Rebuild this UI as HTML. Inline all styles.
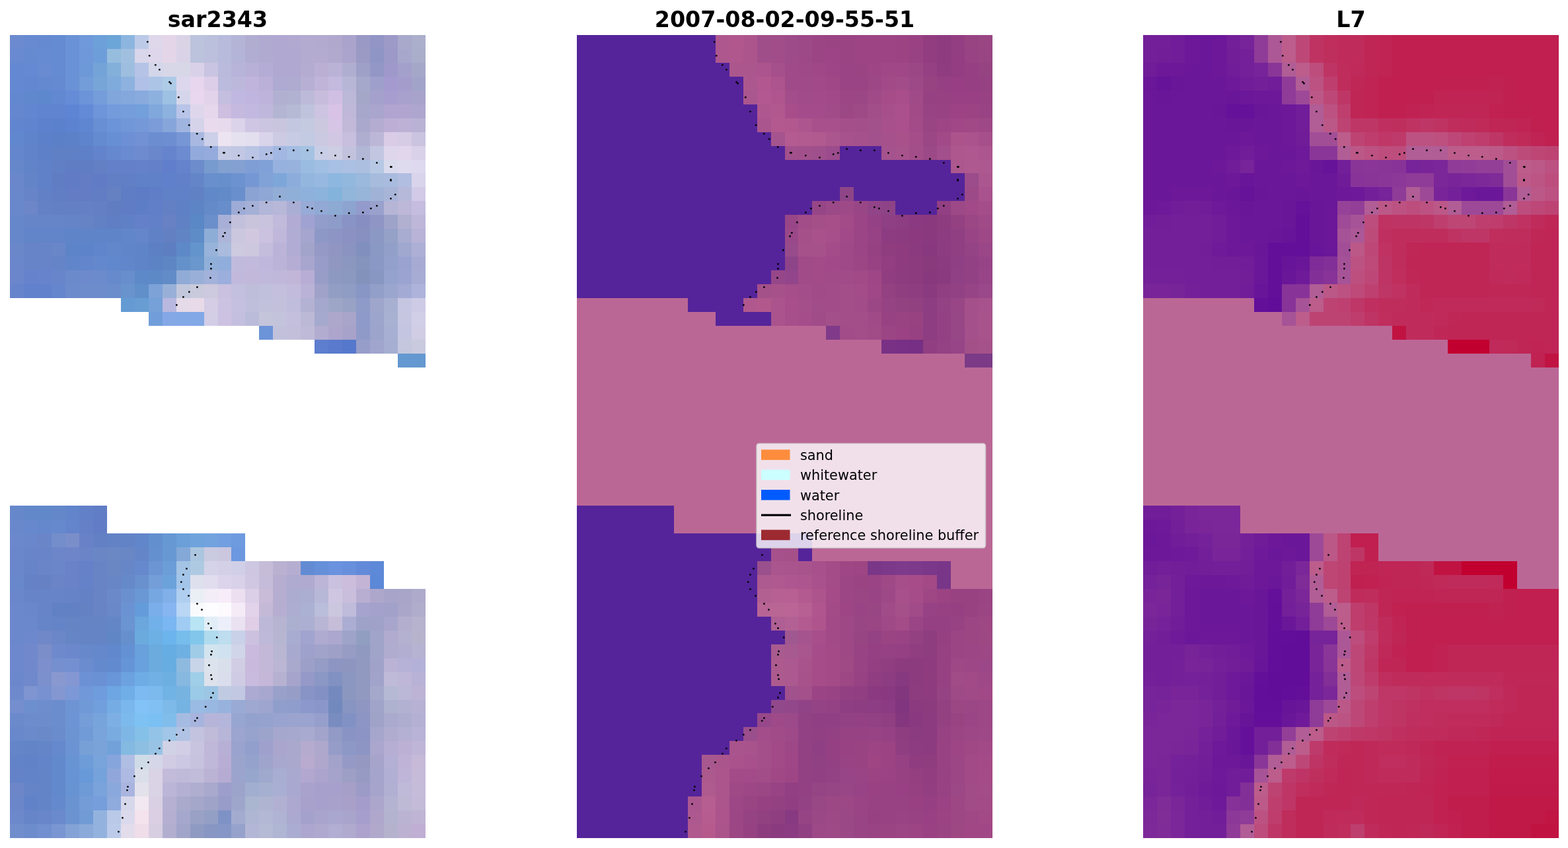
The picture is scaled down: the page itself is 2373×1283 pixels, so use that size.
<!DOCTYPE html>
<html><head><meta charset="utf-8"><title>shoreline detection</title>
<style>html,body{margin:0;padding:0;background:#fff}body{width:2373px;height:1283px;overflow:hidden}svg{display:block}</style>
</head><body>
<svg width="2373" height="1283" viewBox="0 0 2373 1283">
<g shape-rendering="crispEdges">
<rect x="15" y="53" width="21" height="21" fill="#6b8ad0"/>
<rect x="36" y="53" width="21" height="21" fill="#678ad0"/>
<rect x="57" y="53" width="21" height="21" fill="#668ad1"/>
<rect x="78" y="53" width="21" height="21" fill="#658bd2"/>
<rect x="99" y="53" width="21" height="21" fill="#6a92d6"/>
<rect x="120" y="53" width="21" height="21" fill="#6f99db"/>
<rect x="141" y="53" width="21" height="21" fill="#6da0d8"/>
<rect x="162" y="53" width="21" height="21" fill="#6ca5d7"/>
<rect x="183" y="53" width="21" height="21" fill="#8cb6e0"/>
<rect x="204" y="53" width="21" height="21" fill="#bccae8"/>
<rect x="225" y="53" width="21" height="21" fill="#dfd8eb"/>
<rect x="246" y="53" width="21" height="21" fill="#e4d6e8"/>
<rect x="267" y="53" width="21" height="21" fill="#dad3e6"/>
<rect x="288" y="53" width="21" height="21" fill="#bcc3dc"/>
<rect x="309" y="53" width="21" height="21" fill="#bbc0dc"/>
<rect x="330" y="53" width="20" height="21" fill="#b8bbdb"/>
<rect x="350" y="53" width="21" height="21" fill="#b4b4d7"/>
<rect x="371" y="53" width="21" height="21" fill="#b1add1"/>
<rect x="392" y="53" width="21" height="21" fill="#b0a9d0"/>
<rect x="413" y="53" width="21" height="21" fill="#b0a8d0"/>
<rect x="434" y="53" width="21" height="21" fill="#b1a9d0"/>
<rect x="455" y="53" width="21" height="21" fill="#b3abd0"/>
<rect x="476" y="53" width="21" height="21" fill="#b3abcf"/>
<rect x="497" y="53" width="21" height="21" fill="#b0a8cd"/>
<rect x="518" y="53" width="21" height="21" fill="#aaa3cb"/>
<rect x="539" y="53" width="21" height="21" fill="#9a99c5"/>
<rect x="560" y="53" width="21" height="21" fill="#9295c5"/>
<rect x="581" y="53" width="21" height="21" fill="#9d9ac8"/>
<rect x="602" y="53" width="21" height="21" fill="#a9a9cb"/>
<rect x="623" y="53" width="21" height="21" fill="#acafcc"/>
<rect x="15" y="74" width="21" height="21" fill="#698ad0"/>
<rect x="36" y="74" width="21" height="21" fill="#668ad0"/>
<rect x="57" y="74" width="21" height="21" fill="#678bd2"/>
<rect x="78" y="74" width="21" height="21" fill="#658bd2"/>
<rect x="99" y="74" width="21" height="21" fill="#6a92d6"/>
<rect x="120" y="74" width="21" height="21" fill="#6f98db"/>
<rect x="141" y="74" width="21" height="21" fill="#6e9ed9"/>
<rect x="162" y="74" width="21" height="21" fill="#96bddd"/>
<rect x="183" y="74" width="21" height="21" fill="#a1c0df"/>
<rect x="204" y="74" width="21" height="21" fill="#d9d6eb"/>
<rect x="225" y="74" width="21" height="21" fill="#ded7eb"/>
<rect x="246" y="74" width="21" height="21" fill="#e4d6e8"/>
<rect x="267" y="74" width="21" height="21" fill="#dad3e7"/>
<rect x="288" y="74" width="21" height="21" fill="#bcc3dc"/>
<rect x="309" y="74" width="21" height="21" fill="#bdc0dc"/>
<rect x="330" y="74" width="20" height="21" fill="#b8bbdc"/>
<rect x="350" y="74" width="21" height="21" fill="#b4b4d8"/>
<rect x="371" y="74" width="21" height="21" fill="#b1add2"/>
<rect x="392" y="74" width="21" height="21" fill="#b0a9d0"/>
<rect x="413" y="74" width="42" height="21" fill="#b0a8d0"/>
<rect x="455" y="74" width="42" height="21" fill="#b4acd0"/>
<rect x="497" y="74" width="21" height="21" fill="#b1a9ce"/>
<rect x="518" y="74" width="21" height="21" fill="#aba4cc"/>
<rect x="539" y="74" width="21" height="21" fill="#9a9ac5"/>
<rect x="560" y="74" width="21" height="21" fill="#8f95c4"/>
<rect x="581" y="74" width="21" height="21" fill="#9c99c8"/>
<rect x="602" y="74" width="21" height="21" fill="#a7a7cc"/>
<rect x="623" y="74" width="21" height="21" fill="#aaaecb"/>
<rect x="15" y="95" width="21" height="21" fill="#6588d2"/>
<rect x="36" y="95" width="21" height="21" fill="#6589d2"/>
<rect x="57" y="95" width="21" height="21" fill="#688bd2"/>
<rect x="78" y="95" width="21" height="21" fill="#658bd2"/>
<rect x="99" y="95" width="21" height="21" fill="#6a92d6"/>
<rect x="120" y="95" width="21" height="21" fill="#6e99d8"/>
<rect x="141" y="95" width="21" height="21" fill="#74a3d8"/>
<rect x="162" y="95" width="21" height="21" fill="#83afdb"/>
<rect x="183" y="95" width="21" height="21" fill="#9ebee0"/>
<rect x="204" y="95" width="21" height="21" fill="#b5c3e6"/>
<rect x="225" y="95" width="21" height="21" fill="#d4d6ea"/>
<rect x="246" y="95" width="21" height="21" fill="#d7d7e8"/>
<rect x="267" y="95" width="21" height="21" fill="#d8d7e8"/>
<rect x="288" y="95" width="21" height="21" fill="#d9d1e8"/>
<rect x="309" y="95" width="21" height="21" fill="#c9c4e1"/>
<rect x="330" y="95" width="20" height="21" fill="#babadc"/>
<rect x="350" y="95" width="21" height="21" fill="#b8b4d9"/>
<rect x="371" y="95" width="21" height="21" fill="#b8b0d7"/>
<rect x="392" y="95" width="21" height="21" fill="#b4acd4"/>
<rect x="413" y="95" width="42" height="21" fill="#b0a8d0"/>
<rect x="455" y="95" width="21" height="21" fill="#b5acd1"/>
<rect x="476" y="95" width="21" height="21" fill="#bbb0d4"/>
<rect x="497" y="95" width="21" height="21" fill="#bab3d6"/>
<rect x="518" y="95" width="21" height="21" fill="#b0aed0"/>
<rect x="539" y="95" width="21" height="21" fill="#9fa0c8"/>
<rect x="560" y="95" width="21" height="21" fill="#9297c6"/>
<rect x="581" y="95" width="21" height="21" fill="#9e98cb"/>
<rect x="602" y="95" width="21" height="21" fill="#a4a0cc"/>
<rect x="623" y="95" width="21" height="21" fill="#a5a7c9"/>
<rect x="15" y="116" width="21" height="21" fill="#6488d2"/>
<rect x="36" y="116" width="21" height="21" fill="#6388d1"/>
<rect x="57" y="116" width="21" height="21" fill="#6489d0"/>
<rect x="78" y="116" width="21" height="21" fill="#658ad2"/>
<rect x="99" y="116" width="21" height="21" fill="#6a92d6"/>
<rect x="120" y="116" width="21" height="21" fill="#729dd8"/>
<rect x="141" y="116" width="21" height="21" fill="#77a5d8"/>
<rect x="162" y="116" width="21" height="21" fill="#7eaadc"/>
<rect x="183" y="116" width="21" height="21" fill="#8eb2df"/>
<rect x="204" y="116" width="21" height="21" fill="#b0c0e6"/>
<rect x="225" y="116" width="21" height="21" fill="#acc5e7"/>
<rect x="246" y="116" width="21" height="21" fill="#aecbe7"/>
<rect x="267" y="116" width="21" height="21" fill="#dcd7ec"/>
<rect x="288" y="116" width="21" height="21" fill="#e7d6ee"/>
<rect x="309" y="116" width="21" height="21" fill="#dccde8"/>
<rect x="330" y="116" width="20" height="21" fill="#babbdd"/>
<rect x="350" y="116" width="21" height="21" fill="#bcb8dc"/>
<rect x="371" y="116" width="21" height="21" fill="#c1b4dc"/>
<rect x="392" y="116" width="21" height="21" fill="#bbb0d8"/>
<rect x="413" y="116" width="21" height="21" fill="#aeaad1"/>
<rect x="434" y="116" width="21" height="21" fill="#aeaad0"/>
<rect x="455" y="116" width="21" height="21" fill="#b8b0d4"/>
<rect x="476" y="116" width="21" height="21" fill="#c0b5d8"/>
<rect x="497" y="116" width="21" height="21" fill="#c3bade"/>
<rect x="518" y="116" width="21" height="21" fill="#b7b6d6"/>
<rect x="539" y="116" width="21" height="21" fill="#a5a8ca"/>
<rect x="560" y="116" width="21" height="21" fill="#9f9fcb"/>
<rect x="581" y="116" width="21" height="21" fill="#a49acf"/>
<rect x="602" y="116" width="21" height="21" fill="#a49dcc"/>
<rect x="623" y="116" width="21" height="21" fill="#a2a3c9"/>
<rect x="15" y="137" width="21" height="21" fill="#6488d0"/>
<rect x="36" y="137" width="21" height="21" fill="#5f88cd"/>
<rect x="57" y="137" width="21" height="21" fill="#5e88cd"/>
<rect x="78" y="137" width="21" height="21" fill="#6388d2"/>
<rect x="99" y="137" width="21" height="21" fill="#658cd6"/>
<rect x="120" y="137" width="21" height="21" fill="#6c94d8"/>
<rect x="141" y="137" width="21" height="21" fill="#759dd9"/>
<rect x="162" y="137" width="21" height="21" fill="#80a6dc"/>
<rect x="183" y="137" width="21" height="21" fill="#84a8dc"/>
<rect x="204" y="137" width="21" height="21" fill="#88aadd"/>
<rect x="225" y="137" width="21" height="21" fill="#8db1df"/>
<rect x="246" y="137" width="21" height="21" fill="#9dc1e3"/>
<rect x="267" y="137" width="21" height="21" fill="#d5d6eb"/>
<rect x="288" y="137" width="21" height="21" fill="#e8d7ee"/>
<rect x="309" y="137" width="21" height="21" fill="#e2d2ea"/>
<rect x="330" y="137" width="20" height="21" fill="#c4bedf"/>
<rect x="350" y="137" width="21" height="21" fill="#c0b8e0"/>
<rect x="371" y="137" width="21" height="21" fill="#c0b5df"/>
<rect x="392" y="137" width="21" height="21" fill="#beb4db"/>
<rect x="413" y="137" width="21" height="21" fill="#b1b0d1"/>
<rect x="434" y="137" width="21" height="21" fill="#b1b1d1"/>
<rect x="455" y="137" width="21" height="21" fill="#bcbad8"/>
<rect x="476" y="137" width="21" height="21" fill="#c8bcdc"/>
<rect x="497" y="137" width="21" height="21" fill="#d1bfe3"/>
<rect x="518" y="137" width="21" height="21" fill="#bcb8d8"/>
<rect x="539" y="137" width="21" height="21" fill="#a5a7c9"/>
<rect x="560" y="137" width="21" height="21" fill="#a4a1cc"/>
<rect x="581" y="137" width="21" height="21" fill="#a89dcf"/>
<rect x="602" y="137" width="21" height="21" fill="#a8a0cd"/>
<rect x="623" y="137" width="21" height="21" fill="#a7a3cb"/>
<rect x="15" y="158" width="21" height="21" fill="#6487d0"/>
<rect x="36" y="158" width="21" height="21" fill="#6286cf"/>
<rect x="57" y="158" width="21" height="21" fill="#6084cf"/>
<rect x="78" y="158" width="21" height="21" fill="#6084d0"/>
<rect x="99" y="158" width="21" height="21" fill="#5e85d4"/>
<rect x="120" y="158" width="21" height="21" fill="#628ad7"/>
<rect x="141" y="158" width="21" height="21" fill="#6e94da"/>
<rect x="162" y="158" width="21" height="21" fill="#749cdc"/>
<rect x="183" y="158" width="21" height="21" fill="#759ddc"/>
<rect x="204" y="158" width="21" height="21" fill="#739fdb"/>
<rect x="225" y="158" width="21" height="21" fill="#80a8dc"/>
<rect x="246" y="158" width="21" height="21" fill="#8db2df"/>
<rect x="267" y="158" width="21" height="21" fill="#b8c4e8"/>
<rect x="288" y="158" width="21" height="21" fill="#ded7ec"/>
<rect x="309" y="158" width="21" height="21" fill="#e6d7ec"/>
<rect x="330" y="158" width="20" height="21" fill="#cebee0"/>
<rect x="350" y="158" width="21" height="21" fill="#c5b9e0"/>
<rect x="371" y="158" width="21" height="21" fill="#c2b9e0"/>
<rect x="392" y="158" width="21" height="21" fill="#c0b8dc"/>
<rect x="413" y="158" width="21" height="21" fill="#b3b5d2"/>
<rect x="434" y="158" width="21" height="21" fill="#b6bad5"/>
<rect x="455" y="158" width="21" height="21" fill="#c0c3dc"/>
<rect x="476" y="158" width="21" height="21" fill="#ccc4e0"/>
<rect x="497" y="158" width="21" height="21" fill="#d8c3e6"/>
<rect x="518" y="158" width="21" height="21" fill="#bfb8d8"/>
<rect x="539" y="158" width="21" height="21" fill="#a7a7cb"/>
<rect x="560" y="158" width="21" height="21" fill="#aaa5cd"/>
<rect x="581" y="158" width="21" height="21" fill="#b2a4d0"/>
<rect x="602" y="158" width="21" height="21" fill="#b1a5d0"/>
<rect x="623" y="158" width="21" height="21" fill="#aea6ce"/>
<rect x="15" y="179" width="21" height="21" fill="#6186cf"/>
<rect x="36" y="179" width="21" height="21" fill="#6084cd"/>
<rect x="57" y="179" width="21" height="21" fill="#5d81cc"/>
<rect x="78" y="179" width="21" height="21" fill="#5c81cc"/>
<rect x="99" y="179" width="21" height="21" fill="#5c83cf"/>
<rect x="120" y="179" width="21" height="21" fill="#5e86d1"/>
<rect x="141" y="179" width="21" height="21" fill="#688fd4"/>
<rect x="162" y="179" width="21" height="21" fill="#6c94d8"/>
<rect x="183" y="179" width="21" height="21" fill="#7297d8"/>
<rect x="204" y="179" width="21" height="21" fill="#7498d8"/>
<rect x="225" y="179" width="21" height="21" fill="#7b9cd8"/>
<rect x="246" y="179" width="21" height="21" fill="#86a6da"/>
<rect x="267" y="179" width="21" height="21" fill="#a0b4e0"/>
<rect x="288" y="179" width="21" height="21" fill="#d5d3ea"/>
<rect x="309" y="179" width="21" height="21" fill="#eadaee"/>
<rect x="330" y="179" width="20" height="21" fill="#e7daed"/>
<rect x="350" y="179" width="21" height="21" fill="#dbd3e9"/>
<rect x="371" y="179" width="21" height="21" fill="#cec6e3"/>
<rect x="392" y="179" width="21" height="21" fill="#ccc5e1"/>
<rect x="413" y="179" width="21" height="21" fill="#c9c5de"/>
<rect x="434" y="179" width="21" height="21" fill="#c3c7df"/>
<rect x="455" y="179" width="21" height="21" fill="#c4cae0"/>
<rect x="476" y="179" width="21" height="21" fill="#ccc8e0"/>
<rect x="497" y="179" width="21" height="21" fill="#d6c5e4"/>
<rect x="518" y="179" width="21" height="21" fill="#c2b9d9"/>
<rect x="539" y="179" width="21" height="21" fill="#aaa9cd"/>
<rect x="560" y="179" width="21" height="21" fill="#b4acd1"/>
<rect x="581" y="179" width="21" height="21" fill="#bdaed6"/>
<rect x="602" y="179" width="21" height="21" fill="#bdb1d6"/>
<rect x="623" y="179" width="21" height="21" fill="#bab2d5"/>
<rect x="15" y="200" width="21" height="21" fill="#6187cf"/>
<rect x="36" y="200" width="21" height="21" fill="#6084cc"/>
<rect x="57" y="200" width="21" height="21" fill="#5c80c9"/>
<rect x="78" y="200" width="21" height="21" fill="#5c80c8"/>
<rect x="99" y="200" width="21" height="21" fill="#5c81c9"/>
<rect x="120" y="200" width="21" height="21" fill="#5d84cc"/>
<rect x="141" y="200" width="21" height="21" fill="#648bd0"/>
<rect x="162" y="200" width="21" height="21" fill="#668fd4"/>
<rect x="183" y="200" width="21" height="21" fill="#6d90d4"/>
<rect x="204" y="200" width="21" height="21" fill="#7290d4"/>
<rect x="225" y="200" width="21" height="21" fill="#6c8ed1"/>
<rect x="246" y="200" width="21" height="21" fill="#6d8fd1"/>
<rect x="267" y="200" width="21" height="21" fill="#7696d5"/>
<rect x="288" y="200" width="21" height="21" fill="#a8b8e0"/>
<rect x="309" y="200" width="21" height="21" fill="#ccd0e8"/>
<rect x="330" y="200" width="20" height="21" fill="#ede4f2"/>
<rect x="350" y="200" width="21" height="21" fill="#e6e1ef"/>
<rect x="371" y="200" width="21" height="21" fill="#e3dfef"/>
<rect x="392" y="200" width="21" height="21" fill="#d9d4ea"/>
<rect x="413" y="200" width="21" height="21" fill="#cdcae4"/>
<rect x="434" y="200" width="21" height="21" fill="#c7cbe3"/>
<rect x="455" y="200" width="21" height="21" fill="#c3cbe3"/>
<rect x="476" y="200" width="21" height="21" fill="#cbc9e2"/>
<rect x="497" y="200" width="21" height="21" fill="#d2c7e3"/>
<rect x="518" y="200" width="21" height="21" fill="#c8bedd"/>
<rect x="539" y="200" width="21" height="21" fill="#afaed1"/>
<rect x="560" y="200" width="21" height="21" fill="#bdb7d7"/>
<rect x="581" y="200" width="21" height="21" fill="#dacce6"/>
<rect x="602" y="200" width="21" height="21" fill="#d7cce5"/>
<rect x="623" y="200" width="21" height="21" fill="#cac4e0"/>
<rect x="15" y="221" width="21" height="21" fill="#6386cc"/>
<rect x="36" y="221" width="21" height="21" fill="#6083c9"/>
<rect x="57" y="221" width="21" height="21" fill="#5d80c8"/>
<rect x="78" y="221" width="42" height="21" fill="#5f80c5"/>
<rect x="120" y="221" width="21" height="21" fill="#5e80c8"/>
<rect x="141" y="221" width="21" height="21" fill="#6384cc"/>
<rect x="162" y="221" width="21" height="21" fill="#6588cf"/>
<rect x="183" y="221" width="21" height="21" fill="#6b8bd0"/>
<rect x="204" y="221" width="21" height="21" fill="#6e8bcf"/>
<rect x="225" y="221" width="21" height="21" fill="#6a87cc"/>
<rect x="246" y="221" width="21" height="21" fill="#6683cd"/>
<rect x="267" y="221" width="21" height="21" fill="#6c8bd0"/>
<rect x="288" y="221" width="21" height="21" fill="#92a9db"/>
<rect x="309" y="221" width="21" height="21" fill="#96abdd"/>
<rect x="330" y="221" width="20" height="21" fill="#c4cae4"/>
<rect x="350" y="221" width="21" height="21" fill="#c2c8e4"/>
<rect x="371" y="221" width="21" height="21" fill="#bac4e4"/>
<rect x="392" y="221" width="21" height="21" fill="#b1bee3"/>
<rect x="413" y="221" width="21" height="21" fill="#a2b7e1"/>
<rect x="434" y="221" width="21" height="21" fill="#a4bde2"/>
<rect x="455" y="221" width="21" height="21" fill="#a5c2e3"/>
<rect x="476" y="221" width="21" height="21" fill="#c8cee6"/>
<rect x="497" y="221" width="21" height="21" fill="#cdcde3"/>
<rect x="518" y="221" width="21" height="21" fill="#c3c2dc"/>
<rect x="539" y="221" width="21" height="21" fill="#b2b7d6"/>
<rect x="560" y="221" width="21" height="21" fill="#c3c6e0"/>
<rect x="581" y="221" width="21" height="21" fill="#ded6eb"/>
<rect x="602" y="221" width="21" height="21" fill="#e1d6eb"/>
<rect x="623" y="221" width="21" height="21" fill="#d9d1e9"/>
<rect x="15" y="242" width="21" height="20" fill="#6787cb"/>
<rect x="36" y="242" width="21" height="20" fill="#6184c8"/>
<rect x="57" y="242" width="21" height="20" fill="#6080c8"/>
<rect x="78" y="242" width="21" height="20" fill="#607fc4"/>
<rect x="99" y="242" width="42" height="20" fill="#607dc4"/>
<rect x="141" y="242" width="21" height="20" fill="#6380c5"/>
<rect x="162" y="242" width="21" height="20" fill="#6480c8"/>
<rect x="183" y="242" width="21" height="20" fill="#6481c8"/>
<rect x="204" y="242" width="21" height="20" fill="#6581c9"/>
<rect x="225" y="242" width="21" height="20" fill="#6480c9"/>
<rect x="246" y="242" width="21" height="20" fill="#617ecc"/>
<rect x="267" y="242" width="21" height="20" fill="#6582cc"/>
<rect x="288" y="242" width="21" height="20" fill="#6c8ccc"/>
<rect x="309" y="242" width="21" height="20" fill="#789bcf"/>
<rect x="330" y="242" width="20" height="20" fill="#82a0d0"/>
<rect x="350" y="242" width="21" height="20" fill="#84a0d2"/>
<rect x="371" y="242" width="21" height="20" fill="#809ed6"/>
<rect x="392" y="242" width="21" height="20" fill="#7fa1d8"/>
<rect x="413" y="242" width="21" height="20" fill="#96b1dd"/>
<rect x="434" y="242" width="21" height="20" fill="#96b2dd"/>
<rect x="455" y="242" width="21" height="20" fill="#9abce0"/>
<rect x="476" y="242" width="21" height="20" fill="#a1bee3"/>
<rect x="497" y="242" width="21" height="20" fill="#a8c0e4"/>
<rect x="518" y="242" width="21" height="20" fill="#abc0e3"/>
<rect x="539" y="242" width="21" height="20" fill="#acbfe0"/>
<rect x="560" y="242" width="21" height="20" fill="#b6c8e4"/>
<rect x="581" y="242" width="21" height="20" fill="#d9dbed"/>
<rect x="602" y="242" width="21" height="20" fill="#dfdbef"/>
<rect x="623" y="242" width="21" height="20" fill="#ded9ee"/>
<rect x="15" y="262" width="21" height="21" fill="#6a87cb"/>
<rect x="36" y="262" width="21" height="21" fill="#6484c8"/>
<rect x="57" y="262" width="21" height="21" fill="#6080c7"/>
<rect x="78" y="262" width="21" height="21" fill="#607dc4"/>
<rect x="99" y="262" width="21" height="21" fill="#617cc4"/>
<rect x="120" y="262" width="21" height="21" fill="#637cc4"/>
<rect x="141" y="262" width="21" height="21" fill="#617cc4"/>
<rect x="162" y="262" width="21" height="21" fill="#627ec4"/>
<rect x="183" y="262" width="21" height="21" fill="#607fc5"/>
<rect x="204" y="262" width="21" height="21" fill="#6080c7"/>
<rect x="225" y="262" width="21" height="21" fill="#6080c8"/>
<rect x="246" y="262" width="21" height="21" fill="#6080cb"/>
<rect x="267" y="262" width="21" height="21" fill="#6180c9"/>
<rect x="288" y="262" width="21" height="21" fill="#6485c8"/>
<rect x="309" y="262" width="21" height="21" fill="#6990cc"/>
<rect x="330" y="262" width="20" height="21" fill="#678fcc"/>
<rect x="350" y="262" width="21" height="21" fill="#6c93cf"/>
<rect x="371" y="262" width="21" height="21" fill="#7598d5"/>
<rect x="392" y="262" width="21" height="21" fill="#81a2d7"/>
<rect x="413" y="262" width="21" height="21" fill="#7ea6d9"/>
<rect x="434" y="262" width="21" height="21" fill="#8caddc"/>
<rect x="455" y="262" width="21" height="21" fill="#93b6df"/>
<rect x="476" y="262" width="21" height="21" fill="#97b8e0"/>
<rect x="497" y="262" width="21" height="21" fill="#8eb7df"/>
<rect x="518" y="262" width="21" height="21" fill="#92b8dd"/>
<rect x="539" y="262" width="21" height="21" fill="#9ab9dc"/>
<rect x="560" y="262" width="21" height="21" fill="#a7bcdd"/>
<rect x="581" y="262" width="21" height="21" fill="#a9bbdf"/>
<rect x="602" y="262" width="21" height="21" fill="#b2bee1"/>
<rect x="623" y="262" width="21" height="21" fill="#d9d4ec"/>
<rect x="15" y="283" width="21" height="21" fill="#6987cb"/>
<rect x="36" y="283" width="21" height="21" fill="#6884c8"/>
<rect x="57" y="283" width="21" height="21" fill="#6180c5"/>
<rect x="78" y="283" width="21" height="21" fill="#617dc4"/>
<rect x="99" y="283" width="21" height="21" fill="#637cc4"/>
<rect x="120" y="283" width="21" height="21" fill="#647cc4"/>
<rect x="141" y="283" width="21" height="21" fill="#627dc4"/>
<rect x="162" y="283" width="21" height="21" fill="#6681c1"/>
<rect x="183" y="283" width="21" height="21" fill="#5e7dc4"/>
<rect x="204" y="283" width="21" height="21" fill="#5d7cc5"/>
<rect x="225" y="283" width="21" height="21" fill="#607dc8"/>
<rect x="246" y="283" width="21" height="21" fill="#6080c8"/>
<rect x="267" y="283" width="21" height="21" fill="#6080c7"/>
<rect x="288" y="283" width="21" height="21" fill="#6082c5"/>
<rect x="309" y="283" width="21" height="21" fill="#6188c8"/>
<rect x="330" y="283" width="20" height="21" fill="#618ac9"/>
<rect x="350" y="283" width="21" height="21" fill="#698fcc"/>
<rect x="371" y="283" width="21" height="21" fill="#8ba3d2"/>
<rect x="392" y="283" width="21" height="21" fill="#8ea7d5"/>
<rect x="413" y="283" width="21" height="21" fill="#92aed7"/>
<rect x="434" y="283" width="21" height="21" fill="#8fafd9"/>
<rect x="455" y="283" width="21" height="21" fill="#8eb1dc"/>
<rect x="476" y="283" width="21" height="21" fill="#8cb3dc"/>
<rect x="497" y="283" width="21" height="21" fill="#83b3db"/>
<rect x="518" y="283" width="21" height="21" fill="#92b5da"/>
<rect x="539" y="283" width="21" height="21" fill="#96b5d9"/>
<rect x="560" y="283" width="21" height="21" fill="#a0b3d7"/>
<rect x="581" y="283" width="21" height="21" fill="#a8b5d8"/>
<rect x="602" y="283" width="21" height="21" fill="#b6b9da"/>
<rect x="623" y="283" width="21" height="21" fill="#d2cae7"/>
<rect x="15" y="304" width="21" height="21" fill="#6988cb"/>
<rect x="36" y="304" width="21" height="21" fill="#6c86c8"/>
<rect x="57" y="304" width="21" height="21" fill="#6581c5"/>
<rect x="78" y="304" width="42" height="21" fill="#6480c4"/>
<rect x="120" y="304" width="21" height="21" fill="#6580c4"/>
<rect x="141" y="304" width="21" height="21" fill="#657fc4"/>
<rect x="162" y="304" width="21" height="21" fill="#607dc1"/>
<rect x="183" y="304" width="21" height="21" fill="#5f7cc4"/>
<rect x="204" y="304" width="21" height="21" fill="#5e7dc7"/>
<rect x="225" y="304" width="21" height="21" fill="#607fc8"/>
<rect x="246" y="304" width="21" height="21" fill="#6380c5"/>
<rect x="267" y="304" width="21" height="21" fill="#5e80c4"/>
<rect x="288" y="304" width="21" height="21" fill="#5d84c4"/>
<rect x="309" y="304" width="21" height="21" fill="#658ac8"/>
<rect x="330" y="304" width="20" height="21" fill="#678dca"/>
<rect x="350" y="304" width="21" height="21" fill="#9dabd6"/>
<rect x="371" y="304" width="21" height="21" fill="#a5b0d7"/>
<rect x="392" y="304" width="21" height="21" fill="#b2b6d8"/>
<rect x="413" y="304" width="21" height="21" fill="#b7b7d8"/>
<rect x="434" y="304" width="21" height="21" fill="#aaaed5"/>
<rect x="455" y="304" width="21" height="21" fill="#98abd7"/>
<rect x="476" y="304" width="21" height="21" fill="#91a9d4"/>
<rect x="497" y="304" width="21" height="21" fill="#8daad3"/>
<rect x="518" y="304" width="21" height="21" fill="#8ea4d0"/>
<rect x="539" y="304" width="21" height="21" fill="#929bcb"/>
<rect x="560" y="304" width="21" height="21" fill="#99a1cd"/>
<rect x="581" y="304" width="21" height="21" fill="#b6b5d6"/>
<rect x="602" y="304" width="21" height="21" fill="#bdb7d8"/>
<rect x="623" y="304" width="21" height="21" fill="#c5bddf"/>
<rect x="15" y="325" width="21" height="21" fill="#6787cb"/>
<rect x="36" y="325" width="21" height="21" fill="#6685c8"/>
<rect x="57" y="325" width="42" height="21" fill="#6684c8"/>
<rect x="99" y="325" width="21" height="21" fill="#6484c7"/>
<rect x="120" y="325" width="21" height="21" fill="#6683c5"/>
<rect x="141" y="325" width="21" height="21" fill="#6280c4"/>
<rect x="162" y="325" width="21" height="21" fill="#607ec4"/>
<rect x="183" y="325" width="21" height="21" fill="#6080c5"/>
<rect x="204" y="325" width="21" height="21" fill="#6380c8"/>
<rect x="225" y="325" width="21" height="21" fill="#6280c8"/>
<rect x="246" y="325" width="21" height="21" fill="#6880c4"/>
<rect x="267" y="325" width="21" height="21" fill="#6081c4"/>
<rect x="288" y="325" width="21" height="21" fill="#5a87c5"/>
<rect x="309" y="325" width="21" height="21" fill="#6b8fca"/>
<rect x="330" y="325" width="20" height="21" fill="#a8afd6"/>
<rect x="350" y="325" width="21" height="21" fill="#c2c0da"/>
<rect x="371" y="325" width="21" height="21" fill="#c9c3dc"/>
<rect x="392" y="325" width="21" height="21" fill="#cac3dd"/>
<rect x="413" y="325" width="21" height="21" fill="#c2badb"/>
<rect x="434" y="325" width="21" height="21" fill="#b2acd4"/>
<rect x="455" y="325" width="21" height="21" fill="#a0a2d1"/>
<rect x="476" y="325" width="21" height="21" fill="#939dcc"/>
<rect x="497" y="325" width="21" height="21" fill="#8d9cc9"/>
<rect x="518" y="325" width="21" height="21" fill="#8993c5"/>
<rect x="539" y="325" width="21" height="21" fill="#878fc2"/>
<rect x="560" y="325" width="21" height="21" fill="#8f96c5"/>
<rect x="581" y="325" width="21" height="21" fill="#9ea3c9"/>
<rect x="602" y="325" width="21" height="21" fill="#b1b0d1"/>
<rect x="623" y="325" width="21" height="21" fill="#beb7da"/>
<rect x="15" y="346" width="21" height="21" fill="#6787cb"/>
<rect x="36" y="346" width="63" height="21" fill="#6284c8"/>
<rect x="99" y="346" width="84" height="21" fill="#6084c8"/>
<rect x="183" y="346" width="21" height="21" fill="#6186ca"/>
<rect x="204" y="346" width="21" height="21" fill="#6586cb"/>
<rect x="225" y="346" width="21" height="21" fill="#6181c7"/>
<rect x="246" y="346" width="21" height="21" fill="#6380c2"/>
<rect x="267" y="346" width="21" height="21" fill="#6084c4"/>
<rect x="288" y="346" width="21" height="21" fill="#5d8cc7"/>
<rect x="309" y="346" width="21" height="21" fill="#8eadd6"/>
<rect x="330" y="346" width="20" height="21" fill="#aeb5d9"/>
<rect x="350" y="346" width="21" height="21" fill="#cbc7df"/>
<rect x="371" y="346" width="21" height="21" fill="#d1c8e0"/>
<rect x="392" y="346" width="21" height="21" fill="#cbc2df"/>
<rect x="413" y="346" width="21" height="21" fill="#c0b8db"/>
<rect x="434" y="346" width="21" height="21" fill="#b1acd4"/>
<rect x="455" y="346" width="21" height="21" fill="#a5a5cf"/>
<rect x="476" y="346" width="21" height="21" fill="#8e98c7"/>
<rect x="497" y="346" width="21" height="21" fill="#8c95c4"/>
<rect x="518" y="346" width="21" height="21" fill="#8b91c3"/>
<rect x="539" y="346" width="21" height="21" fill="#8790c0"/>
<rect x="560" y="346" width="21" height="21" fill="#8c98c4"/>
<rect x="581" y="346" width="21" height="21" fill="#96a1c8"/>
<rect x="602" y="346" width="21" height="21" fill="#a8acd0"/>
<rect x="623" y="346" width="21" height="21" fill="#b8b3d7"/>
<rect x="15" y="367" width="21" height="21" fill="#6987c9"/>
<rect x="36" y="367" width="21" height="21" fill="#6784c8"/>
<rect x="57" y="367" width="21" height="21" fill="#6884c8"/>
<rect x="78" y="367" width="21" height="21" fill="#6886c8"/>
<rect x="99" y="367" width="21" height="21" fill="#5e84c8"/>
<rect x="120" y="367" width="21" height="21" fill="#5d84cb"/>
<rect x="141" y="367" width="21" height="21" fill="#6085cc"/>
<rect x="162" y="367" width="21" height="21" fill="#6287cb"/>
<rect x="183" y="367" width="21" height="21" fill="#6085c9"/>
<rect x="204" y="367" width="21" height="21" fill="#6084c8"/>
<rect x="225" y="367" width="21" height="21" fill="#5d80c4"/>
<rect x="246" y="367" width="21" height="21" fill="#5d7fc2"/>
<rect x="267" y="367" width="21" height="21" fill="#5e89c8"/>
<rect x="288" y="367" width="21" height="21" fill="#6394cb"/>
<rect x="309" y="367" width="21" height="21" fill="#97b3d9"/>
<rect x="330" y="367" width="20" height="21" fill="#aabbdd"/>
<rect x="350" y="367" width="21" height="21" fill="#cdc9df"/>
<rect x="371" y="367" width="21" height="21" fill="#cec8df"/>
<rect x="392" y="367" width="21" height="21" fill="#c5bddc"/>
<rect x="413" y="367" width="21" height="21" fill="#bcb4d8"/>
<rect x="434" y="367" width="21" height="21" fill="#b0acd3"/>
<rect x="455" y="367" width="21" height="21" fill="#a2a4ca"/>
<rect x="476" y="367" width="21" height="21" fill="#9499c5"/>
<rect x="497" y="367" width="21" height="21" fill="#9095c1"/>
<rect x="518" y="367" width="21" height="21" fill="#8b93c0"/>
<rect x="539" y="367" width="21" height="21" fill="#818fbe"/>
<rect x="560" y="367" width="21" height="21" fill="#8a98c4"/>
<rect x="581" y="367" width="21" height="21" fill="#92a0c9"/>
<rect x="602" y="367" width="21" height="21" fill="#a0a8d0"/>
<rect x="623" y="367" width="21" height="21" fill="#aeafd6"/>
<rect x="15" y="388" width="21" height="21" fill="#6b87cb"/>
<rect x="36" y="388" width="21" height="21" fill="#6884c9"/>
<rect x="57" y="388" width="21" height="21" fill="#6884c8"/>
<rect x="78" y="388" width="21" height="21" fill="#6584c8"/>
<rect x="99" y="388" width="21" height="21" fill="#6185c9"/>
<rect x="120" y="388" width="21" height="21" fill="#6285cc"/>
<rect x="141" y="388" width="21" height="21" fill="#6488cc"/>
<rect x="162" y="388" width="21" height="21" fill="#6188cc"/>
<rect x="183" y="388" width="21" height="21" fill="#6186c9"/>
<rect x="204" y="388" width="21" height="21" fill="#5f84c8"/>
<rect x="225" y="388" width="21" height="21" fill="#5c84c5"/>
<rect x="246" y="388" width="21" height="21" fill="#5e86c5"/>
<rect x="267" y="388" width="21" height="21" fill="#6591ca"/>
<rect x="288" y="388" width="21" height="21" fill="#6a97cc"/>
<rect x="309" y="388" width="21" height="21" fill="#91b0d9"/>
<rect x="330" y="388" width="20" height="21" fill="#90addb"/>
<rect x="350" y="388" width="21" height="21" fill="#c0bbdd"/>
<rect x="371" y="388" width="21" height="21" fill="#c2badc"/>
<rect x="392" y="388" width="21" height="21" fill="#c0b8dc"/>
<rect x="413" y="388" width="21" height="21" fill="#bcb4d8"/>
<rect x="434" y="388" width="21" height="21" fill="#b5add4"/>
<rect x="455" y="388" width="21" height="21" fill="#a8a5cf"/>
<rect x="476" y="388" width="21" height="21" fill="#989cc8"/>
<rect x="497" y="388" width="21" height="21" fill="#9098c1"/>
<rect x="518" y="388" width="21" height="21" fill="#8c97c0"/>
<rect x="539" y="388" width="21" height="21" fill="#8494bd"/>
<rect x="560" y="388" width="21" height="21" fill="#8998c4"/>
<rect x="581" y="388" width="21" height="21" fill="#93a0cc"/>
<rect x="602" y="388" width="21" height="21" fill="#9aa2d0"/>
<rect x="623" y="388" width="21" height="21" fill="#a7abd4"/>
<rect x="15" y="409" width="21" height="21" fill="#6c86cc"/>
<rect x="36" y="409" width="21" height="21" fill="#6682cc"/>
<rect x="57" y="409" width="21" height="21" fill="#6783cc"/>
<rect x="78" y="409" width="21" height="21" fill="#6885cc"/>
<rect x="99" y="409" width="21" height="21" fill="#6b8acc"/>
<rect x="120" y="409" width="21" height="21" fill="#6d8bcc"/>
<rect x="141" y="409" width="21" height="21" fill="#6b8bcc"/>
<rect x="162" y="409" width="21" height="21" fill="#668acc"/>
<rect x="183" y="409" width="21" height="21" fill="#688ecb"/>
<rect x="204" y="409" width="21" height="21" fill="#5e89c8"/>
<rect x="225" y="409" width="21" height="21" fill="#5d89c7"/>
<rect x="246" y="409" width="21" height="21" fill="#618cc7"/>
<rect x="267" y="409" width="21" height="21" fill="#90abd6"/>
<rect x="288" y="409" width="21" height="21" fill="#9aafd8"/>
<rect x="309" y="409" width="21" height="21" fill="#a3b2db"/>
<rect x="330" y="409" width="20" height="21" fill="#9baedc"/>
<rect x="350" y="409" width="21" height="21" fill="#c1b9dc"/>
<rect x="371" y="409" width="21" height="21" fill="#c2b8d9"/>
<rect x="392" y="409" width="21" height="21" fill="#c0b9dc"/>
<rect x="413" y="409" width="21" height="21" fill="#c0b8db"/>
<rect x="434" y="409" width="21" height="21" fill="#c1b6d8"/>
<rect x="455" y="409" width="21" height="21" fill="#b8aed5"/>
<rect x="476" y="409" width="21" height="21" fill="#989dc7"/>
<rect x="497" y="409" width="21" height="21" fill="#8e99c1"/>
<rect x="518" y="409" width="21" height="21" fill="#8b98c0"/>
<rect x="539" y="409" width="21" height="21" fill="#8292bb"/>
<rect x="560" y="409" width="21" height="21" fill="#8897c2"/>
<rect x="581" y="409" width="21" height="21" fill="#96a2ce"/>
<rect x="602" y="409" width="21" height="21" fill="#9ba3d1"/>
<rect x="623" y="409" width="21" height="21" fill="#a7acd5"/>
<rect x="15" y="430" width="21" height="21" fill="#6684cc"/>
<rect x="36" y="430" width="21" height="21" fill="#6181cc"/>
<rect x="57" y="430" width="21" height="21" fill="#6281cc"/>
<rect x="78" y="430" width="21" height="21" fill="#6585cc"/>
<rect x="99" y="430" width="21" height="21" fill="#6b8bcc"/>
<rect x="120" y="430" width="21" height="21" fill="#6d8ccc"/>
<rect x="141" y="430" width="21" height="21" fill="#6c8ccc"/>
<rect x="162" y="430" width="21" height="21" fill="#6b8dcc"/>
<rect x="183" y="430" width="21" height="21" fill="#6993cc"/>
<rect x="204" y="430" width="21" height="21" fill="#608fca"/>
<rect x="225" y="430" width="21" height="21" fill="#7da2d8"/>
<rect x="246" y="430" width="21" height="21" fill="#98b0d8"/>
<rect x="267" y="430" width="21" height="21" fill="#c2c7dc"/>
<rect x="288" y="430" width="21" height="21" fill="#c9cadc"/>
<rect x="309" y="430" width="21" height="21" fill="#cdc9de"/>
<rect x="330" y="430" width="20" height="21" fill="#c9c1df"/>
<rect x="350" y="430" width="21" height="21" fill="#c3bfdf"/>
<rect x="371" y="430" width="21" height="21" fill="#bebdda"/>
<rect x="392" y="430" width="21" height="21" fill="#c0bfdc"/>
<rect x="413" y="430" width="21" height="21" fill="#c3bfdc"/>
<rect x="434" y="430" width="21" height="21" fill="#c3bbdb"/>
<rect x="455" y="430" width="21" height="21" fill="#bbb3d7"/>
<rect x="476" y="430" width="21" height="21" fill="#a0a2ca"/>
<rect x="497" y="430" width="21" height="21" fill="#939ec4"/>
<rect x="518" y="430" width="21" height="21" fill="#8f9cc4"/>
<rect x="539" y="430" width="21" height="21" fill="#8796c4"/>
<rect x="560" y="430" width="21" height="21" fill="#929fc8"/>
<rect x="581" y="430" width="21" height="21" fill="#9ba6ce"/>
<rect x="602" y="430" width="21" height="21" fill="#a3abd4"/>
<rect x="623" y="430" width="21" height="21" fill="#aeb3db"/>
<rect x="183" y="451" width="21" height="21" fill="#649bd2"/>
<rect x="204" y="451" width="21" height="21" fill="#679dd3"/>
<rect x="225" y="451" width="21" height="21" fill="#75a0d8"/>
<rect x="246" y="451" width="21" height="21" fill="#b8b8e0"/>
<rect x="267" y="451" width="21" height="21" fill="#e4dae8"/>
<rect x="288" y="451" width="21" height="21" fill="#e8dae8"/>
<rect x="309" y="451" width="21" height="21" fill="#d4cde5"/>
<rect x="330" y="451" width="20" height="21" fill="#ccc2e1"/>
<rect x="350" y="451" width="21" height="21" fill="#c5c0e0"/>
<rect x="371" y="451" width="21" height="21" fill="#bfbfdc"/>
<rect x="392" y="451" width="21" height="21" fill="#c1c1dc"/>
<rect x="413" y="451" width="21" height="21" fill="#c3c0dc"/>
<rect x="434" y="451" width="21" height="21" fill="#c0bcdb"/>
<rect x="455" y="451" width="21" height="21" fill="#b3b2d2"/>
<rect x="476" y="451" width="21" height="21" fill="#a4a8cc"/>
<rect x="497" y="451" width="21" height="21" fill="#9da6c6"/>
<rect x="518" y="451" width="21" height="21" fill="#98a2c5"/>
<rect x="539" y="451" width="21" height="21" fill="#8e9ac8"/>
<rect x="560" y="451" width="21" height="21" fill="#9ea6cc"/>
<rect x="581" y="451" width="21" height="21" fill="#a8b0d2"/>
<rect x="602" y="451" width="21" height="21" fill="#c6c6e2"/>
<rect x="623" y="451" width="21" height="21" fill="#cecbe6"/>
<rect x="225" y="472" width="21" height="21" fill="#719eda"/>
<rect x="246" y="472" width="21" height="21" fill="#84a8e6"/>
<rect x="267" y="472" width="21" height="21" fill="#83a8e6"/>
<rect x="288" y="472" width="21" height="21" fill="#82a8e6"/>
<rect x="309" y="472" width="21" height="21" fill="#d3cde6"/>
<rect x="330" y="472" width="20" height="21" fill="#cdc2e1"/>
<rect x="350" y="472" width="21" height="21" fill="#c5bfdf"/>
<rect x="371" y="472" width="21" height="21" fill="#bbbcda"/>
<rect x="392" y="472" width="21" height="21" fill="#c4c4db"/>
<rect x="413" y="472" width="21" height="21" fill="#c4c3dc"/>
<rect x="434" y="472" width="21" height="21" fill="#c3bfdc"/>
<rect x="455" y="472" width="21" height="21" fill="#bcb9d7"/>
<rect x="476" y="472" width="21" height="21" fill="#a5a9cd"/>
<rect x="497" y="472" width="21" height="21" fill="#aca7cb"/>
<rect x="518" y="472" width="21" height="21" fill="#a9a4ca"/>
<rect x="539" y="472" width="21" height="21" fill="#8e9ac9"/>
<rect x="560" y="472" width="21" height="21" fill="#9ca5cc"/>
<rect x="581" y="472" width="21" height="21" fill="#a9b1d3"/>
<rect x="602" y="472" width="21" height="21" fill="#c6c6e1"/>
<rect x="623" y="472" width="21" height="21" fill="#d1cee7"/>
<rect x="392" y="493" width="21" height="21" fill="#6c94d8"/>
<rect x="413" y="493" width="21" height="21" fill="#c2c1dc"/>
<rect x="434" y="493" width="21" height="21" fill="#c3bfdb"/>
<rect x="455" y="493" width="21" height="21" fill="#bebad7"/>
<rect x="476" y="493" width="21" height="21" fill="#b2add0"/>
<rect x="497" y="493" width="21" height="21" fill="#ada5cc"/>
<rect x="518" y="493" width="21" height="21" fill="#a7a2ca"/>
<rect x="539" y="493" width="21" height="21" fill="#909ac9"/>
<rect x="560" y="493" width="21" height="21" fill="#9ca4cc"/>
<rect x="581" y="493" width="21" height="21" fill="#a7afd3"/>
<rect x="602" y="493" width="21" height="21" fill="#c4c6e1"/>
<rect x="623" y="493" width="21" height="21" fill="#d0cde5"/>
<rect x="476" y="514" width="21" height="21" fill="#5d7dce"/>
<rect x="497" y="514" width="21" height="21" fill="#597acd"/>
<rect x="518" y="514" width="21" height="21" fill="#5678cc"/>
<rect x="539" y="514" width="21" height="21" fill="#979dc9"/>
<rect x="560" y="514" width="21" height="21" fill="#9fa5cd"/>
<rect x="581" y="514" width="21" height="21" fill="#a6aed2"/>
<rect x="602" y="514" width="21" height="21" fill="#c4c7dd"/>
<rect x="623" y="514" width="21" height="21" fill="#cacade"/>
<rect x="602" y="535" width="42" height="21" fill="#6498d0"/>
<rect x="15" y="765" width="21" height="21" fill="#6688cb"/>
<rect x="36" y="765" width="21" height="21" fill="#6288c9"/>
<rect x="57" y="765" width="21" height="21" fill="#6188c9"/>
<rect x="78" y="765" width="21" height="21" fill="#6387c9"/>
<rect x="99" y="765" width="21" height="21" fill="#6184cb"/>
<rect x="120" y="765" width="21" height="21" fill="#6180c8"/>
<rect x="141" y="765" width="21" height="21" fill="#607dc5"/>
<rect x="15" y="786" width="21" height="21" fill="#6988cc"/>
<rect x="36" y="786" width="21" height="21" fill="#6788cc"/>
<rect x="57" y="786" width="21" height="21" fill="#6488cb"/>
<rect x="78" y="786" width="21" height="21" fill="#6688cc"/>
<rect x="99" y="786" width="21" height="21" fill="#6484cb"/>
<rect x="120" y="786" width="21" height="21" fill="#6680c8"/>
<rect x="141" y="786" width="21" height="21" fill="#627dc5"/>
<rect x="15" y="807" width="21" height="21" fill="#6b88cc"/>
<rect x="36" y="807" width="21" height="21" fill="#6b87cb"/>
<rect x="57" y="807" width="21" height="21" fill="#6a86c9"/>
<rect x="78" y="807" width="21" height="21" fill="#748dcb"/>
<rect x="99" y="807" width="21" height="21" fill="#7a8ec9"/>
<rect x="120" y="807" width="21" height="21" fill="#6881c7"/>
<rect x="141" y="807" width="21" height="21" fill="#6480c4"/>
<rect x="162" y="807" width="21" height="21" fill="#6282c5"/>
<rect x="183" y="807" width="21" height="21" fill="#6284c7"/>
<rect x="204" y="807" width="21" height="21" fill="#6186c9"/>
<rect x="225" y="807" width="21" height="21" fill="#638fcf"/>
<rect x="246" y="807" width="21" height="21" fill="#6698d4"/>
<rect x="267" y="807" width="21" height="21" fill="#6a9fd8"/>
<rect x="288" y="807" width="21" height="21" fill="#6ea3dc"/>
<rect x="309" y="807" width="21" height="21" fill="#72a3df"/>
<rect x="330" y="807" width="20" height="21" fill="#729fe0"/>
<rect x="350" y="807" width="21" height="21" fill="#6e9ae0"/>
<rect x="15" y="828" width="21" height="21" fill="#6b87cb"/>
<rect x="36" y="828" width="21" height="21" fill="#6985c9"/>
<rect x="57" y="828" width="21" height="21" fill="#6984c8"/>
<rect x="78" y="828" width="21" height="21" fill="#6d86c9"/>
<rect x="99" y="828" width="21" height="21" fill="#6e85c8"/>
<rect x="120" y="828" width="21" height="21" fill="#6b84c8"/>
<rect x="141" y="828" width="21" height="21" fill="#6b86c4"/>
<rect x="162" y="828" width="21" height="21" fill="#6b87c4"/>
<rect x="183" y="828" width="21" height="21" fill="#6987c5"/>
<rect x="204" y="828" width="21" height="21" fill="#6486c9"/>
<rect x="225" y="828" width="21" height="21" fill="#6590d0"/>
<rect x="246" y="828" width="21" height="21" fill="#6798d4"/>
<rect x="267" y="828" width="21" height="21" fill="#84a8d8"/>
<rect x="288" y="828" width="21" height="21" fill="#adc6df"/>
<rect x="309" y="828" width="21" height="21" fill="#cacae1"/>
<rect x="330" y="828" width="20" height="21" fill="#cac7df"/>
<rect x="350" y="828" width="21" height="21" fill="#6c98e0"/>
<rect x="15" y="849" width="21" height="21" fill="#6b87cb"/>
<rect x="36" y="849" width="21" height="21" fill="#6884c8"/>
<rect x="57" y="849" width="21" height="21" fill="#6a86c8"/>
<rect x="78" y="849" width="21" height="21" fill="#6c86ca"/>
<rect x="99" y="849" width="21" height="21" fill="#6982c8"/>
<rect x="120" y="849" width="21" height="21" fill="#6681c8"/>
<rect x="141" y="849" width="21" height="21" fill="#6884c4"/>
<rect x="162" y="849" width="21" height="21" fill="#6a87c4"/>
<rect x="183" y="849" width="21" height="21" fill="#6686c8"/>
<rect x="204" y="849" width="21" height="21" fill="#6589cc"/>
<rect x="225" y="849" width="21" height="21" fill="#6c95d4"/>
<rect x="246" y="849" width="21" height="21" fill="#6b9ed7"/>
<rect x="267" y="849" width="21" height="21" fill="#a4c4e5"/>
<rect x="288" y="849" width="21" height="21" fill="#aecae2"/>
<rect x="309" y="849" width="21" height="21" fill="#d5d3e8"/>
<rect x="330" y="849" width="20" height="21" fill="#d3d0e7"/>
<rect x="350" y="849" width="21" height="21" fill="#d1cfe7"/>
<rect x="371" y="849" width="21" height="21" fill="#cdc7e1"/>
<rect x="392" y="849" width="21" height="21" fill="#c6bcd8"/>
<rect x="413" y="849" width="21" height="21" fill="#bab1d1"/>
<rect x="434" y="849" width="21" height="21" fill="#b6aed0"/>
<rect x="455" y="849" width="21" height="21" fill="#628bd3"/>
<rect x="476" y="849" width="21" height="21" fill="#658fd8"/>
<rect x="497" y="849" width="21" height="21" fill="#6a92de"/>
<rect x="518" y="849" width="21" height="21" fill="#688fdc"/>
<rect x="539" y="849" width="21" height="21" fill="#638ad9"/>
<rect x="560" y="849" width="21" height="21" fill="#5e88d8"/>
<rect x="15" y="870" width="21" height="21" fill="#6987cb"/>
<rect x="36" y="870" width="21" height="21" fill="#6582c6"/>
<rect x="57" y="870" width="21" height="21" fill="#6682c5"/>
<rect x="78" y="870" width="21" height="21" fill="#6b84c8"/>
<rect x="99" y="870" width="21" height="21" fill="#6a83c8"/>
<rect x="120" y="870" width="21" height="21" fill="#6581c7"/>
<rect x="141" y="870" width="21" height="21" fill="#6884c4"/>
<rect x="162" y="870" width="21" height="21" fill="#6885c5"/>
<rect x="183" y="870" width="21" height="21" fill="#6689c9"/>
<rect x="204" y="870" width="21" height="21" fill="#6991ce"/>
<rect x="225" y="870" width="21" height="21" fill="#749ed8"/>
<rect x="246" y="870" width="21" height="21" fill="#6ca2da"/>
<rect x="267" y="870" width="21" height="21" fill="#a3c5e9"/>
<rect x="288" y="870" width="21" height="21" fill="#dee0ee"/>
<rect x="309" y="870" width="21" height="21" fill="#e2dcef"/>
<rect x="330" y="870" width="20" height="21" fill="#dbd4eb"/>
<rect x="350" y="870" width="21" height="21" fill="#d9d1e9"/>
<rect x="371" y="870" width="21" height="21" fill="#d0c8e3"/>
<rect x="392" y="870" width="21" height="21" fill="#c4bcd8"/>
<rect x="413" y="870" width="21" height="21" fill="#b5aed1"/>
<rect x="434" y="870" width="21" height="21" fill="#aeaad0"/>
<rect x="455" y="870" width="21" height="21" fill="#b0aad1"/>
<rect x="476" y="870" width="21" height="21" fill="#bcb5d8"/>
<rect x="497" y="870" width="21" height="21" fill="#cac1df"/>
<rect x="518" y="870" width="21" height="21" fill="#cbbddb"/>
<rect x="539" y="870" width="21" height="21" fill="#c3b4d5"/>
<rect x="560" y="870" width="21" height="21" fill="#5c88d8"/>
<rect x="15" y="891" width="21" height="21" fill="#6b87cb"/>
<rect x="36" y="891" width="63" height="21" fill="#6884c8"/>
<rect x="99" y="891" width="21" height="21" fill="#6783c7"/>
<rect x="120" y="891" width="21" height="21" fill="#6581c5"/>
<rect x="141" y="891" width="21" height="21" fill="#6884c4"/>
<rect x="162" y="891" width="21" height="21" fill="#6b88c8"/>
<rect x="183" y="891" width="21" height="21" fill="#6b90cf"/>
<rect x="204" y="891" width="21" height="21" fill="#6998d5"/>
<rect x="225" y="891" width="21" height="21" fill="#77a7e0"/>
<rect x="246" y="891" width="21" height="21" fill="#81b0e9"/>
<rect x="267" y="891" width="21" height="21" fill="#b0cef0"/>
<rect x="288" y="891" width="21" height="21" fill="#eaeef5"/>
<rect x="309" y="891" width="21" height="21" fill="#f3edf8"/>
<rect x="330" y="891" width="20" height="21" fill="#f7edf8"/>
<rect x="350" y="891" width="21" height="21" fill="#ebdff0"/>
<rect x="371" y="891" width="21" height="21" fill="#dbcfe7"/>
<rect x="392" y="891" width="21" height="21" fill="#c8bcd9"/>
<rect x="413" y="891" width="21" height="21" fill="#b5aed1"/>
<rect x="434" y="891" width="21" height="21" fill="#acacd0"/>
<rect x="455" y="891" width="21" height="21" fill="#abadd1"/>
<rect x="476" y="891" width="21" height="21" fill="#b7b7d7"/>
<rect x="497" y="891" width="21" height="21" fill="#cfc7e2"/>
<rect x="518" y="891" width="21" height="21" fill="#c9bedc"/>
<rect x="539" y="891" width="21" height="21" fill="#b8aed1"/>
<rect x="560" y="891" width="21" height="21" fill="#aea7cc"/>
<rect x="581" y="891" width="21" height="21" fill="#a8a4c9"/>
<rect x="602" y="891" width="21" height="21" fill="#a9a5c9"/>
<rect x="623" y="891" width="21" height="21" fill="#aeaacb"/>
<rect x="15" y="912" width="21" height="21" fill="#6c88cc"/>
<rect x="36" y="912" width="21" height="21" fill="#6b87cb"/>
<rect x="57" y="912" width="21" height="21" fill="#6784c8"/>
<rect x="78" y="912" width="21" height="21" fill="#6281c5"/>
<rect x="99" y="912" width="21" height="21" fill="#6281c4"/>
<rect x="120" y="912" width="21" height="21" fill="#6481c4"/>
<rect x="141" y="912" width="21" height="21" fill="#6884c4"/>
<rect x="162" y="912" width="21" height="21" fill="#6a88c8"/>
<rect x="183" y="912" width="21" height="21" fill="#6b93d3"/>
<rect x="204" y="912" width="21" height="21" fill="#649cda"/>
<rect x="225" y="912" width="21" height="21" fill="#7aaeeb"/>
<rect x="246" y="912" width="21" height="21" fill="#86b5f1"/>
<rect x="267" y="912" width="21" height="21" fill="#bad6f5"/>
<rect x="288" y="912" width="21" height="21" fill="#f9fafb"/>
<rect x="309" y="912" width="21" height="21" fill="#fdfcfe"/>
<rect x="330" y="912" width="20" height="21" fill="#fcfafd"/>
<rect x="350" y="912" width="21" height="21" fill="#f5ebf7"/>
<rect x="371" y="912" width="21" height="21" fill="#e2d2ea"/>
<rect x="392" y="912" width="21" height="21" fill="#c4b9d7"/>
<rect x="413" y="912" width="21" height="21" fill="#b6aed1"/>
<rect x="434" y="912" width="21" height="21" fill="#acadd0"/>
<rect x="455" y="912" width="21" height="21" fill="#abb1d2"/>
<rect x="476" y="912" width="21" height="21" fill="#bbbeda"/>
<rect x="497" y="912" width="21" height="21" fill="#cbc7df"/>
<rect x="518" y="912" width="21" height="21" fill="#bfbbdb"/>
<rect x="539" y="912" width="21" height="21" fill="#a6a4ce"/>
<rect x="560" y="912" width="21" height="21" fill="#a4a1cc"/>
<rect x="581" y="912" width="21" height="21" fill="#a2a1c9"/>
<rect x="602" y="912" width="21" height="21" fill="#aaa6c9"/>
<rect x="623" y="912" width="21" height="21" fill="#b0accb"/>
<rect x="15" y="933" width="21" height="21" fill="#6c88cc"/>
<rect x="36" y="933" width="21" height="21" fill="#6b88cc"/>
<rect x="57" y="933" width="21" height="21" fill="#6685c8"/>
<rect x="78" y="933" width="21" height="21" fill="#6484c7"/>
<rect x="99" y="933" width="63" height="21" fill="#6484c4"/>
<rect x="162" y="933" width="21" height="21" fill="#6386c6"/>
<rect x="183" y="933" width="21" height="21" fill="#6a94d2"/>
<rect x="204" y="933" width="21" height="21" fill="#6ba6dc"/>
<rect x="225" y="933" width="21" height="21" fill="#71b0e8"/>
<rect x="246" y="933" width="21" height="21" fill="#7ab6f1"/>
<rect x="267" y="933" width="21" height="21" fill="#a0ccf4"/>
<rect x="288" y="933" width="21" height="21" fill="#b8e4f4"/>
<rect x="309" y="933" width="21" height="21" fill="#e2eef7"/>
<rect x="330" y="933" width="20" height="21" fill="#eceffa"/>
<rect x="350" y="933" width="21" height="21" fill="#eae1f1"/>
<rect x="371" y="933" width="21" height="21" fill="#dfcee6"/>
<rect x="392" y="933" width="21" height="21" fill="#bdb8d7"/>
<rect x="413" y="933" width="21" height="21" fill="#b6b4d1"/>
<rect x="434" y="933" width="21" height="21" fill="#abb0d0"/>
<rect x="455" y="933" width="21" height="21" fill="#adafd2"/>
<rect x="476" y="933" width="21" height="21" fill="#b8b5d5"/>
<rect x="497" y="933" width="21" height="21" fill="#c6bed9"/>
<rect x="518" y="933" width="21" height="21" fill="#acadd2"/>
<rect x="539" y="933" width="21" height="21" fill="#9ea2c9"/>
<rect x="560" y="933" width="21" height="21" fill="#a0a1c9"/>
<rect x="581" y="933" width="21" height="21" fill="#a7a5cc"/>
<rect x="602" y="933" width="21" height="21" fill="#b4aece"/>
<rect x="623" y="933" width="21" height="21" fill="#b7b2cd"/>
<rect x="15" y="954" width="21" height="21" fill="#6c88cc"/>
<rect x="36" y="954" width="21" height="21" fill="#6d88cc"/>
<rect x="57" y="954" width="21" height="21" fill="#7088c8"/>
<rect x="78" y="954" width="21" height="21" fill="#6b87c8"/>
<rect x="99" y="954" width="21" height="21" fill="#6685c5"/>
<rect x="120" y="954" width="42" height="21" fill="#6484c5"/>
<rect x="162" y="954" width="21" height="21" fill="#6186c6"/>
<rect x="183" y="954" width="21" height="21" fill="#658fcd"/>
<rect x="204" y="954" width="21" height="21" fill="#6baadd"/>
<rect x="225" y="954" width="21" height="21" fill="#6cb0e4"/>
<rect x="246" y="954" width="21" height="21" fill="#6cb4ec"/>
<rect x="267" y="954" width="21" height="21" fill="#77bdec"/>
<rect x="288" y="954" width="21" height="21" fill="#82c7eb"/>
<rect x="309" y="954" width="21" height="21" fill="#b0dbee"/>
<rect x="330" y="954" width="20" height="21" fill="#beddee"/>
<rect x="350" y="954" width="21" height="21" fill="#c9d1e8"/>
<rect x="371" y="954" width="21" height="21" fill="#ccc2e0"/>
<rect x="392" y="954" width="21" height="21" fill="#beb9d8"/>
<rect x="413" y="954" width="21" height="21" fill="#b7b6d1"/>
<rect x="434" y="954" width="21" height="21" fill="#a8acd0"/>
<rect x="455" y="954" width="21" height="21" fill="#a1a4ce"/>
<rect x="476" y="954" width="21" height="21" fill="#aeaad0"/>
<rect x="497" y="954" width="21" height="21" fill="#aba7ce"/>
<rect x="518" y="954" width="21" height="21" fill="#9ea4c9"/>
<rect x="539" y="954" width="21" height="21" fill="#919ec2"/>
<rect x="560" y="954" width="21" height="21" fill="#a0a4c8"/>
<rect x="581" y="954" width="21" height="21" fill="#b0abcf"/>
<rect x="602" y="954" width="21" height="21" fill="#b4b0d0"/>
<rect x="623" y="954" width="21" height="21" fill="#b7b3cd"/>
<rect x="15" y="975" width="21" height="21" fill="#6d88cc"/>
<rect x="36" y="975" width="21" height="21" fill="#7189cc"/>
<rect x="57" y="975" width="21" height="21" fill="#7b8ec9"/>
<rect x="78" y="975" width="21" height="21" fill="#6f8acc"/>
<rect x="99" y="975" width="21" height="21" fill="#6c88cc"/>
<rect x="120" y="975" width="21" height="21" fill="#6888cc"/>
<rect x="141" y="975" width="21" height="21" fill="#6488cb"/>
<rect x="162" y="975" width="21" height="21" fill="#6188cc"/>
<rect x="183" y="975" width="21" height="21" fill="#6491d3"/>
<rect x="204" y="975" width="21" height="21" fill="#68a1dc"/>
<rect x="225" y="975" width="21" height="21" fill="#6babde"/>
<rect x="246" y="975" width="21" height="21" fill="#66ade3"/>
<rect x="267" y="975" width="21" height="21" fill="#6fb0e2"/>
<rect x="288" y="975" width="21" height="21" fill="#a0cce8"/>
<rect x="309" y="975" width="21" height="21" fill="#d3e4ef"/>
<rect x="330" y="975" width="20" height="21" fill="#d0e2ef"/>
<rect x="350" y="975" width="21" height="21" fill="#d1d5e9"/>
<rect x="371" y="975" width="21" height="21" fill="#cabbde"/>
<rect x="392" y="975" width="21" height="21" fill="#c3b8d8"/>
<rect x="413" y="975" width="21" height="21" fill="#b8b6d1"/>
<rect x="434" y="975" width="21" height="21" fill="#a8a9cf"/>
<rect x="455" y="975" width="21" height="21" fill="#9ea1cc"/>
<rect x="476" y="975" width="21" height="21" fill="#a2a3cb"/>
<rect x="497" y="975" width="21" height="21" fill="#9fa0c8"/>
<rect x="518" y="975" width="21" height="21" fill="#979cc4"/>
<rect x="539" y="975" width="21" height="21" fill="#909ac1"/>
<rect x="560" y="975" width="21" height="21" fill="#a0a4c8"/>
<rect x="581" y="975" width="21" height="21" fill="#b0acd0"/>
<rect x="602" y="975" width="21" height="21" fill="#b2aed1"/>
<rect x="623" y="975" width="21" height="21" fill="#b6b2d1"/>
<rect x="15" y="996" width="21" height="21" fill="#6d88cc"/>
<rect x="36" y="996" width="21" height="21" fill="#7189cc"/>
<rect x="57" y="996" width="21" height="21" fill="#7d8fcc"/>
<rect x="78" y="996" width="21" height="21" fill="#758fcf"/>
<rect x="99" y="996" width="21" height="21" fill="#7490d0"/>
<rect x="120" y="996" width="21" height="21" fill="#6c8cd0"/>
<rect x="141" y="996" width="21" height="21" fill="#6589cd"/>
<rect x="162" y="996" width="21" height="21" fill="#628ace"/>
<rect x="183" y="996" width="21" height="21" fill="#6595d6"/>
<rect x="204" y="996" width="21" height="21" fill="#68a1de"/>
<rect x="225" y="996" width="21" height="21" fill="#6babde"/>
<rect x="246" y="996" width="21" height="21" fill="#67ade2"/>
<rect x="267" y="996" width="21" height="21" fill="#8fbae0"/>
<rect x="288" y="996" width="21" height="21" fill="#c8d4e8"/>
<rect x="309" y="996" width="21" height="21" fill="#dde3ed"/>
<rect x="330" y="996" width="20" height="21" fill="#dadfec"/>
<rect x="350" y="996" width="21" height="21" fill="#d1cde4"/>
<rect x="371" y="996" width="21" height="21" fill="#c9badd"/>
<rect x="392" y="996" width="21" height="21" fill="#c4b8d8"/>
<rect x="413" y="996" width="21" height="21" fill="#bab6d3"/>
<rect x="434" y="996" width="21" height="21" fill="#a9a8cd"/>
<rect x="455" y="996" width="21" height="21" fill="#9ca0c8"/>
<rect x="476" y="996" width="21" height="21" fill="#959cc5"/>
<rect x="497" y="996" width="21" height="21" fill="#8d96c2"/>
<rect x="518" y="996" width="21" height="21" fill="#8e96c0"/>
<rect x="539" y="996" width="21" height="21" fill="#9199c1"/>
<rect x="560" y="996" width="21" height="21" fill="#a1a2ca"/>
<rect x="581" y="996" width="21" height="21" fill="#bab3d5"/>
<rect x="602" y="996" width="21" height="21" fill="#b5b1d7"/>
<rect x="623" y="996" width="21" height="21" fill="#b3b1d7"/>
<rect x="15" y="1017" width="21" height="21" fill="#6c88cc"/>
<rect x="36" y="1017" width="21" height="21" fill="#6f89cc"/>
<rect x="57" y="1017" width="21" height="21" fill="#7c90cd"/>
<rect x="78" y="1017" width="21" height="21" fill="#8999d0"/>
<rect x="99" y="1017" width="21" height="21" fill="#8497d3"/>
<rect x="120" y="1017" width="21" height="21" fill="#6c91d4"/>
<rect x="141" y="1017" width="21" height="21" fill="#6991d4"/>
<rect x="162" y="1017" width="21" height="21" fill="#6896d8"/>
<rect x="183" y="1017" width="21" height="21" fill="#6ba2df"/>
<rect x="204" y="1017" width="21" height="21" fill="#6eace5"/>
<rect x="225" y="1017" width="21" height="21" fill="#71b0e4"/>
<rect x="246" y="1017" width="21" height="21" fill="#6eafe2"/>
<rect x="267" y="1017" width="21" height="21" fill="#87b8e0"/>
<rect x="288" y="1017" width="21" height="21" fill="#9fcee8"/>
<rect x="309" y="1017" width="21" height="21" fill="#dde1ec"/>
<rect x="330" y="1017" width="20" height="21" fill="#daddeb"/>
<rect x="350" y="1017" width="21" height="21" fill="#cfcbe4"/>
<rect x="371" y="1017" width="21" height="21" fill="#c9bbdd"/>
<rect x="392" y="1017" width="21" height="21" fill="#c5b7d7"/>
<rect x="413" y="1017" width="21" height="21" fill="#b6b1d1"/>
<rect x="434" y="1017" width="21" height="21" fill="#a6a4cc"/>
<rect x="455" y="1017" width="21" height="21" fill="#9499c8"/>
<rect x="476" y="1017" width="21" height="21" fill="#8b97c4"/>
<rect x="497" y="1017" width="21" height="21" fill="#8091c2"/>
<rect x="518" y="1017" width="21" height="21" fill="#8b97c0"/>
<rect x="539" y="1017" width="21" height="21" fill="#9299c1"/>
<rect x="560" y="1017" width="21" height="21" fill="#a1a3ca"/>
<rect x="581" y="1017" width="21" height="21" fill="#bebad7"/>
<rect x="602" y="1017" width="21" height="21" fill="#beb7d8"/>
<rect x="623" y="1017" width="21" height="21" fill="#b9b2d7"/>
<rect x="15" y="1038" width="21" height="21" fill="#6f8acc"/>
<rect x="36" y="1038" width="21" height="21" fill="#7e95d2"/>
<rect x="57" y="1038" width="21" height="21" fill="#7891d0"/>
<rect x="78" y="1038" width="21" height="21" fill="#8497d1"/>
<rect x="99" y="1038" width="21" height="21" fill="#7c98d6"/>
<rect x="120" y="1038" width="21" height="21" fill="#7198d8"/>
<rect x="141" y="1038" width="21" height="21" fill="#6f9cdc"/>
<rect x="162" y="1038" width="21" height="21" fill="#6da6e2"/>
<rect x="183" y="1038" width="21" height="21" fill="#70aee8"/>
<rect x="204" y="1038" width="21" height="21" fill="#7cbaf1"/>
<rect x="225" y="1038" width="21" height="21" fill="#7cbaee"/>
<rect x="246" y="1038" width="21" height="21" fill="#72b3e5"/>
<rect x="267" y="1038" width="21" height="21" fill="#77b3e1"/>
<rect x="288" y="1038" width="21" height="21" fill="#9bcae7"/>
<rect x="309" y="1038" width="21" height="21" fill="#9dc5e4"/>
<rect x="330" y="1038" width="20" height="21" fill="#c0cbe2"/>
<rect x="350" y="1038" width="21" height="21" fill="#c3c8e2"/>
<rect x="371" y="1038" width="21" height="21" fill="#acaad2"/>
<rect x="392" y="1038" width="21" height="21" fill="#a8a7cf"/>
<rect x="413" y="1038" width="21" height="21" fill="#99a1ca"/>
<rect x="434" y="1038" width="21" height="21" fill="#969ec8"/>
<rect x="455" y="1038" width="21" height="21" fill="#8893c6"/>
<rect x="476" y="1038" width="21" height="21" fill="#8390c4"/>
<rect x="497" y="1038" width="21" height="21" fill="#748abe"/>
<rect x="518" y="1038" width="21" height="21" fill="#8c97c0"/>
<rect x="539" y="1038" width="21" height="21" fill="#9199c1"/>
<rect x="560" y="1038" width="21" height="21" fill="#a4a8cb"/>
<rect x="581" y="1038" width="21" height="21" fill="#b6b9d4"/>
<rect x="602" y="1038" width="21" height="21" fill="#bbb7d6"/>
<rect x="623" y="1038" width="21" height="21" fill="#bdb3d5"/>
<rect x="15" y="1059" width="21" height="20" fill="#758ecd"/>
<rect x="36" y="1059" width="21" height="20" fill="#6e8fce"/>
<rect x="57" y="1059" width="21" height="20" fill="#6d8dcd"/>
<rect x="78" y="1059" width="21" height="20" fill="#6c8dcd"/>
<rect x="99" y="1059" width="21" height="20" fill="#6e94d4"/>
<rect x="120" y="1059" width="21" height="20" fill="#7099d8"/>
<rect x="141" y="1059" width="21" height="20" fill="#719edc"/>
<rect x="162" y="1059" width="21" height="20" fill="#75ace4"/>
<rect x="183" y="1059" width="21" height="20" fill="#7ab7ec"/>
<rect x="204" y="1059" width="21" height="20" fill="#82c2f6"/>
<rect x="225" y="1059" width="21" height="20" fill="#80c0f3"/>
<rect x="246" y="1059" width="21" height="20" fill="#7dbaea"/>
<rect x="267" y="1059" width="21" height="20" fill="#75b3e2"/>
<rect x="288" y="1059" width="21" height="20" fill="#9abbe3"/>
<rect x="309" y="1059" width="21" height="20" fill="#99b8e1"/>
<rect x="330" y="1059" width="20" height="20" fill="#98b2de"/>
<rect x="350" y="1059" width="21" height="20" fill="#99aad5"/>
<rect x="371" y="1059" width="21" height="20" fill="#9fa8d0"/>
<rect x="392" y="1059" width="21" height="20" fill="#9ea6cf"/>
<rect x="413" y="1059" width="21" height="20" fill="#909ecc"/>
<rect x="434" y="1059" width="21" height="20" fill="#8f9dcc"/>
<rect x="455" y="1059" width="21" height="20" fill="#8c98cb"/>
<rect x="476" y="1059" width="21" height="20" fill="#8a96c9"/>
<rect x="497" y="1059" width="21" height="20" fill="#7289bd"/>
<rect x="518" y="1059" width="21" height="20" fill="#8894c1"/>
<rect x="539" y="1059" width="21" height="20" fill="#8e96c1"/>
<rect x="560" y="1059" width="21" height="20" fill="#a0a4c8"/>
<rect x="581" y="1059" width="21" height="20" fill="#aeb2cf"/>
<rect x="602" y="1059" width="21" height="20" fill="#b2b1d1"/>
<rect x="623" y="1059" width="21" height="20" fill="#b7b1d3"/>
<rect x="15" y="1079" width="21" height="21" fill="#6b8acc"/>
<rect x="36" y="1079" width="42" height="21" fill="#6c8ccc"/>
<rect x="78" y="1079" width="21" height="21" fill="#6c8dcd"/>
<rect x="99" y="1079" width="21" height="21" fill="#6d94d4"/>
<rect x="120" y="1079" width="21" height="21" fill="#759ed8"/>
<rect x="141" y="1079" width="21" height="21" fill="#78a4dc"/>
<rect x="162" y="1079" width="21" height="21" fill="#7dafe4"/>
<rect x="183" y="1079" width="21" height="21" fill="#7cbaee"/>
<rect x="204" y="1079" width="21" height="21" fill="#7dc2f3"/>
<rect x="225" y="1079" width="21" height="21" fill="#7bc0f2"/>
<rect x="246" y="1079" width="21" height="21" fill="#81bdeb"/>
<rect x="267" y="1079" width="21" height="21" fill="#a6bbe2"/>
<rect x="288" y="1079" width="21" height="21" fill="#a7b4de"/>
<rect x="309" y="1079" width="21" height="21" fill="#b6b5d9"/>
<rect x="330" y="1079" width="20" height="21" fill="#b3b6da"/>
<rect x="350" y="1079" width="21" height="21" fill="#97a6d0"/>
<rect x="371" y="1079" width="21" height="21" fill="#93a2cd"/>
<rect x="392" y="1079" width="21" height="21" fill="#94a2cd"/>
<rect x="413" y="1079" width="21" height="21" fill="#98a3cf"/>
<rect x="434" y="1079" width="21" height="21" fill="#9ba4cf"/>
<rect x="455" y="1079" width="21" height="21" fill="#9ba3cf"/>
<rect x="476" y="1079" width="21" height="21" fill="#969fcc"/>
<rect x="497" y="1079" width="21" height="21" fill="#788cc0"/>
<rect x="518" y="1079" width="21" height="21" fill="#8291c3"/>
<rect x="539" y="1079" width="21" height="21" fill="#8d95c4"/>
<rect x="560" y="1079" width="21" height="21" fill="#9fa3c8"/>
<rect x="581" y="1079" width="21" height="21" fill="#a9aacd"/>
<rect x="602" y="1079" width="21" height="21" fill="#aeadd0"/>
<rect x="623" y="1079" width="21" height="21" fill="#b4b0d4"/>
<rect x="15" y="1100" width="21" height="21" fill="#6888cb"/>
<rect x="36" y="1100" width="21" height="21" fill="#6a8acb"/>
<rect x="57" y="1100" width="21" height="21" fill="#6989c9"/>
<rect x="78" y="1100" width="21" height="21" fill="#6b8ccc"/>
<rect x="99" y="1100" width="21" height="21" fill="#6c94d3"/>
<rect x="120" y="1100" width="21" height="21" fill="#709bd6"/>
<rect x="141" y="1100" width="21" height="21" fill="#78a4db"/>
<rect x="162" y="1100" width="21" height="21" fill="#7aabe0"/>
<rect x="183" y="1100" width="21" height="21" fill="#7eb6e5"/>
<rect x="204" y="1100" width="21" height="21" fill="#84c0e8"/>
<rect x="225" y="1100" width="21" height="21" fill="#93c4e7"/>
<rect x="246" y="1100" width="21" height="21" fill="#a1c6e7"/>
<rect x="267" y="1100" width="21" height="21" fill="#b1c3e4"/>
<rect x="288" y="1100" width="21" height="21" fill="#c4c3df"/>
<rect x="309" y="1100" width="21" height="21" fill="#bfbbd9"/>
<rect x="330" y="1100" width="20" height="21" fill="#b7b5d8"/>
<rect x="350" y="1100" width="21" height="21" fill="#9ba5cf"/>
<rect x="371" y="1100" width="21" height="21" fill="#97a3cc"/>
<rect x="392" y="1100" width="21" height="21" fill="#9ca4cc"/>
<rect x="413" y="1100" width="21" height="21" fill="#a6a7cc"/>
<rect x="434" y="1100" width="21" height="21" fill="#a7a8cd"/>
<rect x="455" y="1100" width="21" height="21" fill="#a8aacf"/>
<rect x="476" y="1100" width="21" height="21" fill="#a2a4cc"/>
<rect x="497" y="1100" width="21" height="21" fill="#929ac6"/>
<rect x="518" y="1100" width="21" height="21" fill="#8994c4"/>
<rect x="539" y="1100" width="21" height="21" fill="#8b94c4"/>
<rect x="560" y="1100" width="21" height="21" fill="#a6a5cc"/>
<rect x="581" y="1100" width="21" height="21" fill="#afacd0"/>
<rect x="602" y="1100" width="21" height="21" fill="#b4b0d4"/>
<rect x="623" y="1100" width="21" height="21" fill="#b8b3d7"/>
<rect x="15" y="1121" width="21" height="21" fill="#6585c9"/>
<rect x="36" y="1121" width="21" height="21" fill="#6484c8"/>
<rect x="57" y="1121" width="21" height="21" fill="#6485c8"/>
<rect x="78" y="1121" width="21" height="21" fill="#6589cc"/>
<rect x="99" y="1121" width="21" height="21" fill="#6c94d4"/>
<rect x="120" y="1121" width="21" height="21" fill="#77a0d7"/>
<rect x="141" y="1121" width="21" height="21" fill="#7aa3d9"/>
<rect x="162" y="1121" width="21" height="21" fill="#72a1da"/>
<rect x="183" y="1121" width="21" height="21" fill="#84b9e1"/>
<rect x="204" y="1121" width="21" height="21" fill="#8dbfe2"/>
<rect x="225" y="1121" width="21" height="21" fill="#99c3e4"/>
<rect x="246" y="1121" width="21" height="21" fill="#d2d2e7"/>
<rect x="267" y="1121" width="21" height="21" fill="#d1cee6"/>
<rect x="288" y="1121" width="21" height="21" fill="#c8c4e0"/>
<rect x="309" y="1121" width="21" height="21" fill="#c0b8d8"/>
<rect x="330" y="1121" width="20" height="21" fill="#b7afd5"/>
<rect x="350" y="1121" width="21" height="21" fill="#9aa3cd"/>
<rect x="371" y="1121" width="21" height="21" fill="#929fcc"/>
<rect x="392" y="1121" width="21" height="21" fill="#9fa1cc"/>
<rect x="413" y="1121" width="21" height="21" fill="#aaa5cc"/>
<rect x="434" y="1121" width="21" height="21" fill="#aaa8cc"/>
<rect x="455" y="1121" width="21" height="21" fill="#b4abcf"/>
<rect x="476" y="1121" width="21" height="21" fill="#afa8cd"/>
<rect x="497" y="1121" width="21" height="21" fill="#959cc8"/>
<rect x="518" y="1121" width="21" height="21" fill="#8d98c7"/>
<rect x="539" y="1121" width="21" height="21" fill="#8d95c4"/>
<rect x="560" y="1121" width="21" height="21" fill="#aaa6cd"/>
<rect x="581" y="1121" width="21" height="21" fill="#b6aed3"/>
<rect x="602" y="1121" width="21" height="21" fill="#bcb1d5"/>
<rect x="623" y="1121" width="21" height="21" fill="#bfb5d7"/>
<rect x="15" y="1142" width="21" height="21" fill="#6383c8"/>
<rect x="36" y="1142" width="21" height="21" fill="#6282c8"/>
<rect x="57" y="1142" width="21" height="21" fill="#6384c8"/>
<rect x="78" y="1142" width="21" height="21" fill="#6289cc"/>
<rect x="99" y="1142" width="21" height="21" fill="#6894d4"/>
<rect x="120" y="1142" width="21" height="21" fill="#6e9cd8"/>
<rect x="141" y="1142" width="21" height="21" fill="#78a3db"/>
<rect x="162" y="1142" width="21" height="21" fill="#86a5dc"/>
<rect x="183" y="1142" width="21" height="21" fill="#b0bee4"/>
<rect x="204" y="1142" width="21" height="21" fill="#cfdce8"/>
<rect x="225" y="1142" width="21" height="21" fill="#d5d6e7"/>
<rect x="246" y="1142" width="21" height="21" fill="#d1cce4"/>
<rect x="267" y="1142" width="21" height="21" fill="#ccc7e3"/>
<rect x="288" y="1142" width="21" height="21" fill="#c7c3df"/>
<rect x="309" y="1142" width="21" height="21" fill="#c0b8d8"/>
<rect x="330" y="1142" width="20" height="21" fill="#b8add4"/>
<rect x="350" y="1142" width="21" height="21" fill="#9ba4cc"/>
<rect x="371" y="1142" width="21" height="21" fill="#95a3cc"/>
<rect x="392" y="1142" width="21" height="21" fill="#9fa4cc"/>
<rect x="413" y="1142" width="21" height="21" fill="#a8a8cf"/>
<rect x="434" y="1142" width="21" height="21" fill="#aaa8cd"/>
<rect x="455" y="1142" width="21" height="21" fill="#b8abcf"/>
<rect x="476" y="1142" width="21" height="21" fill="#b0a8cc"/>
<rect x="497" y="1142" width="21" height="21" fill="#a2a2cb"/>
<rect x="518" y="1142" width="21" height="21" fill="#949ac5"/>
<rect x="539" y="1142" width="21" height="21" fill="#9599c2"/>
<rect x="560" y="1142" width="21" height="21" fill="#a7a4cc"/>
<rect x="581" y="1142" width="21" height="21" fill="#b4afd4"/>
<rect x="602" y="1142" width="21" height="21" fill="#bfb4d7"/>
<rect x="623" y="1142" width="21" height="21" fill="#c6bad8"/>
<rect x="15" y="1163" width="21" height="21" fill="#6382c8"/>
<rect x="36" y="1163" width="21" height="21" fill="#6383c8"/>
<rect x="57" y="1163" width="21" height="21" fill="#6484c8"/>
<rect x="78" y="1163" width="21" height="21" fill="#6189cc"/>
<rect x="99" y="1163" width="21" height="21" fill="#6793d4"/>
<rect x="120" y="1163" width="21" height="21" fill="#6899d8"/>
<rect x="141" y="1163" width="21" height="21" fill="#76a2db"/>
<rect x="162" y="1163" width="21" height="21" fill="#91a7dc"/>
<rect x="183" y="1163" width="21" height="21" fill="#aebae2"/>
<rect x="204" y="1163" width="21" height="21" fill="#dadee8"/>
<rect x="225" y="1163" width="21" height="21" fill="#d9d3e5"/>
<rect x="246" y="1163" width="21" height="21" fill="#c2bbda"/>
<rect x="267" y="1163" width="21" height="21" fill="#c0bad9"/>
<rect x="288" y="1163" width="21" height="21" fill="#c1bcda"/>
<rect x="309" y="1163" width="21" height="21" fill="#bab3d4"/>
<rect x="330" y="1163" width="20" height="21" fill="#b6abd2"/>
<rect x="350" y="1163" width="21" height="21" fill="#9ba4cc"/>
<rect x="371" y="1163" width="21" height="21" fill="#97a6cc"/>
<rect x="392" y="1163" width="21" height="21" fill="#9ea9cd"/>
<rect x="413" y="1163" width="21" height="21" fill="#a7aed2"/>
<rect x="434" y="1163" width="21" height="21" fill="#a9a9d0"/>
<rect x="455" y="1163" width="21" height="21" fill="#b2a7cf"/>
<rect x="476" y="1163" width="21" height="21" fill="#aca4cc"/>
<rect x="497" y="1163" width="21" height="21" fill="#a5a3cb"/>
<rect x="518" y="1163" width="21" height="21" fill="#9e9fc5"/>
<rect x="539" y="1163" width="21" height="21" fill="#979ac2"/>
<rect x="560" y="1163" width="21" height="21" fill="#a4a4cc"/>
<rect x="581" y="1163" width="21" height="21" fill="#b1afd4"/>
<rect x="602" y="1163" width="21" height="21" fill="#bfb5d8"/>
<rect x="623" y="1163" width="21" height="21" fill="#c6bbd8"/>
<rect x="15" y="1184" width="21" height="21" fill="#6c86c8"/>
<rect x="36" y="1184" width="21" height="21" fill="#6584c8"/>
<rect x="57" y="1184" width="21" height="21" fill="#6484c8"/>
<rect x="78" y="1184" width="21" height="21" fill="#6289cc"/>
<rect x="99" y="1184" width="21" height="21" fill="#6893d3"/>
<rect x="120" y="1184" width="21" height="21" fill="#6e9ad6"/>
<rect x="141" y="1184" width="21" height="21" fill="#7aa2db"/>
<rect x="162" y="1184" width="21" height="21" fill="#8aa8dc"/>
<rect x="183" y="1184" width="21" height="21" fill="#a9b5df"/>
<rect x="204" y="1184" width="21" height="21" fill="#e3e2eb"/>
<rect x="225" y="1184" width="21" height="21" fill="#dad3e5"/>
<rect x="246" y="1184" width="21" height="21" fill="#bbb6d7"/>
<rect x="267" y="1184" width="21" height="21" fill="#b4b0d4"/>
<rect x="288" y="1184" width="21" height="21" fill="#b0aed0"/>
<rect x="309" y="1184" width="21" height="21" fill="#a9a8cd"/>
<rect x="330" y="1184" width="20" height="21" fill="#9d9ecb"/>
<rect x="350" y="1184" width="21" height="21" fill="#9da4cc"/>
<rect x="371" y="1184" width="21" height="21" fill="#a2aecf"/>
<rect x="392" y="1184" width="21" height="21" fill="#a5b0d0"/>
<rect x="413" y="1184" width="21" height="21" fill="#a9afd3"/>
<rect x="434" y="1184" width="21" height="21" fill="#a8a8d0"/>
<rect x="455" y="1184" width="21" height="21" fill="#a9a2cd"/>
<rect x="476" y="1184" width="42" height="21" fill="#a8a0cc"/>
<rect x="518" y="1184" width="21" height="21" fill="#a69fc8"/>
<rect x="539" y="1184" width="21" height="21" fill="#9c9ac6"/>
<rect x="560" y="1184" width="21" height="21" fill="#a7a4cc"/>
<rect x="581" y="1184" width="21" height="21" fill="#b1b0d3"/>
<rect x="602" y="1184" width="21" height="21" fill="#bfbad8"/>
<rect x="623" y="1184" width="21" height="21" fill="#c4bcd8"/>
<rect x="15" y="1205" width="21" height="21" fill="#6b87c9"/>
<rect x="36" y="1205" width="21" height="21" fill="#6282c8"/>
<rect x="57" y="1205" width="21" height="21" fill="#6484c8"/>
<rect x="78" y="1205" width="21" height="21" fill="#6489cc"/>
<rect x="99" y="1205" width="21" height="21" fill="#6a94d1"/>
<rect x="120" y="1205" width="21" height="21" fill="#749dd7"/>
<rect x="141" y="1205" width="21" height="21" fill="#769edb"/>
<rect x="162" y="1205" width="21" height="21" fill="#8faadc"/>
<rect x="183" y="1205" width="21" height="21" fill="#d7d7ec"/>
<rect x="204" y="1205" width="21" height="21" fill="#f1e8f1"/>
<rect x="225" y="1205" width="21" height="21" fill="#d9d0e4"/>
<rect x="246" y="1205" width="21" height="21" fill="#b6b0d3"/>
<rect x="267" y="1205" width="21" height="21" fill="#aaaacd"/>
<rect x="288" y="1205" width="21" height="21" fill="#a4a7c9"/>
<rect x="309" y="1205" width="21" height="21" fill="#9fa3c8"/>
<rect x="330" y="1205" width="20" height="21" fill="#989cc9"/>
<rect x="350" y="1205" width="21" height="21" fill="#9ea6cc"/>
<rect x="371" y="1205" width="21" height="21" fill="#aab5d0"/>
<rect x="392" y="1205" width="21" height="21" fill="#afb4d1"/>
<rect x="413" y="1205" width="21" height="21" fill="#b1b0d3"/>
<rect x="434" y="1205" width="21" height="21" fill="#aca8d0"/>
<rect x="455" y="1205" width="21" height="21" fill="#a8a1cc"/>
<rect x="476" y="1205" width="21" height="21" fill="#a8a0cc"/>
<rect x="497" y="1205" width="21" height="21" fill="#a8a1cc"/>
<rect x="518" y="1205" width="21" height="21" fill="#a8a0c9"/>
<rect x="539" y="1205" width="21" height="21" fill="#a49dcb"/>
<rect x="560" y="1205" width="21" height="21" fill="#aca5cc"/>
<rect x="581" y="1205" width="21" height="21" fill="#b4b3d1"/>
<rect x="602" y="1205" width="21" height="21" fill="#bebad6"/>
<rect x="623" y="1205" width="21" height="21" fill="#c3bbd7"/>
<rect x="15" y="1226" width="21" height="21" fill="#6c89cb"/>
<rect x="36" y="1226" width="21" height="21" fill="#6685c9"/>
<rect x="57" y="1226" width="21" height="21" fill="#6886c9"/>
<rect x="78" y="1226" width="21" height="21" fill="#6a8acd"/>
<rect x="99" y="1226" width="21" height="21" fill="#6b93d0"/>
<rect x="120" y="1226" width="21" height="21" fill="#719bd4"/>
<rect x="141" y="1226" width="21" height="21" fill="#93b3de"/>
<rect x="162" y="1226" width="21" height="21" fill="#b9c9e7"/>
<rect x="183" y="1226" width="21" height="21" fill="#dbdaec"/>
<rect x="204" y="1226" width="21" height="21" fill="#f4e2ed"/>
<rect x="225" y="1226" width="21" height="21" fill="#dacfe3"/>
<rect x="246" y="1226" width="21" height="21" fill="#b5afd2"/>
<rect x="267" y="1226" width="21" height="21" fill="#a5a8cc"/>
<rect x="288" y="1226" width="21" height="21" fill="#99a1c5"/>
<rect x="309" y="1226" width="21" height="21" fill="#949fc5"/>
<rect x="330" y="1226" width="20" height="21" fill="#7f92c6"/>
<rect x="350" y="1226" width="21" height="21" fill="#a3abcf"/>
<rect x="371" y="1226" width="21" height="21" fill="#afb6d4"/>
<rect x="392" y="1226" width="21" height="21" fill="#b3b8d4"/>
<rect x="413" y="1226" width="21" height="21" fill="#b0b3d4"/>
<rect x="434" y="1226" width="21" height="21" fill="#aba9d0"/>
<rect x="455" y="1226" width="21" height="21" fill="#a4a2cd"/>
<rect x="476" y="1226" width="21" height="21" fill="#a8a4cd"/>
<rect x="497" y="1226" width="21" height="21" fill="#a9a7cf"/>
<rect x="518" y="1226" width="21" height="21" fill="#a9a4cc"/>
<rect x="539" y="1226" width="21" height="21" fill="#a69ecc"/>
<rect x="560" y="1226" width="21" height="21" fill="#afa8cc"/>
<rect x="581" y="1226" width="21" height="21" fill="#b4b3cf"/>
<rect x="602" y="1226" width="21" height="21" fill="#bab4d2"/>
<rect x="623" y="1226" width="21" height="21" fill="#bfb4d4"/>
<rect x="15" y="1247" width="21" height="21" fill="#718ecc"/>
<rect x="36" y="1247" width="21" height="21" fill="#6d8ccc"/>
<rect x="57" y="1247" width="21" height="21" fill="#728fcf"/>
<rect x="78" y="1247" width="21" height="21" fill="#7996d2"/>
<rect x="99" y="1247" width="21" height="21" fill="#83a2d5"/>
<rect x="120" y="1247" width="21" height="21" fill="#8aaad9"/>
<rect x="141" y="1247" width="21" height="21" fill="#93b3de"/>
<rect x="162" y="1247" width="21" height="21" fill="#bbcbe9"/>
<rect x="183" y="1247" width="21" height="21" fill="#e3dceb"/>
<rect x="204" y="1247" width="21" height="21" fill="#f0ddea"/>
<rect x="225" y="1247" width="21" height="21" fill="#d7cee2"/>
<rect x="246" y="1247" width="21" height="21" fill="#b1aecf"/>
<rect x="267" y="1247" width="21" height="21" fill="#a1a5c9"/>
<rect x="288" y="1247" width="21" height="21" fill="#8f9ac2"/>
<rect x="309" y="1247" width="21" height="21" fill="#8796c3"/>
<rect x="330" y="1247" width="20" height="21" fill="#8696c6"/>
<rect x="350" y="1247" width="21" height="21" fill="#96a2cb"/>
<rect x="371" y="1247" width="21" height="21" fill="#b4b6d6"/>
<rect x="392" y="1247" width="21" height="21" fill="#b5bad5"/>
<rect x="413" y="1247" width="21" height="21" fill="#aeb6d3"/>
<rect x="434" y="1247" width="21" height="21" fill="#aaadd1"/>
<rect x="455" y="1247" width="21" height="21" fill="#ada7cf"/>
<rect x="476" y="1247" width="21" height="21" fill="#afa9d0"/>
<rect x="497" y="1247" width="21" height="21" fill="#b2add2"/>
<rect x="518" y="1247" width="21" height="21" fill="#b1aacf"/>
<rect x="539" y="1247" width="21" height="21" fill="#ada2cd"/>
<rect x="560" y="1247" width="21" height="21" fill="#b0a9cc"/>
<rect x="581" y="1247" width="21" height="21" fill="#b5b2ce"/>
<rect x="602" y="1247" width="21" height="21" fill="#bdb1d2"/>
<rect x="623" y="1247" width="21" height="21" fill="#c0aed4"/>
<rect x="873" y="53" width="629" height="1215" fill="#bb6796"/>
<rect x="873" y="53" width="210" height="21" fill="#55249a"/>
<rect x="1083" y="53" width="21" height="21" fill="#ae578f"/>
<rect x="1104" y="53" width="21" height="21" fill="#b1578d"/>
<rect x="1125" y="53" width="21" height="21" fill="#ac558d"/>
<rect x="1146" y="53" width="21" height="21" fill="#a04e89"/>
<rect x="1167" y="53" width="21" height="21" fill="#a04d89"/>
<rect x="1188" y="53" width="20" height="21" fill="#9e4b89"/>
<rect x="1208" y="53" width="21" height="21" fill="#9d4887"/>
<rect x="1229" y="53" width="21" height="21" fill="#9c4585"/>
<rect x="1250" y="53" width="42" height="21" fill="#9b4484"/>
<rect x="1292" y="53" width="21" height="21" fill="#9c4484"/>
<rect x="1313" y="53" width="42" height="21" fill="#9d4584"/>
<rect x="1355" y="53" width="21" height="21" fill="#9b4383"/>
<rect x="1376" y="53" width="21" height="21" fill="#994183"/>
<rect x="1397" y="53" width="21" height="21" fill="#923d80"/>
<rect x="1418" y="53" width="21" height="21" fill="#8f3b80"/>
<rect x="1439" y="53" width="21" height="21" fill="#933e82"/>
<rect x="1460" y="53" width="21" height="21" fill="#984483"/>
<rect x="1481" y="53" width="21" height="21" fill="#994683"/>
<rect x="873" y="74" width="210" height="21" fill="#55249a"/>
<rect x="1083" y="74" width="21" height="21" fill="#ae578f"/>
<rect x="1104" y="74" width="21" height="21" fill="#b0578d"/>
<rect x="1125" y="74" width="21" height="21" fill="#ac558d"/>
<rect x="1146" y="74" width="21" height="21" fill="#a04e89"/>
<rect x="1167" y="74" width="21" height="21" fill="#a04d89"/>
<rect x="1188" y="74" width="20" height="21" fill="#9e4b89"/>
<rect x="1208" y="74" width="21" height="21" fill="#9d4887"/>
<rect x="1229" y="74" width="21" height="21" fill="#9c4585"/>
<rect x="1250" y="74" width="21" height="21" fill="#9c4485"/>
<rect x="1271" y="74" width="21" height="21" fill="#9b4484"/>
<rect x="1292" y="74" width="21" height="21" fill="#9c4484"/>
<rect x="1313" y="74" width="42" height="21" fill="#9d4584"/>
<rect x="1355" y="74" width="21" height="21" fill="#9c4483"/>
<rect x="1376" y="74" width="21" height="21" fill="#994283"/>
<rect x="1397" y="74" width="21" height="21" fill="#923d80"/>
<rect x="1418" y="74" width="21" height="21" fill="#8e3b80"/>
<rect x="1439" y="74" width="21" height="21" fill="#933d82"/>
<rect x="1460" y="74" width="21" height="21" fill="#984383"/>
<rect x="1481" y="74" width="21" height="21" fill="#994583"/>
<rect x="873" y="95" width="231" height="21" fill="#55249a"/>
<rect x="1104" y="95" width="21" height="21" fill="#ab578e"/>
<rect x="1125" y="95" width="21" height="21" fill="#ab568d"/>
<rect x="1146" y="95" width="21" height="21" fill="#ac548d"/>
<rect x="1167" y="95" width="21" height="21" fill="#a54f8b"/>
<rect x="1188" y="95" width="20" height="21" fill="#9f4b89"/>
<rect x="1208" y="95" width="21" height="21" fill="#9f4988"/>
<rect x="1229" y="95" width="21" height="21" fill="#9f4787"/>
<rect x="1250" y="95" width="21" height="21" fill="#9d4586"/>
<rect x="1271" y="95" width="21" height="21" fill="#9b4485"/>
<rect x="1292" y="95" width="21" height="21" fill="#9b4484"/>
<rect x="1313" y="95" width="21" height="21" fill="#9d4585"/>
<rect x="1334" y="95" width="21" height="21" fill="#a04786"/>
<rect x="1355" y="95" width="21" height="21" fill="#a04887"/>
<rect x="1376" y="95" width="21" height="21" fill="#9b4685"/>
<rect x="1397" y="95" width="21" height="21" fill="#944082"/>
<rect x="1418" y="95" width="21" height="21" fill="#8f3c81"/>
<rect x="1439" y="95" width="21" height="21" fill="#943d83"/>
<rect x="1460" y="95" width="21" height="21" fill="#964083"/>
<rect x="1481" y="95" width="21" height="21" fill="#964382"/>
<rect x="873" y="116" width="252" height="21" fill="#55249a"/>
<rect x="1125" y="116" width="21" height="21" fill="#ad578f"/>
<rect x="1146" y="116" width="21" height="21" fill="#b25790"/>
<rect x="1167" y="116" width="21" height="21" fill="#ad538d"/>
<rect x="1188" y="116" width="20" height="21" fill="#9f4b89"/>
<rect x="1208" y="116" width="21" height="21" fill="#a04a89"/>
<rect x="1229" y="116" width="21" height="21" fill="#a24989"/>
<rect x="1250" y="116" width="21" height="21" fill="#a04787"/>
<rect x="1271" y="116" width="42" height="21" fill="#9b4485"/>
<rect x="1313" y="116" width="21" height="21" fill="#9e4786"/>
<rect x="1334" y="116" width="21" height="21" fill="#a24988"/>
<rect x="1355" y="116" width="21" height="21" fill="#a34c8a"/>
<rect x="1376" y="116" width="21" height="21" fill="#9e4987"/>
<rect x="1397" y="116" width="21" height="21" fill="#974382"/>
<rect x="1418" y="116" width="21" height="21" fill="#944083"/>
<rect x="1439" y="116" width="21" height="21" fill="#973e84"/>
<rect x="1460" y="116" width="21" height="21" fill="#973f83"/>
<rect x="1481" y="116" width="21" height="21" fill="#954182"/>
<rect x="873" y="137" width="252" height="21" fill="#55249a"/>
<rect x="1125" y="137" width="21" height="21" fill="#aa568f"/>
<rect x="1146" y="137" width="21" height="21" fill="#b35890"/>
<rect x="1167" y="137" width="21" height="21" fill="#b0558e"/>
<rect x="1188" y="137" width="20" height="21" fill="#a34d8a"/>
<rect x="1208" y="137" width="21" height="21" fill="#a24b8a"/>
<rect x="1229" y="137" width="21" height="21" fill="#a24a8a"/>
<rect x="1250" y="137" width="21" height="21" fill="#a14989"/>
<rect x="1271" y="137" width="21" height="21" fill="#9c4685"/>
<rect x="1292" y="137" width="21" height="21" fill="#9c4785"/>
<rect x="1313" y="137" width="21" height="21" fill="#a04b87"/>
<rect x="1334" y="137" width="21" height="21" fill="#a54c89"/>
<rect x="1355" y="137" width="21" height="21" fill="#a94e8b"/>
<rect x="1376" y="137" width="21" height="21" fill="#a04a87"/>
<rect x="1397" y="137" width="21" height="21" fill="#964282"/>
<rect x="1418" y="137" width="21" height="21" fill="#974183"/>
<rect x="1439" y="137" width="21" height="21" fill="#994084"/>
<rect x="1460" y="137" width="21" height="21" fill="#984083"/>
<rect x="1481" y="137" width="21" height="21" fill="#984183"/>
<rect x="873" y="158" width="273" height="21" fill="#55249a"/>
<rect x="1146" y="158" width="21" height="21" fill="#ae578f"/>
<rect x="1167" y="158" width="21" height="21" fill="#b1588f"/>
<rect x="1188" y="158" width="20" height="21" fill="#a84d8a"/>
<rect x="1208" y="158" width="21" height="21" fill="#a44b8b"/>
<rect x="1229" y="158" width="21" height="21" fill="#a34b8b"/>
<rect x="1250" y="158" width="21" height="21" fill="#a24b89"/>
<rect x="1271" y="158" width="21" height="21" fill="#9c4885"/>
<rect x="1292" y="158" width="21" height="21" fill="#9d4a86"/>
<rect x="1313" y="158" width="21" height="21" fill="#a14e89"/>
<rect x="1334" y="158" width="21" height="21" fill="#a74f8a"/>
<rect x="1355" y="158" width="21" height="21" fill="#ac508d"/>
<rect x="1376" y="158" width="21" height="21" fill="#a24a87"/>
<rect x="1397" y="158" width="21" height="21" fill="#984383"/>
<rect x="1418" y="158" width="21" height="21" fill="#994283"/>
<rect x="1439" y="158" width="21" height="21" fill="#9d4385"/>
<rect x="1460" y="158" width="21" height="21" fill="#9c4384"/>
<rect x="1481" y="158" width="21" height="21" fill="#9a4384"/>
<rect x="873" y="179" width="273" height="21" fill="#55249a"/>
<rect x="1146" y="179" width="21" height="21" fill="#aa558e"/>
<rect x="1167" y="179" width="21" height="21" fill="#b35990"/>
<rect x="1188" y="179" width="20" height="21" fill="#b2588f"/>
<rect x="1208" y="179" width="21" height="21" fill="#ad558e"/>
<rect x="1229" y="179" width="21" height="21" fill="#a8508c"/>
<rect x="1250" y="179" width="21" height="21" fill="#a7508b"/>
<rect x="1271" y="179" width="21" height="21" fill="#a54f8a"/>
<rect x="1292" y="179" width="21" height="21" fill="#a3508a"/>
<rect x="1313" y="179" width="21" height="21" fill="#a3518b"/>
<rect x="1334" y="179" width="21" height="21" fill="#a7508b"/>
<rect x="1355" y="179" width="21" height="21" fill="#ab508c"/>
<rect x="1376" y="179" width="21" height="21" fill="#a34b88"/>
<rect x="1397" y="179" width="21" height="21" fill="#994483"/>
<rect x="1418" y="179" width="21" height="21" fill="#9d4585"/>
<rect x="1439" y="179" width="21" height="21" fill="#a14787"/>
<rect x="1460" y="179" width="21" height="21" fill="#a14887"/>
<rect x="1481" y="179" width="21" height="21" fill="#9f4886"/>
<rect x="873" y="200" width="294" height="21" fill="#55249a"/>
<rect x="1167" y="200" width="21" height="21" fill="#a6548e"/>
<rect x="1188" y="200" width="20" height="21" fill="#b45c91"/>
<rect x="1208" y="200" width="21" height="21" fill="#b15b90"/>
<rect x="1229" y="200" width="21" height="21" fill="#b05a90"/>
<rect x="1250" y="200" width="21" height="21" fill="#ac568e"/>
<rect x="1271" y="200" width="21" height="21" fill="#a7528c"/>
<rect x="1292" y="200" width="21" height="21" fill="#a4518c"/>
<rect x="1313" y="200" width="21" height="21" fill="#a3518c"/>
<rect x="1334" y="200" width="21" height="21" fill="#a6518b"/>
<rect x="1355" y="200" width="21" height="21" fill="#a9518b"/>
<rect x="1376" y="200" width="21" height="21" fill="#a54d89"/>
<rect x="1397" y="200" width="21" height="21" fill="#9b4685"/>
<rect x="1418" y="200" width="21" height="21" fill="#a14a87"/>
<rect x="1439" y="200" width="21" height="21" fill="#ac538c"/>
<rect x="1460" y="200" width="21" height="21" fill="#ab538c"/>
<rect x="1481" y="200" width="21" height="21" fill="#a64f8a"/>
<rect x="873" y="221" width="315" height="21" fill="#55249a"/>
<rect x="1188" y="221" width="20" height="21" fill="#a3518c"/>
<rect x="1208" y="221" width="21" height="21" fill="#a2508c"/>
<rect x="1229" y="221" width="21" height="21" fill="#9f4f8c"/>
<rect x="1250" y="221" width="21" height="21" fill="#9b4c8c"/>
<rect x="1271" y="221" width="63" height="21" fill="#55249a"/>
<rect x="1334" y="221" width="21" height="21" fill="#a5538d"/>
<rect x="1355" y="221" width="21" height="21" fill="#a7538c"/>
<rect x="1376" y="221" width="21" height="21" fill="#a34e89"/>
<rect x="1397" y="221" width="21" height="21" fill="#9c4987"/>
<rect x="1418" y="221" width="21" height="21" fill="#a34f8b"/>
<rect x="1439" y="221" width="21" height="21" fill="#ae578e"/>
<rect x="1460" y="221" width="21" height="21" fill="#af578f"/>
<rect x="1481" y="221" width="21" height="21" fill="#ac558e"/>
<rect x="873" y="242" width="566" height="20" fill="#55249a"/>
<rect x="1439" y="242" width="21" height="20" fill="#ac588f"/>
<rect x="1460" y="242" width="21" height="20" fill="#ae5990"/>
<rect x="1481" y="242" width="21" height="20" fill="#ae5890"/>
<rect x="873" y="262" width="587" height="21" fill="#55249a"/>
<rect x="1460" y="262" width="21" height="21" fill="#9c4c8b"/>
<rect x="1481" y="262" width="21" height="21" fill="#ac568f"/>
<rect x="873" y="283" width="398" height="21" fill="#55249a"/>
<rect x="1271" y="283" width="21" height="21" fill="#8e4588"/>
<rect x="1292" y="283" width="168" height="21" fill="#55249a"/>
<rect x="1460" y="283" width="21" height="21" fill="#9d4a88"/>
<rect x="1481" y="283" width="21" height="21" fill="#a9528d"/>
<rect x="873" y="304" width="356" height="21" fill="#55249a"/>
<rect x="1229" y="304" width="21" height="21" fill="#964687"/>
<rect x="1250" y="304" width="21" height="21" fill="#9c4988"/>
<rect x="1271" y="304" width="21" height="21" fill="#9e4988"/>
<rect x="1292" y="304" width="21" height="21" fill="#994687"/>
<rect x="1313" y="304" width="21" height="21" fill="#914488"/>
<rect x="1334" y="304" width="21" height="21" fill="#8e4387"/>
<rect x="1355" y="304" width="63" height="21" fill="#55249a"/>
<rect x="1418" y="304" width="21" height="21" fill="#924083"/>
<rect x="1439" y="304" width="21" height="21" fill="#9d4987"/>
<rect x="1460" y="304" width="21" height="21" fill="#a14a87"/>
<rect x="1481" y="304" width="21" height="21" fill="#a44d8a"/>
<rect x="873" y="325" width="315" height="21" fill="#55249a"/>
<rect x="1188" y="325" width="20" height="21" fill="#984687"/>
<rect x="1208" y="325" width="21" height="21" fill="#a24d88"/>
<rect x="1229" y="325" width="21" height="21" fill="#a54f89"/>
<rect x="1250" y="325" width="21" height="21" fill="#a64f89"/>
<rect x="1271" y="325" width="21" height="21" fill="#a34b88"/>
<rect x="1292" y="325" width="21" height="21" fill="#9c4586"/>
<rect x="1313" y="325" width="21" height="21" fill="#954185"/>
<rect x="1334" y="325" width="21" height="21" fill="#8f3f83"/>
<rect x="1355" y="325" width="21" height="21" fill="#8d3d82"/>
<rect x="1376" y="325" width="21" height="21" fill="#8b3a81"/>
<rect x="1397" y="325" width="21" height="21" fill="#8a397f"/>
<rect x="1418" y="325" width="21" height="21" fill="#8e3c80"/>
<rect x="1439" y="325" width="21" height="21" fill="#944182"/>
<rect x="1460" y="325" width="21" height="21" fill="#9b4685"/>
<rect x="1481" y="325" width="21" height="21" fill="#a14a88"/>
<rect x="873" y="346" width="315" height="21" fill="#55249a"/>
<rect x="1188" y="346" width="20" height="21" fill="#9a4888"/>
<rect x="1208" y="346" width="21" height="21" fill="#a6508a"/>
<rect x="1229" y="346" width="21" height="21" fill="#a9518a"/>
<rect x="1250" y="346" width="21" height="21" fill="#a64f8a"/>
<rect x="1271" y="346" width="21" height="21" fill="#a24a89"/>
<rect x="1292" y="346" width="21" height="21" fill="#9c4586"/>
<rect x="1313" y="346" width="21" height="21" fill="#974284"/>
<rect x="1334" y="346" width="21" height="21" fill="#8d3c82"/>
<rect x="1355" y="346" width="21" height="21" fill="#8d3b80"/>
<rect x="1376" y="346" width="21" height="21" fill="#8c3980"/>
<rect x="1397" y="346" width="21" height="21" fill="#8a397f"/>
<rect x="1418" y="346" width="21" height="21" fill="#8c3c80"/>
<rect x="1439" y="346" width="21" height="21" fill="#904082"/>
<rect x="1460" y="346" width="21" height="21" fill="#984485"/>
<rect x="1481" y="346" width="21" height="21" fill="#9f4887"/>
<rect x="873" y="367" width="315" height="21" fill="#55249a"/>
<rect x="1188" y="367" width="20" height="21" fill="#984b8a"/>
<rect x="1208" y="367" width="42" height="21" fill="#a7518a"/>
<rect x="1250" y="367" width="21" height="21" fill="#a44c89"/>
<rect x="1271" y="367" width="21" height="21" fill="#a04988"/>
<rect x="1292" y="367" width="21" height="21" fill="#9b4586"/>
<rect x="1313" y="367" width="21" height="21" fill="#954182"/>
<rect x="1334" y="367" width="21" height="21" fill="#903d80"/>
<rect x="1355" y="367" width="21" height="21" fill="#8e3b7f"/>
<rect x="1376" y="367" width="21" height="21" fill="#8c3a7f"/>
<rect x="1397" y="367" width="21" height="21" fill="#88387e"/>
<rect x="1418" y="367" width="21" height="21" fill="#8c3c80"/>
<rect x="1439" y="367" width="21" height="21" fill="#8f3f82"/>
<rect x="1460" y="367" width="21" height="21" fill="#944385"/>
<rect x="1481" y="367" width="21" height="21" fill="#9b4687"/>
<rect x="873" y="388" width="315" height="21" fill="#55249a"/>
<rect x="1188" y="388" width="20" height="21" fill="#8e4489"/>
<rect x="1208" y="388" width="21" height="21" fill="#a24b89"/>
<rect x="1229" y="388" width="21" height="21" fill="#a34b89"/>
<rect x="1250" y="388" width="21" height="21" fill="#a24a89"/>
<rect x="1271" y="388" width="21" height="21" fill="#a04988"/>
<rect x="1292" y="388" width="21" height="21" fill="#9d4686"/>
<rect x="1313" y="388" width="21" height="21" fill="#984284"/>
<rect x="1334" y="388" width="21" height="21" fill="#923e81"/>
<rect x="1355" y="388" width="21" height="21" fill="#8e3c7f"/>
<rect x="1376" y="388" width="21" height="21" fill="#8c3b7e"/>
<rect x="1397" y="388" width="21" height="21" fill="#893a7d"/>
<rect x="1418" y="388" width="21" height="21" fill="#8b3c80"/>
<rect x="1439" y="388" width="21" height="21" fill="#8f3f83"/>
<rect x="1460" y="388" width="21" height="21" fill="#924185"/>
<rect x="1481" y="388" width="21" height="21" fill="#974486"/>
<rect x="873" y="409" width="294" height="21" fill="#55249a"/>
<rect x="1167" y="409" width="21" height="21" fill="#964789"/>
<rect x="1188" y="409" width="20" height="21" fill="#92458a"/>
<rect x="1208" y="409" width="21" height="21" fill="#a24b89"/>
<rect x="1229" y="409" width="21" height="21" fill="#a34b88"/>
<rect x="1250" y="409" width="42" height="21" fill="#a24b89"/>
<rect x="1292" y="409" width="21" height="21" fill="#a24a87"/>
<rect x="1313" y="409" width="21" height="21" fill="#9f4686"/>
<rect x="1334" y="409" width="21" height="21" fill="#913e81"/>
<rect x="1355" y="409" width="21" height="21" fill="#8d3c7f"/>
<rect x="1376" y="409" width="21" height="21" fill="#8c3c7e"/>
<rect x="1397" y="409" width="21" height="21" fill="#88397d"/>
<rect x="1418" y="409" width="21" height="21" fill="#8a3b7f"/>
<rect x="1439" y="409" width="21" height="21" fill="#904084"/>
<rect x="1460" y="409" width="21" height="21" fill="#924185"/>
<rect x="1481" y="409" width="21" height="21" fill="#984587"/>
<rect x="873" y="430" width="273" height="21" fill="#55249a"/>
<rect x="1146" y="430" width="21" height="21" fill="#a55189"/>
<rect x="1167" y="430" width="21" height="21" fill="#a7518a"/>
<rect x="1188" y="430" width="20" height="21" fill="#a54e8a"/>
<rect x="1208" y="430" width="21" height="21" fill="#a34d8a"/>
<rect x="1229" y="430" width="21" height="21" fill="#a14c88"/>
<rect x="1250" y="430" width="21" height="21" fill="#a24d89"/>
<rect x="1271" y="430" width="21" height="21" fill="#a34d89"/>
<rect x="1292" y="430" width="21" height="21" fill="#a34c89"/>
<rect x="1313" y="430" width="21" height="21" fill="#a04887"/>
<rect x="1334" y="430" width="21" height="21" fill="#944182"/>
<rect x="1355" y="430" width="21" height="21" fill="#8f3e80"/>
<rect x="1376" y="430" width="21" height="21" fill="#8d3d80"/>
<rect x="1397" y="430" width="21" height="21" fill="#8a3b80"/>
<rect x="1418" y="430" width="21" height="21" fill="#8f3f82"/>
<rect x="1439" y="430" width="21" height="21" fill="#924284"/>
<rect x="1460" y="430" width="21" height="21" fill="#964486"/>
<rect x="1481" y="430" width="21" height="21" fill="#9a4889"/>
<rect x="1041" y="451" width="84" height="21" fill="#55249a"/>
<rect x="1125" y="451" width="21" height="21" fill="#b0588d"/>
<rect x="1146" y="451" width="21" height="21" fill="#b2588d"/>
<rect x="1167" y="451" width="21" height="21" fill="#aa538c"/>
<rect x="1188" y="451" width="20" height="21" fill="#a74e8b"/>
<rect x="1208" y="451" width="21" height="21" fill="#a44e8a"/>
<rect x="1229" y="451" width="21" height="21" fill="#a14d89"/>
<rect x="1250" y="451" width="21" height="21" fill="#a24d89"/>
<rect x="1271" y="451" width="21" height="21" fill="#a34d89"/>
<rect x="1292" y="451" width="21" height="21" fill="#a24c89"/>
<rect x="1313" y="451" width="21" height="21" fill="#9c4785"/>
<rect x="1334" y="451" width="21" height="21" fill="#964383"/>
<rect x="1355" y="451" width="21" height="21" fill="#934281"/>
<rect x="1376" y="451" width="21" height="21" fill="#914080"/>
<rect x="1397" y="451" width="21" height="21" fill="#8d3d82"/>
<rect x="1418" y="451" width="21" height="21" fill="#934283"/>
<rect x="1439" y="451" width="21" height="21" fill="#984685"/>
<rect x="1460" y="451" width="21" height="21" fill="#a4508b"/>
<rect x="1481" y="451" width="21" height="21" fill="#a8528d"/>
<rect x="1083" y="472" width="84" height="21" fill="#55249a"/>
<rect x="1167" y="472" width="21" height="21" fill="#aa538d"/>
<rect x="1188" y="472" width="20" height="21" fill="#a74f8b"/>
<rect x="1208" y="472" width="21" height="21" fill="#a44d8a"/>
<rect x="1229" y="472" width="21" height="21" fill="#a04c88"/>
<rect x="1250" y="472" width="21" height="21" fill="#a34f89"/>
<rect x="1271" y="472" width="21" height="21" fill="#a34e89"/>
<rect x="1292" y="472" width="21" height="21" fill="#a34d89"/>
<rect x="1313" y="472" width="21" height="21" fill="#a04a87"/>
<rect x="1334" y="472" width="21" height="21" fill="#974383"/>
<rect x="1355" y="472" width="21" height="21" fill="#994383"/>
<rect x="1376" y="472" width="21" height="21" fill="#984282"/>
<rect x="1397" y="472" width="21" height="21" fill="#8d3d82"/>
<rect x="1418" y="472" width="21" height="21" fill="#934183"/>
<rect x="1439" y="472" width="21" height="21" fill="#984786"/>
<rect x="1460" y="472" width="21" height="21" fill="#a4508b"/>
<rect x="1481" y="472" width="21" height="21" fill="#a9538d"/>
<rect x="1250" y="493" width="21" height="21" fill="#7f3a89"/>
<rect x="1271" y="493" width="21" height="21" fill="#a24d89"/>
<rect x="1292" y="493" width="21" height="21" fill="#a34d89"/>
<rect x="1313" y="493" width="21" height="21" fill="#a14b87"/>
<rect x="1334" y="493" width="21" height="21" fill="#9c4584"/>
<rect x="1355" y="493" width="21" height="21" fill="#9a4283"/>
<rect x="1376" y="493" width="21" height="21" fill="#984182"/>
<rect x="1397" y="493" width="21" height="21" fill="#8e3d82"/>
<rect x="1418" y="493" width="21" height="21" fill="#934183"/>
<rect x="1439" y="493" width="21" height="21" fill="#974686"/>
<rect x="1460" y="493" width="21" height="21" fill="#a3508b"/>
<rect x="1481" y="493" width="21" height="21" fill="#a8538c"/>
<rect x="1334" y="514" width="21" height="21" fill="#793185"/>
<rect x="1355" y="514" width="21" height="21" fill="#773085"/>
<rect x="1376" y="514" width="21" height="21" fill="#762f84"/>
<rect x="1397" y="514" width="21" height="21" fill="#913e82"/>
<rect x="1418" y="514" width="21" height="21" fill="#944283"/>
<rect x="1439" y="514" width="21" height="21" fill="#974586"/>
<rect x="1460" y="514" width="21" height="21" fill="#a35089"/>
<rect x="1481" y="514" width="21" height="21" fill="#a5518a"/>
<rect x="1460" y="535" width="42" height="21" fill="#7b3b86"/>
<rect x="873" y="765" width="147" height="21" fill="#55249a"/>
<rect x="873" y="786" width="147" height="21" fill="#55249a"/>
<rect x="873" y="807" width="356" height="21" fill="#55249a"/>
<rect x="873" y="828" width="294" height="21" fill="#55249a"/>
<rect x="1167" y="828" width="21" height="21" fill="#a6518b"/>
<rect x="1188" y="828" width="20" height="21" fill="#a6508a"/>
<rect x="1208" y="828" width="21" height="21" fill="#55249a"/>
<rect x="873" y="849" width="273" height="21" fill="#55249a"/>
<rect x="1146" y="849" width="21" height="21" fill="#99508c"/>
<rect x="1167" y="849" width="21" height="21" fill="#aa558d"/>
<rect x="1188" y="849" width="20" height="21" fill="#aa548d"/>
<rect x="1208" y="849" width="21" height="21" fill="#a9538d"/>
<rect x="1229" y="849" width="21" height="21" fill="#a7508b"/>
<rect x="1250" y="849" width="21" height="21" fill="#a44c87"/>
<rect x="1271" y="849" width="21" height="21" fill="#9f4785"/>
<rect x="1292" y="849" width="21" height="21" fill="#9e4684"/>
<rect x="1313" y="849" width="21" height="21" fill="#7b3787"/>
<rect x="1334" y="849" width="21" height="21" fill="#7c3889"/>
<rect x="1355" y="849" width="21" height="21" fill="#7e3a8b"/>
<rect x="1376" y="849" width="21" height="21" fill="#7d398a"/>
<rect x="1397" y="849" width="21" height="21" fill="#7b3789"/>
<rect x="1418" y="849" width="21" height="21" fill="#793689"/>
<rect x="873" y="870" width="273" height="21" fill="#55249a"/>
<rect x="1146" y="870" width="21" height="21" fill="#ad5a90"/>
<rect x="1167" y="870" width="21" height="21" fill="#b05990"/>
<rect x="1188" y="870" width="20" height="21" fill="#ad568f"/>
<rect x="1208" y="870" width="21" height="21" fill="#ac558e"/>
<rect x="1229" y="870" width="21" height="21" fill="#a9518c"/>
<rect x="1250" y="870" width="21" height="21" fill="#a44c87"/>
<rect x="1271" y="870" width="21" height="21" fill="#9d4685"/>
<rect x="1292" y="870" width="21" height="21" fill="#9b4484"/>
<rect x="1313" y="870" width="21" height="21" fill="#9b4485"/>
<rect x="1334" y="870" width="21" height="21" fill="#a04987"/>
<rect x="1355" y="870" width="21" height="21" fill="#a64e8a"/>
<rect x="1376" y="870" width="21" height="21" fill="#a74c89"/>
<rect x="1397" y="870" width="21" height="21" fill="#a34986"/>
<rect x="1418" y="870" width="21" height="21" fill="#783689"/>
<rect x="873" y="891" width="273" height="21" fill="#55249a"/>
<rect x="1146" y="891" width="21" height="21" fill="#b26092"/>
<rect x="1167" y="891" width="21" height="21" fill="#b66093"/>
<rect x="1188" y="891" width="20" height="21" fill="#b86093"/>
<rect x="1208" y="891" width="21" height="21" fill="#b35b90"/>
<rect x="1229" y="891" width="21" height="21" fill="#ad548d"/>
<rect x="1250" y="891" width="21" height="21" fill="#a54c88"/>
<rect x="1271" y="891" width="21" height="21" fill="#9d4685"/>
<rect x="1292" y="891" width="21" height="21" fill="#9a4584"/>
<rect x="1313" y="891" width="21" height="21" fill="#994585"/>
<rect x="1334" y="891" width="21" height="21" fill="#9e4987"/>
<rect x="1355" y="891" width="21" height="21" fill="#a8508b"/>
<rect x="1376" y="891" width="21" height="21" fill="#a64d89"/>
<rect x="1397" y="891" width="21" height="21" fill="#9f4685"/>
<rect x="1418" y="891" width="21" height="21" fill="#9b4383"/>
<rect x="1439" y="891" width="42" height="21" fill="#984282"/>
<rect x="1481" y="891" width="21" height="21" fill="#9b4483"/>
<rect x="873" y="912" width="273" height="21" fill="#55249a"/>
<rect x="1146" y="912" width="21" height="21" fill="#b86595"/>
<rect x="1167" y="912" width="21" height="21" fill="#ba6695"/>
<rect x="1188" y="912" width="20" height="21" fill="#ba6595"/>
<rect x="1208" y="912" width="21" height="21" fill="#b76093"/>
<rect x="1229" y="912" width="21" height="21" fill="#b0558e"/>
<rect x="1250" y="912" width="21" height="21" fill="#a34b87"/>
<rect x="1271" y="912" width="21" height="21" fill="#9e4685"/>
<rect x="1292" y="912" width="21" height="21" fill="#994585"/>
<rect x="1313" y="912" width="21" height="21" fill="#994685"/>
<rect x="1334" y="912" width="21" height="21" fill="#a04c88"/>
<rect x="1355" y="912" width="21" height="21" fill="#a6508a"/>
<rect x="1376" y="912" width="21" height="21" fill="#a14b89"/>
<rect x="1397" y="912" width="21" height="21" fill="#974284"/>
<rect x="1418" y="912" width="21" height="21" fill="#974183"/>
<rect x="1439" y="912" width="21" height="21" fill="#964082"/>
<rect x="1460" y="912" width="21" height="21" fill="#994282"/>
<rect x="1481" y="912" width="21" height="21" fill="#9b4583"/>
<rect x="873" y="933" width="294" height="21" fill="#55249a"/>
<rect x="1167" y="933" width="21" height="21" fill="#af5f93"/>
<rect x="1188" y="933" width="20" height="21" fill="#b36194"/>
<rect x="1208" y="933" width="21" height="21" fill="#b35b91"/>
<rect x="1229" y="933" width="21" height="21" fill="#af548d"/>
<rect x="1250" y="933" width="21" height="21" fill="#a14a87"/>
<rect x="1271" y="933" width="21" height="21" fill="#9e4885"/>
<rect x="1292" y="933" width="21" height="21" fill="#994685"/>
<rect x="1313" y="933" width="21" height="21" fill="#9a4685"/>
<rect x="1334" y="933" width="21" height="21" fill="#9f4986"/>
<rect x="1355" y="933" width="21" height="21" fill="#a44c88"/>
<rect x="1376" y="933" width="21" height="21" fill="#9a4585"/>
<rect x="1397" y="933" width="21" height="21" fill="#944082"/>
<rect x="1418" y="933" width="21" height="21" fill="#954082"/>
<rect x="1439" y="933" width="21" height="21" fill="#974283"/>
<rect x="1460" y="933" width="21" height="21" fill="#9d4684"/>
<rect x="1481" y="933" width="21" height="21" fill="#9e4783"/>
<rect x="873" y="954" width="315" height="21" fill="#55249a"/>
<rect x="1188" y="954" width="20" height="21" fill="#a05890"/>
<rect x="1208" y="954" width="21" height="21" fill="#a5548e"/>
<rect x="1229" y="954" width="21" height="21" fill="#a74e8b"/>
<rect x="1250" y="954" width="21" height="21" fill="#a14a87"/>
<rect x="1271" y="954" width="21" height="21" fill="#9e4985"/>
<rect x="1292" y="954" width="21" height="21" fill="#984584"/>
<rect x="1313" y="954" width="21" height="21" fill="#954284"/>
<rect x="1334" y="954" width="21" height="21" fill="#9a4484"/>
<rect x="1355" y="954" width="21" height="21" fill="#994384"/>
<rect x="1376" y="954" width="21" height="21" fill="#944182"/>
<rect x="1397" y="954" width="21" height="21" fill="#8e3e7f"/>
<rect x="1418" y="954" width="21" height="21" fill="#954181"/>
<rect x="1439" y="954" width="21" height="21" fill="#9b4584"/>
<rect x="1460" y="954" width="21" height="21" fill="#9d4684"/>
<rect x="1481" y="954" width="21" height="21" fill="#9e4883"/>
<rect x="873" y="975" width="294" height="21" fill="#55249a"/>
<rect x="1167" y="975" width="21" height="21" fill="#a95b90"/>
<rect x="1188" y="975" width="20" height="21" fill="#a75a90"/>
<rect x="1208" y="975" width="21" height="21" fill="#a9558e"/>
<rect x="1229" y="975" width="21" height="21" fill="#a64c8a"/>
<rect x="1250" y="975" width="21" height="21" fill="#a34a87"/>
<rect x="1271" y="975" width="21" height="21" fill="#9e4985"/>
<rect x="1292" y="975" width="21" height="21" fill="#984484"/>
<rect x="1313" y="975" width="21" height="21" fill="#944083"/>
<rect x="1334" y="975" width="21" height="21" fill="#964183"/>
<rect x="1355" y="975" width="21" height="21" fill="#944082"/>
<rect x="1376" y="975" width="21" height="21" fill="#913e80"/>
<rect x="1397" y="975" width="21" height="21" fill="#8e3d7f"/>
<rect x="1418" y="975" width="21" height="21" fill="#954182"/>
<rect x="1439" y="975" width="21" height="21" fill="#9b4584"/>
<rect x="1460" y="975" width="21" height="21" fill="#9c4685"/>
<rect x="1481" y="975" width="21" height="21" fill="#9e4785"/>
<rect x="873" y="996" width="294" height="21" fill="#55249a"/>
<rect x="1167" y="996" width="21" height="21" fill="#ad5b8f"/>
<rect x="1188" y="996" width="20" height="21" fill="#ac598f"/>
<rect x="1208" y="996" width="21" height="21" fill="#a9538c"/>
<rect x="1229" y="996" width="21" height="21" fill="#a64c89"/>
<rect x="1250" y="996" width="21" height="21" fill="#a44a87"/>
<rect x="1271" y="996" width="21" height="21" fill="#9f4985"/>
<rect x="1292" y="996" width="21" height="21" fill="#984383"/>
<rect x="1313" y="996" width="21" height="21" fill="#933f82"/>
<rect x="1334" y="996" width="21" height="21" fill="#903e80"/>
<rect x="1355" y="996" width="42" height="21" fill="#8d3b7f"/>
<rect x="1397" y="996" width="21" height="21" fill="#8e3c7f"/>
<rect x="1418" y="996" width="21" height="21" fill="#954182"/>
<rect x="1439" y="996" width="21" height="21" fill="#9f4886"/>
<rect x="1460" y="996" width="21" height="21" fill="#9d4787"/>
<rect x="1481" y="996" width="21" height="21" fill="#9c4787"/>
<rect x="873" y="1017" width="294" height="21" fill="#55249a"/>
<rect x="1167" y="1017" width="21" height="21" fill="#ad5a8f"/>
<rect x="1188" y="1017" width="20" height="21" fill="#ac598f"/>
<rect x="1208" y="1017" width="21" height="21" fill="#a8528c"/>
<rect x="1229" y="1017" width="21" height="21" fill="#a64c89"/>
<rect x="1250" y="1017" width="21" height="21" fill="#a44a87"/>
<rect x="1271" y="1017" width="21" height="21" fill="#9e4785"/>
<rect x="1292" y="1017" width="21" height="21" fill="#974283"/>
<rect x="1313" y="1017" width="21" height="21" fill="#903d82"/>
<rect x="1334" y="1017" width="21" height="21" fill="#8c3c80"/>
<rect x="1355" y="1017" width="21" height="21" fill="#873980"/>
<rect x="1376" y="1017" width="21" height="21" fill="#8c3b7f"/>
<rect x="1397" y="1017" width="21" height="21" fill="#8f3c7f"/>
<rect x="1418" y="1017" width="21" height="21" fill="#954182"/>
<rect x="1439" y="1017" width="21" height="21" fill="#a14b87"/>
<rect x="1460" y="1017" width="21" height="21" fill="#a14a87"/>
<rect x="1481" y="1017" width="21" height="21" fill="#9f4887"/>
<rect x="873" y="1038" width="315" height="21" fill="#55249a"/>
<rect x="1188" y="1038" width="20" height="21" fill="#a1518c"/>
<rect x="1208" y="1038" width="21" height="21" fill="#a3508b"/>
<rect x="1229" y="1038" width="21" height="21" fill="#9a4485"/>
<rect x="1250" y="1038" width="21" height="21" fill="#984384"/>
<rect x="1271" y="1038" width="21" height="21" fill="#924082"/>
<rect x="1292" y="1038" width="21" height="21" fill="#913f82"/>
<rect x="1313" y="1038" width="21" height="21" fill="#8b3a81"/>
<rect x="1334" y="1038" width="21" height="21" fill="#893980"/>
<rect x="1355" y="1038" width="21" height="21" fill="#82367e"/>
<rect x="1376" y="1038" width="21" height="21" fill="#8c3c7f"/>
<rect x="1397" y="1038" width="21" height="21" fill="#8e3c7f"/>
<rect x="1418" y="1038" width="21" height="21" fill="#964383"/>
<rect x="1439" y="1038" width="21" height="21" fill="#9e4a86"/>
<rect x="1460" y="1038" width="21" height="21" fill="#a04a87"/>
<rect x="1481" y="1038" width="21" height="21" fill="#a14886"/>
<rect x="873" y="1059" width="294" height="20" fill="#55249a"/>
<rect x="1167" y="1059" width="21" height="20" fill="#91498c"/>
<rect x="1188" y="1059" width="20" height="20" fill="#91478a"/>
<rect x="1208" y="1059" width="21" height="20" fill="#914387"/>
<rect x="1229" y="1059" width="21" height="20" fill="#944385"/>
<rect x="1250" y="1059" width="21" height="20" fill="#944284"/>
<rect x="1271" y="1059" width="21" height="20" fill="#8e3f83"/>
<rect x="1292" y="1059" width="21" height="20" fill="#8d3e83"/>
<rect x="1313" y="1059" width="21" height="20" fill="#8d3d83"/>
<rect x="1334" y="1059" width="21" height="20" fill="#8b3b82"/>
<rect x="1355" y="1059" width="21" height="20" fill="#81357e"/>
<rect x="1376" y="1059" width="21" height="20" fill="#8b3a7f"/>
<rect x="1397" y="1059" width="21" height="20" fill="#8d3b7f"/>
<rect x="1418" y="1059" width="21" height="20" fill="#944182"/>
<rect x="1439" y="1059" width="21" height="20" fill="#9a4784"/>
<rect x="1460" y="1059" width="21" height="20" fill="#9c4785"/>
<rect x="1481" y="1059" width="21" height="20" fill="#9e4786"/>
<rect x="873" y="1079" width="273" height="21" fill="#55249a"/>
<rect x="1146" y="1079" width="21" height="21" fill="#97488a"/>
<rect x="1167" y="1079" width="21" height="21" fill="#9e4988"/>
<rect x="1188" y="1079" width="20" height="21" fill="#9c4989"/>
<rect x="1208" y="1079" width="21" height="21" fill="#914285"/>
<rect x="1229" y="1079" width="42" height="21" fill="#8f4084"/>
<rect x="1271" y="1079" width="21" height="21" fill="#914184"/>
<rect x="1292" y="1079" width="21" height="21" fill="#934184"/>
<rect x="1313" y="1079" width="21" height="21" fill="#924184"/>
<rect x="1334" y="1079" width="21" height="21" fill="#903f83"/>
<rect x="1355" y="1079" width="21" height="21" fill="#84377f"/>
<rect x="1376" y="1079" width="21" height="21" fill="#883980"/>
<rect x="1397" y="1079" width="21" height="21" fill="#8d3b80"/>
<rect x="1418" y="1079" width="21" height="21" fill="#944182"/>
<rect x="1439" y="1079" width="21" height="21" fill="#984483"/>
<rect x="1460" y="1079" width="21" height="21" fill="#9a4585"/>
<rect x="1481" y="1079" width="21" height="21" fill="#9d4786"/>
<rect x="873" y="1100" width="252" height="21" fill="#55249a"/>
<rect x="1125" y="1100" width="21" height="21" fill="#9b4e8c"/>
<rect x="1146" y="1100" width="21" height="21" fill="#a34e8a"/>
<rect x="1167" y="1100" width="21" height="21" fill="#a14b88"/>
<rect x="1188" y="1100" width="20" height="21" fill="#9e4988"/>
<rect x="1208" y="1100" width="21" height="21" fill="#924184"/>
<rect x="1229" y="1100" width="21" height="21" fill="#914183"/>
<rect x="1250" y="1100" width="21" height="21" fill="#934183"/>
<rect x="1271" y="1100" width="42" height="21" fill="#974383"/>
<rect x="1313" y="1100" width="21" height="21" fill="#984484"/>
<rect x="1334" y="1100" width="21" height="21" fill="#954183"/>
<rect x="1355" y="1100" width="21" height="21" fill="#8f3d81"/>
<rect x="1376" y="1100" width="21" height="21" fill="#8b3b80"/>
<rect x="1397" y="1100" width="21" height="21" fill="#8c3b80"/>
<rect x="1418" y="1100" width="21" height="21" fill="#974283"/>
<rect x="1439" y="1100" width="21" height="21" fill="#9b4584"/>
<rect x="1460" y="1100" width="21" height="21" fill="#9d4786"/>
<rect x="1481" y="1100" width="21" height="21" fill="#9f4887"/>
<rect x="873" y="1121" width="231" height="21" fill="#55249a"/>
<rect x="1104" y="1121" width="21" height="21" fill="#a9548d"/>
<rect x="1125" y="1121" width="21" height="21" fill="#a9538d"/>
<rect x="1146" y="1121" width="21" height="21" fill="#a54f8a"/>
<rect x="1167" y="1121" width="21" height="21" fill="#a24a88"/>
<rect x="1188" y="1121" width="20" height="21" fill="#9e4786"/>
<rect x="1208" y="1121" width="21" height="21" fill="#924183"/>
<rect x="1229" y="1121" width="21" height="21" fill="#8f3f83"/>
<rect x="1250" y="1121" width="21" height="21" fill="#944083"/>
<rect x="1271" y="1121" width="21" height="21" fill="#994283"/>
<rect x="1292" y="1121" width="21" height="21" fill="#994383"/>
<rect x="1313" y="1121" width="21" height="21" fill="#9d4584"/>
<rect x="1334" y="1121" width="21" height="21" fill="#9b4383"/>
<rect x="1355" y="1121" width="21" height="21" fill="#903e82"/>
<rect x="1376" y="1121" width="21" height="21" fill="#8d3c81"/>
<rect x="1397" y="1121" width="21" height="21" fill="#8d3b80"/>
<rect x="1418" y="1121" width="21" height="21" fill="#994283"/>
<rect x="1439" y="1121" width="21" height="21" fill="#9e4685"/>
<rect x="1460" y="1121" width="21" height="21" fill="#a04786"/>
<rect x="1481" y="1121" width="21" height="21" fill="#a24987"/>
<rect x="873" y="1142" width="189" height="21" fill="#55249a"/>
<rect x="1062" y="1142" width="21" height="21" fill="#a7588e"/>
<rect x="1083" y="1142" width="21" height="21" fill="#aa568d"/>
<rect x="1104" y="1142" width="21" height="21" fill="#a9528c"/>
<rect x="1125" y="1142" width="21" height="21" fill="#a7508c"/>
<rect x="1146" y="1142" width="21" height="21" fill="#a54f8a"/>
<rect x="1167" y="1142" width="21" height="21" fill="#a24a87"/>
<rect x="1188" y="1142" width="20" height="21" fill="#9f4686"/>
<rect x="1208" y="1142" width="21" height="21" fill="#924183"/>
<rect x="1229" y="1142" width="21" height="21" fill="#904183"/>
<rect x="1250" y="1142" width="21" height="21" fill="#944183"/>
<rect x="1271" y="1142" width="21" height="21" fill="#984384"/>
<rect x="1292" y="1142" width="21" height="21" fill="#994383"/>
<rect x="1313" y="1142" width="21" height="21" fill="#9f4584"/>
<rect x="1334" y="1142" width="21" height="21" fill="#9b4383"/>
<rect x="1355" y="1142" width="21" height="21" fill="#954183"/>
<rect x="1376" y="1142" width="21" height="21" fill="#8f3d80"/>
<rect x="1397" y="1142" width="21" height="21" fill="#903d7f"/>
<rect x="1418" y="1142" width="21" height="21" fill="#984283"/>
<rect x="1439" y="1142" width="21" height="21" fill="#9d4686"/>
<rect x="1460" y="1142" width="21" height="21" fill="#a24987"/>
<rect x="1481" y="1142" width="21" height="21" fill="#a44b87"/>
<rect x="873" y="1163" width="189" height="21" fill="#55249a"/>
<rect x="1062" y="1163" width="21" height="21" fill="#ac598d"/>
<rect x="1083" y="1163" width="21" height="21" fill="#ac558c"/>
<rect x="1104" y="1163" width="21" height="21" fill="#a34b88"/>
<rect x="1125" y="1163" width="21" height="21" fill="#a24b88"/>
<rect x="1146" y="1163" width="21" height="21" fill="#a24c88"/>
<rect x="1167" y="1163" width="21" height="21" fill="#a04886"/>
<rect x="1188" y="1163" width="20" height="21" fill="#9e4585"/>
<rect x="1208" y="1163" width="21" height="21" fill="#924183"/>
<rect x="1229" y="1163" width="21" height="21" fill="#914183"/>
<rect x="1250" y="1163" width="21" height="21" fill="#934384"/>
<rect x="1271" y="1163" width="21" height="21" fill="#974586"/>
<rect x="1292" y="1163" width="21" height="21" fill="#984485"/>
<rect x="1313" y="1163" width="21" height="21" fill="#9c4384"/>
<rect x="1334" y="1163" width="21" height="21" fill="#9a4283"/>
<rect x="1355" y="1163" width="21" height="21" fill="#974183"/>
<rect x="1376" y="1163" width="21" height="21" fill="#943f80"/>
<rect x="1397" y="1163" width="21" height="21" fill="#913d7f"/>
<rect x="1418" y="1163" width="21" height="21" fill="#964283"/>
<rect x="1439" y="1163" width="21" height="21" fill="#9c4686"/>
<rect x="1460" y="1163" width="21" height="21" fill="#a24987"/>
<rect x="1481" y="1163" width="21" height="21" fill="#a54b87"/>
<rect x="873" y="1184" width="189" height="21" fill="#55249a"/>
<rect x="1062" y="1184" width="21" height="21" fill="#b05b8f"/>
<rect x="1083" y="1184" width="21" height="21" fill="#ac558c"/>
<rect x="1104" y="1184" width="21" height="21" fill="#a04987"/>
<rect x="1125" y="1184" width="21" height="21" fill="#9d4786"/>
<rect x="1146" y="1184" width="21" height="21" fill="#9b4685"/>
<rect x="1167" y="1184" width="21" height="21" fill="#984383"/>
<rect x="1188" y="1184" width="20" height="21" fill="#933f83"/>
<rect x="1208" y="1184" width="21" height="21" fill="#934183"/>
<rect x="1229" y="1184" width="21" height="21" fill="#954584"/>
<rect x="1250" y="1184" width="21" height="21" fill="#964685"/>
<rect x="1271" y="1184" width="21" height="21" fill="#984686"/>
<rect x="1292" y="1184" width="21" height="21" fill="#984385"/>
<rect x="1313" y="1184" width="21" height="21" fill="#994183"/>
<rect x="1334" y="1184" width="21" height="21" fill="#984183"/>
<rect x="1355" y="1184" width="21" height="21" fill="#984083"/>
<rect x="1376" y="1184" width="21" height="21" fill="#974081"/>
<rect x="1397" y="1184" width="21" height="21" fill="#933e81"/>
<rect x="1418" y="1184" width="21" height="21" fill="#984283"/>
<rect x="1439" y="1184" width="21" height="21" fill="#9c4786"/>
<rect x="1460" y="1184" width="21" height="21" fill="#a14b87"/>
<rect x="1481" y="1184" width="21" height="21" fill="#a34c87"/>
<rect x="873" y="1205" width="168" height="21" fill="#55249a"/>
<rect x="1041" y="1205" width="21" height="21" fill="#ab578f"/>
<rect x="1062" y="1205" width="21" height="21" fill="#b65e91"/>
<rect x="1083" y="1205" width="21" height="21" fill="#ac548c"/>
<rect x="1104" y="1205" width="21" height="21" fill="#9e4786"/>
<rect x="1125" y="1205" width="21" height="21" fill="#994483"/>
<rect x="1146" y="1205" width="21" height="21" fill="#964282"/>
<rect x="1167" y="1205" width="21" height="21" fill="#944182"/>
<rect x="1188" y="1205" width="20" height="21" fill="#913e82"/>
<rect x="1208" y="1205" width="21" height="21" fill="#934283"/>
<rect x="1229" y="1205" width="21" height="21" fill="#984885"/>
<rect x="1250" y="1205" width="21" height="21" fill="#9b4885"/>
<rect x="1271" y="1205" width="21" height="21" fill="#9c4786"/>
<rect x="1292" y="1205" width="21" height="21" fill="#9a4385"/>
<rect x="1313" y="1205" width="63" height="21" fill="#984183"/>
<rect x="1376" y="1205" width="21" height="21" fill="#984082"/>
<rect x="1397" y="1205" width="21" height="21" fill="#973f83"/>
<rect x="1418" y="1205" width="21" height="21" fill="#9a4283"/>
<rect x="1439" y="1205" width="21" height="21" fill="#9d4785"/>
<rect x="1460" y="1205" width="21" height="21" fill="#a14b87"/>
<rect x="1481" y="1205" width="21" height="21" fill="#a34b87"/>
<rect x="873" y="1226" width="168" height="21" fill="#55249a"/>
<rect x="1041" y="1226" width="21" height="21" fill="#ad588f"/>
<rect x="1062" y="1226" width="21" height="21" fill="#b75c8f"/>
<rect x="1083" y="1226" width="21" height="21" fill="#ac548b"/>
<rect x="1104" y="1226" width="21" height="21" fill="#9d4685"/>
<rect x="1125" y="1226" width="21" height="21" fill="#964383"/>
<rect x="1146" y="1226" width="21" height="21" fill="#914080"/>
<rect x="1167" y="1226" width="21" height="21" fill="#8f3f80"/>
<rect x="1188" y="1226" width="20" height="21" fill="#873981"/>
<rect x="1208" y="1226" width="21" height="21" fill="#964484"/>
<rect x="1229" y="1226" width="21" height="21" fill="#9b4986"/>
<rect x="1250" y="1226" width="21" height="21" fill="#9c4986"/>
<rect x="1271" y="1226" width="21" height="21" fill="#9b4886"/>
<rect x="1292" y="1226" width="21" height="21" fill="#994485"/>
<rect x="1313" y="1226" width="21" height="21" fill="#974183"/>
<rect x="1334" y="1226" width="21" height="21" fill="#984283"/>
<rect x="1355" y="1226" width="21" height="21" fill="#994384"/>
<rect x="1376" y="1226" width="21" height="21" fill="#984283"/>
<rect x="1397" y="1226" width="21" height="21" fill="#984083"/>
<rect x="1418" y="1226" width="21" height="21" fill="#9b4383"/>
<rect x="1439" y="1226" width="21" height="21" fill="#9d4784"/>
<rect x="1460" y="1226" width="21" height="21" fill="#9f4885"/>
<rect x="1481" y="1226" width="21" height="21" fill="#a24986"/>
<rect x="873" y="1247" width="168" height="21" fill="#55249a"/>
<rect x="1041" y="1247" width="21" height="21" fill="#b0598f"/>
<rect x="1062" y="1247" width="21" height="21" fill="#b65a8e"/>
<rect x="1083" y="1247" width="21" height="21" fill="#ab538b"/>
<rect x="1104" y="1247" width="21" height="21" fill="#9c4684"/>
<rect x="1125" y="1247" width="21" height="21" fill="#954182"/>
<rect x="1146" y="1247" width="21" height="21" fill="#8d3d7f"/>
<rect x="1167" y="1247" width="21" height="21" fill="#8a3b80"/>
<rect x="1188" y="1247" width="20" height="21" fill="#8a3b81"/>
<rect x="1208" y="1247" width="21" height="21" fill="#904083"/>
<rect x="1229" y="1247" width="21" height="21" fill="#9d4987"/>
<rect x="1250" y="1247" width="21" height="21" fill="#9d4a86"/>
<rect x="1271" y="1247" width="21" height="21" fill="#9a4986"/>
<rect x="1292" y="1247" width="21" height="21" fill="#994585"/>
<rect x="1313" y="1247" width="21" height="21" fill="#9a4384"/>
<rect x="1334" y="1247" width="21" height="21" fill="#9b4484"/>
<rect x="1355" y="1247" width="21" height="21" fill="#9c4685"/>
<rect x="1376" y="1247" width="21" height="21" fill="#9c4484"/>
<rect x="1397" y="1247" width="21" height="21" fill="#9a4183"/>
<rect x="1418" y="1247" width="21" height="21" fill="#9b4483"/>
<rect x="1439" y="1247" width="21" height="21" fill="#9d4783"/>
<rect x="1460" y="1247" width="21" height="21" fill="#a14785"/>
<rect x="1481" y="1247" width="21" height="21" fill="#a24786"/>
<rect x="1730" y="53" width="629" height="1215" fill="#bb6796"/>
<rect x="1730" y="53" width="42" height="21" fill="#731f99"/>
<rect x="1772" y="53" width="21" height="21" fill="#711d99"/>
<rect x="1793" y="53" width="21" height="21" fill="#6c1899"/>
<rect x="1814" y="53" width="21" height="21" fill="#6b1799"/>
<rect x="1835" y="53" width="21" height="21" fill="#6c1899"/>
<rect x="1856" y="53" width="21" height="21" fill="#731f99"/>
<rect x="1877" y="53" width="21" height="21" fill="#772399"/>
<rect x="1898" y="53" width="21" height="21" fill="#8f3b98"/>
<rect x="1919" y="53" width="21" height="21" fill="#ac5897"/>
<rect x="1940" y="53" width="21" height="21" fill="#bc5d8c"/>
<rect x="1961" y="53" width="21" height="21" fill="#bd4877"/>
<rect x="1982" y="53" width="21" height="21" fill="#bf3363"/>
<rect x="2003" y="53" width="21" height="21" fill="#bf2e5d"/>
<rect x="2024" y="53" width="20" height="21" fill="#bf2c5c"/>
<rect x="2044" y="53" width="21" height="21" fill="#bf2b5b"/>
<rect x="2065" y="53" width="21" height="21" fill="#bf2656"/>
<rect x="2086" y="53" width="21" height="21" fill="#c02454"/>
<rect x="2107" y="53" width="21" height="21" fill="#c02050"/>
<rect x="2128" y="53" width="231" height="21" fill="#c01f4f"/>
<rect x="1730" y="74" width="21" height="21" fill="#731f99"/>
<rect x="1751" y="74" width="21" height="21" fill="#721e99"/>
<rect x="1772" y="74" width="21" height="21" fill="#711d99"/>
<rect x="1793" y="74" width="21" height="21" fill="#6c1899"/>
<rect x="1814" y="74" width="21" height="21" fill="#6b1799"/>
<rect x="1835" y="74" width="21" height="21" fill="#6c1899"/>
<rect x="1856" y="74" width="21" height="21" fill="#721e99"/>
<rect x="1877" y="74" width="21" height="21" fill="#742099"/>
<rect x="1898" y="74" width="21" height="21" fill="#8f3b98"/>
<rect x="1919" y="74" width="21" height="21" fill="#ac5897"/>
<rect x="1940" y="74" width="21" height="21" fill="#bc5d8c"/>
<rect x="1961" y="74" width="21" height="21" fill="#bd4877"/>
<rect x="1982" y="74" width="21" height="21" fill="#bf3363"/>
<rect x="2003" y="74" width="21" height="21" fill="#bf2f5e"/>
<rect x="2024" y="74" width="20" height="21" fill="#bf2c5c"/>
<rect x="2044" y="74" width="21" height="21" fill="#bf2b5b"/>
<rect x="2065" y="74" width="21" height="21" fill="#bf2656"/>
<rect x="2086" y="74" width="21" height="21" fill="#c02454"/>
<rect x="2107" y="74" width="21" height="21" fill="#c0204f"/>
<rect x="2128" y="74" width="231" height="21" fill="#c01f4f"/>
<rect x="1730" y="95" width="21" height="21" fill="#701c99"/>
<rect x="1751" y="95" width="42" height="21" fill="#6c1899"/>
<rect x="1793" y="95" width="42" height="21" fill="#6b1799"/>
<rect x="1835" y="95" width="21" height="21" fill="#6c1899"/>
<rect x="1856" y="95" width="21" height="21" fill="#711d99"/>
<rect x="1877" y="95" width="21" height="21" fill="#742099"/>
<rect x="1898" y="95" width="21" height="21" fill="#772399"/>
<rect x="1919" y="95" width="21" height="21" fill="#8a3698"/>
<rect x="1940" y="95" width="21" height="21" fill="#b15d96"/>
<rect x="1961" y="95" width="21" height="21" fill="#bc5d8c"/>
<rect x="1982" y="95" width="21" height="21" fill="#bd4d7c"/>
<rect x="2003" y="95" width="21" height="21" fill="#be3464"/>
<rect x="2024" y="95" width="20" height="21" fill="#bf2d5d"/>
<rect x="2044" y="95" width="21" height="21" fill="#bf2a5a"/>
<rect x="2065" y="95" width="21" height="21" fill="#bf2656"/>
<rect x="2086" y="95" width="21" height="21" fill="#c02453"/>
<rect x="2107" y="95" width="21" height="21" fill="#c0204f"/>
<rect x="2128" y="95" width="126" height="21" fill="#c01f4f"/>
<rect x="2254" y="95" width="21" height="21" fill="#c0204f"/>
<rect x="2275" y="95" width="84" height="21" fill="#c01f4f"/>
<rect x="1730" y="116" width="21" height="21" fill="#6a1699"/>
<rect x="1751" y="116" width="21" height="21" fill="#661299"/>
<rect x="1772" y="116" width="21" height="21" fill="#6a1699"/>
<rect x="1793" y="116" width="63" height="21" fill="#6b1799"/>
<rect x="1856" y="116" width="21" height="21" fill="#6d1999"/>
<rect x="1877" y="116" width="21" height="21" fill="#711d99"/>
<rect x="1898" y="116" width="21" height="21" fill="#731f99"/>
<rect x="1919" y="116" width="21" height="21" fill="#711d99"/>
<rect x="1940" y="116" width="21" height="21" fill="#8f3b98"/>
<rect x="1961" y="116" width="21" height="21" fill="#b15d96"/>
<rect x="1982" y="116" width="21" height="21" fill="#bc5282"/>
<rect x="2003" y="116" width="21" height="21" fill="#be3f6e"/>
<rect x="2024" y="116" width="20" height="21" fill="#bf2d5c"/>
<rect x="2044" y="116" width="21" height="21" fill="#bf2757"/>
<rect x="2065" y="116" width="21" height="21" fill="#c02454"/>
<rect x="2086" y="116" width="21" height="21" fill="#c02050"/>
<rect x="2107" y="116" width="63" height="21" fill="#c01f4f"/>
<rect x="2170" y="116" width="63" height="21" fill="#c0204f"/>
<rect x="2233" y="116" width="21" height="21" fill="#c02050"/>
<rect x="2254" y="116" width="21" height="21" fill="#c02352"/>
<rect x="2275" y="116" width="21" height="21" fill="#c0204f"/>
<rect x="2296" y="116" width="63" height="21" fill="#c01f4f"/>
<rect x="1730" y="137" width="21" height="21" fill="#6b1799"/>
<rect x="1751" y="137" width="21" height="21" fill="#6a1699"/>
<rect x="1772" y="137" width="84" height="21" fill="#6b1799"/>
<rect x="1856" y="137" width="21" height="21" fill="#6a1699"/>
<rect x="1877" y="137" width="21" height="21" fill="#6b1799"/>
<rect x="1898" y="137" width="42" height="21" fill="#6c1899"/>
<rect x="1940" y="137" width="21" height="21" fill="#8f3b98"/>
<rect x="1961" y="137" width="21" height="21" fill="#9d4997"/>
<rect x="1982" y="137" width="21" height="21" fill="#bc5887"/>
<rect x="2003" y="137" width="21" height="21" fill="#bd4878"/>
<rect x="2024" y="137" width="20" height="21" fill="#be3665"/>
<rect x="2044" y="137" width="21" height="21" fill="#bf2555"/>
<rect x="2065" y="137" width="21" height="21" fill="#c02454"/>
<rect x="2086" y="137" width="21" height="21" fill="#c0204f"/>
<rect x="2107" y="137" width="21" height="21" fill="#c01f4f"/>
<rect x="2128" y="137" width="21" height="21" fill="#c0204f"/>
<rect x="2149" y="137" width="21" height="21" fill="#c02050"/>
<rect x="2170" y="137" width="21" height="21" fill="#c02453"/>
<rect x="2191" y="137" width="63" height="21" fill="#c02454"/>
<rect x="2254" y="137" width="21" height="21" fill="#c02453"/>
<rect x="2275" y="137" width="21" height="21" fill="#c0204f"/>
<rect x="2296" y="137" width="63" height="21" fill="#c01f4f"/>
<rect x="1730" y="158" width="105" height="21" fill="#6b1799"/>
<rect x="1835" y="158" width="21" height="21" fill="#6a1699"/>
<rect x="1856" y="158" width="42" height="21" fill="#651199"/>
<rect x="1898" y="158" width="21" height="21" fill="#6a1699"/>
<rect x="1919" y="158" width="21" height="21" fill="#6b1799"/>
<rect x="1940" y="158" width="21" height="21" fill="#6c1899"/>
<rect x="1961" y="158" width="21" height="21" fill="#711d99"/>
<rect x="1982" y="158" width="21" height="21" fill="#b15d96"/>
<rect x="2003" y="158" width="21" height="21" fill="#bc5282"/>
<rect x="2024" y="158" width="20" height="21" fill="#be3f6e"/>
<rect x="2044" y="158" width="21" height="21" fill="#bf2555"/>
<rect x="2065" y="158" width="21" height="21" fill="#c02454"/>
<rect x="2086" y="158" width="42" height="21" fill="#c02050"/>
<rect x="2128" y="158" width="21" height="21" fill="#c02353"/>
<rect x="2149" y="158" width="21" height="21" fill="#c02454"/>
<rect x="2170" y="158" width="21" height="21" fill="#bf2555"/>
<rect x="2191" y="158" width="42" height="21" fill="#bf2656"/>
<rect x="2233" y="158" width="21" height="21" fill="#bf2555"/>
<rect x="2254" y="158" width="21" height="21" fill="#c02151"/>
<rect x="2275" y="158" width="42" height="21" fill="#c0204f"/>
<rect x="2317" y="158" width="42" height="21" fill="#c01f4f"/>
<rect x="1730" y="179" width="126" height="21" fill="#6b1799"/>
<rect x="1856" y="179" width="42" height="21" fill="#6a1699"/>
<rect x="1898" y="179" width="42" height="21" fill="#6b1799"/>
<rect x="1940" y="179" width="21" height="21" fill="#6c1899"/>
<rect x="1961" y="179" width="21" height="21" fill="#711d99"/>
<rect x="1982" y="179" width="21" height="21" fill="#b15d96"/>
<rect x="2003" y="179" width="21" height="21" fill="#bc5887"/>
<rect x="2024" y="179" width="20" height="21" fill="#bd4373"/>
<rect x="2044" y="179" width="42" height="21" fill="#be3665"/>
<rect x="2086" y="179" width="21" height="21" fill="#bf2f5f"/>
<rect x="2107" y="179" width="21" height="21" fill="#bf2f5e"/>
<rect x="2128" y="179" width="21" height="21" fill="#bf3363"/>
<rect x="2149" y="179" width="21" height="21" fill="#be3665"/>
<rect x="2170" y="179" width="21" height="21" fill="#bf3363"/>
<rect x="2191" y="179" width="21" height="21" fill="#bf2d5c"/>
<rect x="2212" y="179" width="21" height="21" fill="#bf2b5b"/>
<rect x="2233" y="179" width="21" height="21" fill="#bf2a59"/>
<rect x="2254" y="179" width="42" height="21" fill="#bf2555"/>
<rect x="2296" y="179" width="21" height="21" fill="#c02454"/>
<rect x="2317" y="179" width="21" height="21" fill="#c02050"/>
<rect x="2338" y="179" width="21" height="21" fill="#c01f4f"/>
<rect x="1730" y="200" width="147" height="21" fill="#6b1799"/>
<rect x="1877" y="200" width="21" height="21" fill="#6c1899"/>
<rect x="1898" y="200" width="42" height="21" fill="#6b1799"/>
<rect x="1940" y="200" width="21" height="21" fill="#6c1899"/>
<rect x="1961" y="200" width="21" height="21" fill="#701c99"/>
<rect x="1982" y="200" width="42" height="21" fill="#a24e97"/>
<rect x="2024" y="200" width="20" height="21" fill="#bc5d8c"/>
<rect x="2044" y="200" width="21" height="21" fill="#bd4373"/>
<rect x="2065" y="200" width="21" height="21" fill="#be3d6d"/>
<rect x="2086" y="200" width="21" height="21" fill="#be3767"/>
<rect x="2107" y="200" width="21" height="21" fill="#be3a6a"/>
<rect x="2128" y="200" width="42" height="21" fill="#bc5282"/>
<rect x="2170" y="200" width="21" height="21" fill="#bd507f"/>
<rect x="2191" y="200" width="21" height="21" fill="#bd4878"/>
<rect x="2212" y="200" width="21" height="21" fill="#be4171"/>
<rect x="2233" y="200" width="21" height="21" fill="#be3d6c"/>
<rect x="2254" y="200" width="21" height="21" fill="#be3665"/>
<rect x="2275" y="200" width="21" height="21" fill="#bf2d5c"/>
<rect x="2296" y="200" width="21" height="21" fill="#bf2a59"/>
<rect x="2317" y="200" width="21" height="21" fill="#c02454"/>
<rect x="2338" y="200" width="21" height="21" fill="#c02050"/>
<rect x="1730" y="221" width="126" height="21" fill="#6b1799"/>
<rect x="1856" y="221" width="21" height="21" fill="#6d1999"/>
<rect x="1877" y="221" width="21" height="21" fill="#711d99"/>
<rect x="1898" y="221" width="21" height="21" fill="#6c1899"/>
<rect x="1919" y="221" width="42" height="21" fill="#6b1799"/>
<rect x="1961" y="221" width="21" height="21" fill="#6d1999"/>
<rect x="1982" y="221" width="42" height="21" fill="#8a3698"/>
<rect x="2024" y="221" width="20" height="21" fill="#b15d96"/>
<rect x="2044" y="221" width="21" height="21" fill="#bc5887"/>
<rect x="2065" y="221" width="21" height="21" fill="#bc5282"/>
<rect x="2086" y="221" width="42" height="21" fill="#bd4d7c"/>
<rect x="2128" y="221" width="63" height="21" fill="#b15d96"/>
<rect x="2191" y="221" width="63" height="21" fill="#bc5d8c"/>
<rect x="2254" y="221" width="21" height="21" fill="#bc5a89"/>
<rect x="2275" y="221" width="21" height="21" fill="#bc5282"/>
<rect x="2296" y="221" width="21" height="21" fill="#bd4b7a"/>
<rect x="2317" y="221" width="21" height="21" fill="#bd4675"/>
<rect x="2338" y="221" width="21" height="21" fill="#bd4373"/>
<rect x="1730" y="242" width="105" height="20" fill="#6b1799"/>
<rect x="1835" y="242" width="21" height="20" fill="#6c1899"/>
<rect x="1856" y="242" width="21" height="20" fill="#711d99"/>
<rect x="1877" y="242" width="21" height="20" fill="#772399"/>
<rect x="1898" y="242" width="42" height="20" fill="#6b1799"/>
<rect x="1940" y="242" width="21" height="20" fill="#6c1899"/>
<rect x="1961" y="242" width="21" height="20" fill="#6f1b99"/>
<rect x="1982" y="242" width="21" height="20" fill="#6a1699"/>
<rect x="2003" y="242" width="21" height="20" fill="#661299"/>
<rect x="2024" y="242" width="20" height="20" fill="#731f99"/>
<rect x="2044" y="242" width="21" height="20" fill="#893598"/>
<rect x="2065" y="242" width="21" height="20" fill="#8a3698"/>
<rect x="2086" y="242" width="21" height="20" fill="#893598"/>
<rect x="2107" y="242" width="21" height="20" fill="#873398"/>
<rect x="2128" y="242" width="21" height="20" fill="#772399"/>
<rect x="2149" y="242" width="21" height="20" fill="#792599"/>
<rect x="2170" y="242" width="21" height="20" fill="#7b2799"/>
<rect x="2191" y="242" width="21" height="20" fill="#8f3b98"/>
<rect x="2212" y="242" width="21" height="20" fill="#913d98"/>
<rect x="2233" y="242" width="42" height="20" fill="#933f98"/>
<rect x="2275" y="242" width="21" height="20" fill="#a24e97"/>
<rect x="2296" y="242" width="21" height="20" fill="#bc5d8c"/>
<rect x="2317" y="242" width="21" height="20" fill="#bc5988"/>
<rect x="2338" y="242" width="21" height="20" fill="#bc5282"/>
<rect x="1730" y="262" width="126" height="21" fill="#6b1799"/>
<rect x="1856" y="262" width="21" height="21" fill="#6c1899"/>
<rect x="1877" y="262" width="21" height="21" fill="#691599"/>
<rect x="1898" y="262" width="63" height="21" fill="#6b1799"/>
<rect x="1961" y="262" width="21" height="21" fill="#6c1899"/>
<rect x="1982" y="262" width="42" height="21" fill="#6b1799"/>
<rect x="2024" y="262" width="20" height="21" fill="#701c99"/>
<rect x="2044" y="262" width="21" height="21" fill="#873398"/>
<rect x="2065" y="262" width="21" height="21" fill="#893598"/>
<rect x="2086" y="262" width="21" height="21" fill="#8a3698"/>
<rect x="2107" y="262" width="21" height="21" fill="#8c3898"/>
<rect x="2128" y="262" width="42" height="21" fill="#8f3b98"/>
<rect x="2170" y="262" width="21" height="21" fill="#7b2799"/>
<rect x="2191" y="262" width="21" height="21" fill="#792599"/>
<rect x="2212" y="262" width="21" height="21" fill="#7b2799"/>
<rect x="2233" y="262" width="21" height="21" fill="#7d2999"/>
<rect x="2254" y="262" width="21" height="21" fill="#7f2b98"/>
<rect x="2275" y="262" width="21" height="21" fill="#a24e97"/>
<rect x="2296" y="262" width="21" height="21" fill="#bc5a89"/>
<rect x="2317" y="262" width="21" height="21" fill="#bc5584"/>
<rect x="2338" y="262" width="21" height="21" fill="#bd4d7c"/>
<rect x="1730" y="283" width="42" height="21" fill="#6b1799"/>
<rect x="1772" y="283" width="63" height="21" fill="#6c1899"/>
<rect x="1835" y="283" width="21" height="21" fill="#6b1799"/>
<rect x="1856" y="283" width="21" height="21" fill="#6a1699"/>
<rect x="1877" y="283" width="21" height="21" fill="#661299"/>
<rect x="1898" y="283" width="21" height="21" fill="#6a1699"/>
<rect x="1919" y="283" width="42" height="21" fill="#6b1799"/>
<rect x="1961" y="283" width="21" height="21" fill="#6a1699"/>
<rect x="1982" y="283" width="42" height="21" fill="#6b1799"/>
<rect x="2024" y="283" width="20" height="21" fill="#6c1899"/>
<rect x="2044" y="283" width="21" height="21" fill="#6d1999"/>
<rect x="2065" y="283" width="21" height="21" fill="#731f99"/>
<rect x="2086" y="283" width="21" height="21" fill="#772399"/>
<rect x="2107" y="283" width="21" height="21" fill="#8f3b98"/>
<rect x="2128" y="283" width="21" height="21" fill="#b15d96"/>
<rect x="2149" y="283" width="21" height="21" fill="#9d4997"/>
<rect x="2170" y="283" width="21" height="21" fill="#792599"/>
<rect x="2191" y="283" width="21" height="21" fill="#742099"/>
<rect x="2212" y="283" width="21" height="21" fill="#6d1999"/>
<rect x="2233" y="283" width="42" height="21" fill="#6b1799"/>
<rect x="2275" y="283" width="21" height="21" fill="#8a3698"/>
<rect x="2296" y="283" width="21" height="21" fill="#b15d96"/>
<rect x="2317" y="283" width="21" height="21" fill="#bc5887"/>
<rect x="2338" y="283" width="21" height="21" fill="#bc5282"/>
<rect x="1730" y="304" width="21" height="21" fill="#6c1899"/>
<rect x="1751" y="304" width="21" height="21" fill="#6d1999"/>
<rect x="1772" y="304" width="21" height="21" fill="#711d99"/>
<rect x="1793" y="304" width="21" height="21" fill="#721e99"/>
<rect x="1814" y="304" width="21" height="21" fill="#711d99"/>
<rect x="1835" y="304" width="21" height="21" fill="#6d1999"/>
<rect x="1856" y="304" width="21" height="21" fill="#6b1799"/>
<rect x="1877" y="304" width="21" height="21" fill="#6a1699"/>
<rect x="1898" y="304" width="42" height="21" fill="#6b1799"/>
<rect x="1940" y="304" width="21" height="21" fill="#6a1699"/>
<rect x="1961" y="304" width="21" height="21" fill="#651199"/>
<rect x="1982" y="304" width="21" height="21" fill="#6a1699"/>
<rect x="2003" y="304" width="21" height="21" fill="#6b1799"/>
<rect x="2024" y="304" width="20" height="21" fill="#964298"/>
<rect x="2044" y="304" width="21" height="21" fill="#933f98"/>
<rect x="2065" y="304" width="21" height="21" fill="#b15d96"/>
<rect x="2086" y="304" width="21" height="21" fill="#bc5887"/>
<rect x="2107" y="304" width="21" height="21" fill="#bc5282"/>
<rect x="2128" y="304" width="21" height="21" fill="#bd4d7c"/>
<rect x="2149" y="304" width="21" height="21" fill="#bc5282"/>
<rect x="2170" y="304" width="21" height="21" fill="#bc5887"/>
<rect x="2191" y="304" width="21" height="21" fill="#b15d96"/>
<rect x="2212" y="304" width="63" height="21" fill="#9d4997"/>
<rect x="2275" y="304" width="21" height="21" fill="#b15d96"/>
<rect x="2296" y="304" width="21" height="21" fill="#bd4d7c"/>
<rect x="2317" y="304" width="21" height="21" fill="#bd4878"/>
<rect x="2338" y="304" width="21" height="21" fill="#bd4373"/>
<rect x="1730" y="325" width="21" height="21" fill="#711d99"/>
<rect x="1751" y="325" width="21" height="21" fill="#721e99"/>
<rect x="1772" y="325" width="63" height="21" fill="#731f99"/>
<rect x="1835" y="325" width="21" height="21" fill="#711d99"/>
<rect x="1856" y="325" width="21" height="21" fill="#6c1899"/>
<rect x="1877" y="325" width="63" height="21" fill="#6b1799"/>
<rect x="1940" y="325" width="21" height="21" fill="#6a1699"/>
<rect x="1961" y="325" width="21" height="21" fill="#630f9a"/>
<rect x="1982" y="325" width="21" height="21" fill="#6a1699"/>
<rect x="2003" y="325" width="21" height="21" fill="#6b1799"/>
<rect x="2024" y="325" width="20" height="21" fill="#9f4b97"/>
<rect x="2044" y="325" width="21" height="21" fill="#a75397"/>
<rect x="2065" y="325" width="21" height="21" fill="#bd4d7c"/>
<rect x="2086" y="325" width="21" height="21" fill="#bf3363"/>
<rect x="2107" y="325" width="42" height="21" fill="#be3464"/>
<rect x="2149" y="325" width="21" height="21" fill="#be3665"/>
<rect x="2170" y="325" width="21" height="21" fill="#be3f6e"/>
<rect x="2191" y="325" width="42" height="21" fill="#bd4675"/>
<rect x="2233" y="325" width="21" height="21" fill="#be3f6e"/>
<rect x="2254" y="325" width="21" height="21" fill="#be3d6c"/>
<rect x="2275" y="325" width="21" height="21" fill="#be3665"/>
<rect x="2296" y="325" width="21" height="21" fill="#bf3262"/>
<rect x="2317" y="325" width="21" height="21" fill="#bf2b5b"/>
<rect x="2338" y="325" width="21" height="21" fill="#bf2757"/>
<rect x="1730" y="346" width="105" height="21" fill="#731f99"/>
<rect x="1835" y="346" width="21" height="21" fill="#711d99"/>
<rect x="1856" y="346" width="21" height="21" fill="#6c1899"/>
<rect x="1877" y="346" width="42" height="21" fill="#6b1799"/>
<rect x="1919" y="346" width="21" height="21" fill="#6a1699"/>
<rect x="1940" y="346" width="21" height="21" fill="#681499"/>
<rect x="1961" y="346" width="21" height="21" fill="#630f9a"/>
<rect x="1982" y="346" width="21" height="21" fill="#6a1699"/>
<rect x="2003" y="346" width="21" height="21" fill="#6b1799"/>
<rect x="2024" y="346" width="20" height="21" fill="#a65297"/>
<rect x="2044" y="346" width="21" height="21" fill="#ac5897"/>
<rect x="2065" y="346" width="21" height="21" fill="#bd4b7a"/>
<rect x="2086" y="346" width="21" height="21" fill="#bf2f5f"/>
<rect x="2107" y="346" width="21" height="21" fill="#bf2d5d"/>
<rect x="2128" y="346" width="63" height="21" fill="#bf2d5c"/>
<rect x="2191" y="346" width="21" height="21" fill="#bf3363"/>
<rect x="2212" y="346" width="42" height="21" fill="#be3665"/>
<rect x="2254" y="346" width="21" height="21" fill="#bf2e5d"/>
<rect x="2275" y="346" width="21" height="21" fill="#bf2d5d"/>
<rect x="2296" y="346" width="21" height="21" fill="#bf2d5c"/>
<rect x="2317" y="346" width="21" height="21" fill="#bf2757"/>
<rect x="2338" y="346" width="21" height="21" fill="#bf2555"/>
<rect x="1730" y="367" width="84" height="21" fill="#731f99"/>
<rect x="1814" y="367" width="21" height="21" fill="#721e99"/>
<rect x="1835" y="367" width="21" height="21" fill="#6e1a99"/>
<rect x="1856" y="367" width="42" height="21" fill="#6c1899"/>
<rect x="1898" y="367" width="21" height="21" fill="#6a1699"/>
<rect x="1919" y="367" width="63" height="21" fill="#630f9a"/>
<rect x="1982" y="367" width="21" height="21" fill="#691599"/>
<rect x="2003" y="367" width="21" height="21" fill="#6b1799"/>
<rect x="2024" y="367" width="20" height="21" fill="#a24e97"/>
<rect x="2044" y="367" width="21" height="21" fill="#bc5887"/>
<rect x="2065" y="367" width="21" height="21" fill="#bd4877"/>
<rect x="2086" y="367" width="21" height="21" fill="#bf3262"/>
<rect x="2107" y="367" width="21" height="21" fill="#bf2d5c"/>
<rect x="2128" y="367" width="21" height="21" fill="#bf2757"/>
<rect x="2149" y="367" width="42" height="21" fill="#bf2656"/>
<rect x="2191" y="367" width="42" height="21" fill="#bf2555"/>
<rect x="2233" y="367" width="21" height="21" fill="#bf2656"/>
<rect x="2254" y="367" width="21" height="21" fill="#bf2b5b"/>
<rect x="2275" y="367" width="21" height="21" fill="#bf2c5c"/>
<rect x="2296" y="367" width="21" height="21" fill="#bf2b5b"/>
<rect x="2317" y="367" width="21" height="21" fill="#bf2656"/>
<rect x="2338" y="367" width="21" height="21" fill="#bf2555"/>
<rect x="1730" y="388" width="105" height="21" fill="#731f99"/>
<rect x="1835" y="388" width="42" height="21" fill="#721e99"/>
<rect x="1877" y="388" width="21" height="21" fill="#711d99"/>
<rect x="1898" y="388" width="21" height="21" fill="#6b1799"/>
<rect x="1919" y="388" width="21" height="21" fill="#630f9a"/>
<rect x="1940" y="388" width="21" height="21" fill="#681499"/>
<rect x="1961" y="388" width="21" height="21" fill="#6a1699"/>
<rect x="1982" y="388" width="21" height="21" fill="#7f2b98"/>
<rect x="2003" y="388" width="21" height="21" fill="#832f98"/>
<rect x="2024" y="388" width="20" height="21" fill="#a55197"/>
<rect x="2044" y="388" width="21" height="21" fill="#bc5282"/>
<rect x="2065" y="388" width="21" height="21" fill="#bd4a79"/>
<rect x="2086" y="388" width="21" height="21" fill="#be3464"/>
<rect x="2107" y="388" width="21" height="21" fill="#bf2d5c"/>
<rect x="2128" y="388" width="21" height="21" fill="#bf2656"/>
<rect x="2149" y="388" width="84" height="21" fill="#bf2555"/>
<rect x="2233" y="388" width="21" height="21" fill="#bf2656"/>
<rect x="2254" y="388" width="21" height="21" fill="#bf2b5b"/>
<rect x="2275" y="388" width="21" height="21" fill="#bf2c5c"/>
<rect x="2296" y="388" width="21" height="21" fill="#bf2b5b"/>
<rect x="2317" y="388" width="21" height="21" fill="#bf2656"/>
<rect x="2338" y="388" width="21" height="21" fill="#bf2555"/>
<rect x="1730" y="409" width="63" height="21" fill="#742099"/>
<rect x="1793" y="409" width="84" height="21" fill="#731f99"/>
<rect x="1877" y="409" width="21" height="21" fill="#721e99"/>
<rect x="1898" y="409" width="21" height="21" fill="#6b1799"/>
<rect x="1919" y="409" width="21" height="21" fill="#630f9a"/>
<rect x="1940" y="409" width="21" height="21" fill="#6a1699"/>
<rect x="1961" y="409" width="21" height="21" fill="#6f1b99"/>
<rect x="1982" y="409" width="21" height="21" fill="#832f98"/>
<rect x="2003" y="409" width="21" height="21" fill="#873398"/>
<rect x="2024" y="409" width="20" height="21" fill="#a75397"/>
<rect x="2044" y="409" width="21" height="21" fill="#bd4f7e"/>
<rect x="2065" y="409" width="21" height="21" fill="#bd4878"/>
<rect x="2086" y="409" width="21" height="21" fill="#be3464"/>
<rect x="2107" y="409" width="21" height="21" fill="#bf2e5d"/>
<rect x="2128" y="409" width="21" height="21" fill="#bf2757"/>
<rect x="2149" y="409" width="84" height="21" fill="#bf2555"/>
<rect x="2233" y="409" width="21" height="21" fill="#bf2656"/>
<rect x="2254" y="409" width="21" height="21" fill="#bf2a5a"/>
<rect x="2275" y="409" width="21" height="21" fill="#bf2b5b"/>
<rect x="2296" y="409" width="21" height="21" fill="#bf2a5a"/>
<rect x="2317" y="409" width="21" height="21" fill="#bf2656"/>
<rect x="2338" y="409" width="21" height="21" fill="#bf2555"/>
<rect x="1730" y="430" width="42" height="21" fill="#792599"/>
<rect x="1772" y="430" width="21" height="21" fill="#782499"/>
<rect x="1793" y="430" width="21" height="21" fill="#742099"/>
<rect x="1814" y="430" width="63" height="21" fill="#731f99"/>
<rect x="1877" y="430" width="21" height="21" fill="#711d99"/>
<rect x="1898" y="430" width="21" height="21" fill="#691599"/>
<rect x="1919" y="430" width="21" height="21" fill="#630f9a"/>
<rect x="1940" y="430" width="42" height="21" fill="#873398"/>
<rect x="1982" y="430" width="21" height="21" fill="#b15d96"/>
<rect x="2003" y="430" width="21" height="21" fill="#bc5887"/>
<rect x="2024" y="430" width="20" height="21" fill="#bc5282"/>
<rect x="2044" y="430" width="21" height="21" fill="#bd4a79"/>
<rect x="2065" y="430" width="21" height="21" fill="#be4070"/>
<rect x="2086" y="430" width="21" height="21" fill="#be3665"/>
<rect x="2107" y="430" width="21" height="21" fill="#bf3262"/>
<rect x="2128" y="430" width="21" height="21" fill="#bf2c5b"/>
<rect x="2149" y="430" width="105" height="21" fill="#bf2656"/>
<rect x="2254" y="430" width="63" height="21" fill="#bf2757"/>
<rect x="2317" y="430" width="21" height="21" fill="#bf2656"/>
<rect x="2338" y="430" width="21" height="21" fill="#bf2555"/>
<rect x="1898" y="451" width="21" height="21" fill="#630f9a"/>
<rect x="1919" y="451" width="21" height="21" fill="#610d9a"/>
<rect x="1940" y="451" width="21" height="21" fill="#873398"/>
<rect x="1961" y="451" width="21" height="21" fill="#a75397"/>
<rect x="1982" y="451" width="21" height="21" fill="#bc5d8c"/>
<rect x="2003" y="451" width="21" height="21" fill="#bd4373"/>
<rect x="2024" y="451" width="20" height="21" fill="#be4070"/>
<rect x="2044" y="451" width="21" height="21" fill="#be3767"/>
<rect x="2065" y="451" width="21" height="21" fill="#bf2f5f"/>
<rect x="2086" y="451" width="42" height="21" fill="#bf2d5d"/>
<rect x="2128" y="451" width="21" height="21" fill="#bf2b5b"/>
<rect x="2149" y="451" width="21" height="21" fill="#bf2857"/>
<rect x="2170" y="451" width="147" height="21" fill="#bf2a5a"/>
<rect x="2317" y="451" width="21" height="21" fill="#bf2a59"/>
<rect x="2338" y="451" width="21" height="21" fill="#bf2656"/>
<rect x="1940" y="472" width="21" height="21" fill="#a75397"/>
<rect x="1961" y="472" width="21" height="21" fill="#bc5d8c"/>
<rect x="1982" y="472" width="62" height="21" fill="#bd4373"/>
<rect x="2044" y="472" width="21" height="21" fill="#be3d6d"/>
<rect x="2065" y="472" width="21" height="21" fill="#be3464"/>
<rect x="2086" y="472" width="21" height="21" fill="#bf2e5d"/>
<rect x="2107" y="472" width="42" height="21" fill="#bf2c5c"/>
<rect x="2149" y="472" width="21" height="21" fill="#bf2b5b"/>
<rect x="2170" y="472" width="21" height="21" fill="#bf2a5a"/>
<rect x="2191" y="472" width="21" height="21" fill="#bf2757"/>
<rect x="2212" y="472" width="126" height="21" fill="#bf2656"/>
<rect x="2338" y="472" width="21" height="21" fill="#bf2555"/>
<rect x="2107" y="493" width="21" height="21" fill="#c11342"/>
<rect x="2128" y="493" width="21" height="21" fill="#bf2c5c"/>
<rect x="2149" y="493" width="21" height="21" fill="#bf2b5b"/>
<rect x="2170" y="493" width="21" height="21" fill="#bf2757"/>
<rect x="2191" y="493" width="63" height="21" fill="#bf2555"/>
<rect x="2254" y="493" width="42" height="21" fill="#bf2656"/>
<rect x="2296" y="493" width="63" height="21" fill="#bf2555"/>
<rect x="2191" y="514" width="63" height="21" fill="#c20030"/>
<rect x="2254" y="514" width="21" height="21" fill="#bf2a5a"/>
<rect x="2275" y="514" width="21" height="21" fill="#bf2a59"/>
<rect x="2296" y="514" width="21" height="21" fill="#bf2656"/>
<rect x="2317" y="514" width="21" height="21" fill="#c02454"/>
<rect x="2338" y="514" width="21" height="21" fill="#bf2555"/>
<rect x="2317" y="535" width="21" height="21" fill="#c02252"/>
<rect x="2338" y="535" width="21" height="21" fill="#c11342"/>
<rect x="1730" y="765" width="42" height="21" fill="#711d99"/>
<rect x="1772" y="765" width="21" height="21" fill="#742099"/>
<rect x="1793" y="765" width="21" height="21" fill="#792599"/>
<rect x="1814" y="765" width="63" height="21" fill="#7b2799"/>
<rect x="1730" y="786" width="21" height="21" fill="#6c1899"/>
<rect x="1751" y="786" width="21" height="21" fill="#6d1999"/>
<rect x="1772" y="786" width="21" height="21" fill="#731f99"/>
<rect x="1793" y="786" width="21" height="21" fill="#792599"/>
<rect x="1814" y="786" width="21" height="21" fill="#7a2699"/>
<rect x="1835" y="786" width="42" height="21" fill="#7b2799"/>
<rect x="1730" y="807" width="21" height="21" fill="#6b1799"/>
<rect x="1751" y="807" width="21" height="21" fill="#6c1899"/>
<rect x="1772" y="807" width="21" height="21" fill="#711d99"/>
<rect x="1793" y="807" width="21" height="21" fill="#731f99"/>
<rect x="1814" y="807" width="21" height="21" fill="#752199"/>
<rect x="1835" y="807" width="42" height="21" fill="#7a2699"/>
<rect x="1877" y="807" width="21" height="21" fill="#742099"/>
<rect x="1898" y="807" width="21" height="21" fill="#701c99"/>
<rect x="1919" y="807" width="21" height="21" fill="#6c1899"/>
<rect x="1940" y="807" width="42" height="21" fill="#6b1799"/>
<rect x="1982" y="807" width="21" height="21" fill="#9d4997"/>
<rect x="2003" y="807" width="21" height="21" fill="#bc5887"/>
<rect x="2024" y="807" width="20" height="21" fill="#bd4373"/>
<rect x="2044" y="807" width="42" height="21" fill="#c01f4f"/>
<rect x="1730" y="828" width="42" height="21" fill="#6c1899"/>
<rect x="1772" y="828" width="21" height="21" fill="#6d1999"/>
<rect x="1793" y="828" width="21" height="21" fill="#6e1a99"/>
<rect x="1814" y="828" width="21" height="21" fill="#731f99"/>
<rect x="1835" y="828" width="42" height="21" fill="#792599"/>
<rect x="1877" y="828" width="21" height="21" fill="#731f99"/>
<rect x="1898" y="828" width="21" height="21" fill="#6d1999"/>
<rect x="1919" y="828" width="21" height="21" fill="#6b1799"/>
<rect x="1940" y="828" width="21" height="21" fill="#6c1899"/>
<rect x="1961" y="828" width="21" height="21" fill="#6b1799"/>
<rect x="1982" y="828" width="21" height="21" fill="#9d4997"/>
<rect x="2003" y="828" width="21" height="21" fill="#bc5887"/>
<rect x="2024" y="828" width="20" height="21" fill="#bd4373"/>
<rect x="2044" y="828" width="21" height="21" fill="#be3665"/>
<rect x="2065" y="828" width="21" height="21" fill="#c02050"/>
<rect x="1730" y="849" width="21" height="21" fill="#711d99"/>
<rect x="1751" y="849" width="21" height="21" fill="#731f99"/>
<rect x="1772" y="849" width="21" height="21" fill="#721e99"/>
<rect x="1793" y="849" width="21" height="21" fill="#711d99"/>
<rect x="1814" y="849" width="21" height="21" fill="#721e99"/>
<rect x="1835" y="849" width="42" height="21" fill="#731f99"/>
<rect x="1877" y="849" width="21" height="21" fill="#721e99"/>
<rect x="1898" y="849" width="42" height="21" fill="#6c1899"/>
<rect x="1940" y="849" width="21" height="21" fill="#721e99"/>
<rect x="1961" y="849" width="21" height="21" fill="#7b2799"/>
<rect x="1982" y="849" width="21" height="21" fill="#bc5d8c"/>
<rect x="2003" y="849" width="21" height="21" fill="#bd4675"/>
<rect x="2024" y="849" width="20" height="21" fill="#be4271"/>
<rect x="2044" y="849" width="42" height="21" fill="#c02453"/>
<rect x="2086" y="849" width="42" height="21" fill="#bf2555"/>
<rect x="2128" y="849" width="21" height="21" fill="#bf2656"/>
<rect x="2149" y="849" width="21" height="21" fill="#bf2958"/>
<rect x="2170" y="849" width="42" height="21" fill="#c11342"/>
<rect x="2212" y="849" width="84" height="21" fill="#c20030"/>
<rect x="1730" y="870" width="21" height="21" fill="#752199"/>
<rect x="1751" y="870" width="21" height="21" fill="#782499"/>
<rect x="1772" y="870" width="21" height="21" fill="#731f99"/>
<rect x="1793" y="870" width="21" height="21" fill="#6d1999"/>
<rect x="1814" y="870" width="42" height="21" fill="#6c1899"/>
<rect x="1856" y="870" width="21" height="21" fill="#6d1999"/>
<rect x="1877" y="870" width="21" height="21" fill="#701c99"/>
<rect x="1898" y="870" width="21" height="21" fill="#6c1899"/>
<rect x="1919" y="870" width="21" height="21" fill="#6b1799"/>
<rect x="1940" y="870" width="21" height="21" fill="#711d99"/>
<rect x="1961" y="870" width="21" height="21" fill="#7f2b98"/>
<rect x="1982" y="870" width="21" height="21" fill="#b15d96"/>
<rect x="2003" y="870" width="21" height="21" fill="#bd4675"/>
<rect x="2024" y="870" width="20" height="21" fill="#be4271"/>
<rect x="2044" y="870" width="21" height="21" fill="#c02050"/>
<rect x="2065" y="870" width="21" height="21" fill="#c02151"/>
<rect x="2086" y="870" width="21" height="21" fill="#c02454"/>
<rect x="2107" y="870" width="42" height="21" fill="#bf2555"/>
<rect x="2149" y="870" width="21" height="21" fill="#bf2757"/>
<rect x="2170" y="870" width="21" height="21" fill="#bf2a59"/>
<rect x="2191" y="870" width="63" height="21" fill="#bf2b5b"/>
<rect x="2254" y="870" width="21" height="21" fill="#bf2a5a"/>
<rect x="2275" y="870" width="21" height="21" fill="#c20030"/>
<rect x="1730" y="891" width="21" height="21" fill="#792599"/>
<rect x="1751" y="891" width="21" height="21" fill="#7a2699"/>
<rect x="1772" y="891" width="21" height="21" fill="#731f99"/>
<rect x="1793" y="891" width="21" height="21" fill="#6c1899"/>
<rect x="1814" y="891" width="63" height="21" fill="#6b1799"/>
<rect x="1877" y="891" width="21" height="21" fill="#6c1899"/>
<rect x="1898" y="891" width="21" height="21" fill="#6a1699"/>
<rect x="1919" y="891" width="21" height="21" fill="#64109a"/>
<rect x="1940" y="891" width="21" height="21" fill="#742099"/>
<rect x="1961" y="891" width="21" height="21" fill="#7b2799"/>
<rect x="1982" y="891" width="21" height="21" fill="#b15d96"/>
<rect x="2003" y="891" width="21" height="21" fill="#bc5d8c"/>
<rect x="2024" y="891" width="20" height="21" fill="#bd4373"/>
<rect x="2044" y="891" width="21" height="21" fill="#bf2c5c"/>
<rect x="2065" y="891" width="21" height="21" fill="#bf2d5c"/>
<rect x="2086" y="891" width="21" height="21" fill="#bf2656"/>
<rect x="2107" y="891" width="63" height="21" fill="#c02454"/>
<rect x="2170" y="891" width="105" height="21" fill="#bf2555"/>
<rect x="2275" y="891" width="21" height="21" fill="#c02050"/>
<rect x="2296" y="891" width="63" height="21" fill="#c01f4f"/>
<rect x="1730" y="912" width="21" height="21" fill="#7b2799"/>
<rect x="1751" y="912" width="21" height="21" fill="#792599"/>
<rect x="1772" y="912" width="21" height="21" fill="#731f99"/>
<rect x="1793" y="912" width="21" height="21" fill="#6c1899"/>
<rect x="1814" y="912" width="84" height="21" fill="#6b1799"/>
<rect x="1898" y="912" width="21" height="21" fill="#6a1699"/>
<rect x="1919" y="912" width="21" height="21" fill="#630f9a"/>
<rect x="1940" y="912" width="21" height="21" fill="#731f99"/>
<rect x="1961" y="912" width="21" height="21" fill="#782499"/>
<rect x="1982" y="912" width="21" height="21" fill="#8f3b98"/>
<rect x="2003" y="912" width="21" height="21" fill="#b15d96"/>
<rect x="2024" y="912" width="20" height="21" fill="#bc5d8c"/>
<rect x="2044" y="912" width="21" height="21" fill="#be3d6c"/>
<rect x="2065" y="912" width="21" height="21" fill="#be3665"/>
<rect x="2086" y="912" width="21" height="21" fill="#bf2555"/>
<rect x="2107" y="912" width="21" height="21" fill="#c02151"/>
<rect x="2128" y="912" width="105" height="21" fill="#c0204f"/>
<rect x="2233" y="912" width="21" height="21" fill="#c02050"/>
<rect x="2254" y="912" width="21" height="21" fill="#c02352"/>
<rect x="2275" y="912" width="21" height="21" fill="#c0204f"/>
<rect x="2296" y="912" width="63" height="21" fill="#c01f4f"/>
<rect x="1730" y="933" width="21" height="21" fill="#782499"/>
<rect x="1751" y="933" width="21" height="21" fill="#752199"/>
<rect x="1772" y="933" width="21" height="21" fill="#711d99"/>
<rect x="1793" y="933" width="21" height="21" fill="#6c1899"/>
<rect x="1814" y="933" width="84" height="21" fill="#6b1799"/>
<rect x="1898" y="933" width="21" height="21" fill="#6a1699"/>
<rect x="1919" y="933" width="21" height="21" fill="#630f9a"/>
<rect x="1940" y="933" width="21" height="21" fill="#6a1699"/>
<rect x="1961" y="933" width="21" height="21" fill="#731f99"/>
<rect x="1982" y="933" width="21" height="21" fill="#8f3b98"/>
<rect x="2003" y="933" width="21" height="21" fill="#9d4997"/>
<rect x="2024" y="933" width="20" height="21" fill="#bc5d8c"/>
<rect x="2044" y="933" width="21" height="21" fill="#be3d6c"/>
<rect x="2065" y="933" width="21" height="21" fill="#be3766"/>
<rect x="2086" y="933" width="21" height="21" fill="#bf2c5b"/>
<rect x="2107" y="933" width="21" height="21" fill="#c02454"/>
<rect x="2128" y="933" width="21" height="21" fill="#c0204f"/>
<rect x="2149" y="933" width="105" height="21" fill="#c01f4f"/>
<rect x="2254" y="933" width="21" height="21" fill="#c0204f"/>
<rect x="2275" y="933" width="84" height="21" fill="#c01f4f"/>
<rect x="1730" y="954" width="21" height="21" fill="#742099"/>
<rect x="1751" y="954" width="21" height="21" fill="#721e99"/>
<rect x="1772" y="954" width="21" height="21" fill="#6e1a99"/>
<rect x="1793" y="954" width="21" height="21" fill="#6b1799"/>
<rect x="1814" y="954" width="63" height="21" fill="#6c1899"/>
<rect x="1877" y="954" width="21" height="21" fill="#6b1799"/>
<rect x="1898" y="954" width="21" height="21" fill="#6a1699"/>
<rect x="1919" y="954" width="42" height="21" fill="#620e9a"/>
<rect x="1961" y="954" width="21" height="21" fill="#610d9a"/>
<rect x="1982" y="954" width="42" height="21" fill="#772399"/>
<rect x="2024" y="954" width="20" height="21" fill="#ac5897"/>
<rect x="2044" y="954" width="21" height="21" fill="#bd4d7c"/>
<rect x="2065" y="954" width="21" height="21" fill="#be3d6c"/>
<rect x="2086" y="954" width="21" height="21" fill="#bf2b5b"/>
<rect x="2107" y="954" width="21" height="21" fill="#bf2555"/>
<rect x="2128" y="954" width="21" height="21" fill="#c0204f"/>
<rect x="2149" y="954" width="210" height="21" fill="#c01f4f"/>
<rect x="1730" y="975" width="63" height="21" fill="#731f99"/>
<rect x="1793" y="975" width="21" height="21" fill="#782499"/>
<rect x="1814" y="975" width="21" height="21" fill="#742099"/>
<rect x="1835" y="975" width="21" height="21" fill="#721e99"/>
<rect x="1856" y="975" width="21" height="21" fill="#711d99"/>
<rect x="1877" y="975" width="21" height="21" fill="#6d1999"/>
<rect x="1898" y="975" width="21" height="21" fill="#6a1699"/>
<rect x="1919" y="975" width="21" height="21" fill="#620e9a"/>
<rect x="1940" y="975" width="42" height="21" fill="#610d9a"/>
<rect x="1982" y="975" width="21" height="21" fill="#792599"/>
<rect x="2003" y="975" width="21" height="21" fill="#8a3698"/>
<rect x="2024" y="975" width="20" height="21" fill="#ac5897"/>
<rect x="2044" y="975" width="21" height="21" fill="#bd4877"/>
<rect x="2065" y="975" width="21" height="21" fill="#be3968"/>
<rect x="2086" y="975" width="21" height="21" fill="#bf2959"/>
<rect x="2107" y="975" width="21" height="21" fill="#c02353"/>
<rect x="2128" y="975" width="42" height="21" fill="#c01f4f"/>
<rect x="2170" y="975" width="21" height="21" fill="#c02353"/>
<rect x="2191" y="975" width="168" height="21" fill="#bf2555"/>
<rect x="1730" y="996" width="42" height="21" fill="#731f99"/>
<rect x="1772" y="996" width="21" height="21" fill="#742099"/>
<rect x="1793" y="996" width="21" height="21" fill="#792599"/>
<rect x="1814" y="996" width="21" height="21" fill="#782499"/>
<rect x="1835" y="996" width="21" height="21" fill="#742099"/>
<rect x="1856" y="996" width="21" height="21" fill="#721e99"/>
<rect x="1877" y="996" width="21" height="21" fill="#701c99"/>
<rect x="1898" y="996" width="21" height="21" fill="#691599"/>
<rect x="1919" y="996" width="21" height="21" fill="#620e9a"/>
<rect x="1940" y="996" width="42" height="21" fill="#610d9a"/>
<rect x="1982" y="996" width="21" height="21" fill="#792599"/>
<rect x="2003" y="996" width="21" height="21" fill="#893598"/>
<rect x="2024" y="996" width="20" height="21" fill="#bc5d8c"/>
<rect x="2044" y="996" width="21" height="21" fill="#bd4877"/>
<rect x="2065" y="996" width="21" height="21" fill="#be3665"/>
<rect x="2086" y="996" width="21" height="21" fill="#bf2656"/>
<rect x="2107" y="996" width="21" height="21" fill="#bf2555"/>
<rect x="2128" y="996" width="42" height="21" fill="#c01f4f"/>
<rect x="2170" y="996" width="21" height="21" fill="#c02353"/>
<rect x="2191" y="996" width="168" height="21" fill="#bf2656"/>
<rect x="1730" y="1017" width="21" height="21" fill="#742099"/>
<rect x="1751" y="1017" width="21" height="21" fill="#731f99"/>
<rect x="1772" y="1017" width="21" height="21" fill="#742099"/>
<rect x="1793" y="1017" width="21" height="21" fill="#752199"/>
<rect x="1814" y="1017" width="21" height="21" fill="#742099"/>
<rect x="1835" y="1017" width="21" height="21" fill="#721e99"/>
<rect x="1856" y="1017" width="21" height="21" fill="#6d1999"/>
<rect x="1877" y="1017" width="21" height="21" fill="#6b1799"/>
<rect x="1898" y="1017" width="21" height="21" fill="#630f9a"/>
<rect x="1919" y="1017" width="63" height="21" fill="#610d9a"/>
<rect x="1982" y="1017" width="21" height="21" fill="#752199"/>
<rect x="2003" y="1017" width="21" height="21" fill="#832f98"/>
<rect x="2024" y="1017" width="20" height="21" fill="#b15d96"/>
<rect x="2044" y="1017" width="21" height="21" fill="#bd4877"/>
<rect x="2065" y="1017" width="21" height="21" fill="#be3c6b"/>
<rect x="2086" y="1017" width="21" height="21" fill="#bf2e5e"/>
<rect x="2107" y="1017" width="42" height="21" fill="#bf2c5c"/>
<rect x="2149" y="1017" width="42" height="21" fill="#bf2b5b"/>
<rect x="2191" y="1017" width="84" height="21" fill="#bf2c5c"/>
<rect x="2275" y="1017" width="84" height="21" fill="#bf2757"/>
<rect x="1730" y="1038" width="21" height="21" fill="#772399"/>
<rect x="1751" y="1038" width="21" height="21" fill="#762299"/>
<rect x="1772" y="1038" width="42" height="21" fill="#792599"/>
<rect x="1814" y="1038" width="21" height="21" fill="#752199"/>
<rect x="1835" y="1038" width="21" height="21" fill="#721e99"/>
<rect x="1856" y="1038" width="21" height="21" fill="#6d1999"/>
<rect x="1877" y="1038" width="21" height="21" fill="#6a1699"/>
<rect x="1898" y="1038" width="21" height="21" fill="#620e9a"/>
<rect x="1919" y="1038" width="21" height="21" fill="#610d9a"/>
<rect x="1940" y="1038" width="21" height="21" fill="#620e9a"/>
<rect x="1961" y="1038" width="21" height="21" fill="#630f9a"/>
<rect x="1982" y="1038" width="21" height="21" fill="#752199"/>
<rect x="2003" y="1038" width="21" height="21" fill="#7b2799"/>
<rect x="2024" y="1038" width="20" height="21" fill="#b15d96"/>
<rect x="2044" y="1038" width="21" height="21" fill="#bd4d7c"/>
<rect x="2065" y="1038" width="21" height="21" fill="#bd4574"/>
<rect x="2086" y="1038" width="42" height="21" fill="#be3766"/>
<rect x="2128" y="1038" width="21" height="21" fill="#be3463"/>
<rect x="2149" y="1038" width="21" height="21" fill="#bf3161"/>
<rect x="2170" y="1038" width="21" height="21" fill="#be3463"/>
<rect x="2191" y="1038" width="42" height="21" fill="#be3665"/>
<rect x="2233" y="1038" width="21" height="21" fill="#be3463"/>
<rect x="2254" y="1038" width="21" height="21" fill="#bf2e5e"/>
<rect x="2275" y="1038" width="21" height="21" fill="#bf2959"/>
<rect x="2296" y="1038" width="63" height="21" fill="#bf2656"/>
<rect x="1730" y="1059" width="21" height="20" fill="#772399"/>
<rect x="1751" y="1059" width="21" height="20" fill="#792599"/>
<rect x="1772" y="1059" width="42" height="20" fill="#7b2799"/>
<rect x="1814" y="1059" width="21" height="20" fill="#792599"/>
<rect x="1835" y="1059" width="21" height="20" fill="#742099"/>
<rect x="1856" y="1059" width="21" height="20" fill="#701c99"/>
<rect x="1877" y="1059" width="21" height="20" fill="#6b1799"/>
<rect x="1898" y="1059" width="42" height="20" fill="#620e9a"/>
<rect x="1940" y="1059" width="21" height="20" fill="#681499"/>
<rect x="1961" y="1059" width="21" height="20" fill="#6a1699"/>
<rect x="1982" y="1059" width="21" height="20" fill="#8f3b98"/>
<rect x="2003" y="1059" width="21" height="20" fill="#9d4997"/>
<rect x="2024" y="1059" width="20" height="20" fill="#bc5887"/>
<rect x="2044" y="1059" width="21" height="20" fill="#bd4877"/>
<rect x="2065" y="1059" width="21" height="20" fill="#be3e6d"/>
<rect x="2086" y="1059" width="21" height="20" fill="#be3766"/>
<rect x="2107" y="1059" width="21" height="20" fill="#be3463"/>
<rect x="2128" y="1059" width="21" height="20" fill="#bf3161"/>
<rect x="2149" y="1059" width="105" height="20" fill="#bf2e5e"/>
<rect x="2254" y="1059" width="21" height="20" fill="#bf2c5c"/>
<rect x="2275" y="1059" width="21" height="20" fill="#bf2959"/>
<rect x="2296" y="1059" width="63" height="20" fill="#bf2555"/>
<rect x="1730" y="1079" width="21" height="21" fill="#792599"/>
<rect x="1751" y="1079" width="63" height="21" fill="#7b2799"/>
<rect x="1814" y="1079" width="21" height="21" fill="#792599"/>
<rect x="1835" y="1079" width="21" height="21" fill="#731f99"/>
<rect x="1856" y="1079" width="21" height="21" fill="#6d1999"/>
<rect x="1877" y="1079" width="21" height="21" fill="#681499"/>
<rect x="1898" y="1079" width="42" height="21" fill="#630f9a"/>
<rect x="1940" y="1079" width="21" height="21" fill="#6a1699"/>
<rect x="1961" y="1079" width="21" height="21" fill="#6f1b99"/>
<rect x="1982" y="1079" width="21" height="21" fill="#8f3b98"/>
<rect x="2003" y="1079" width="21" height="21" fill="#bc5887"/>
<rect x="2024" y="1079" width="20" height="21" fill="#bc5483"/>
<rect x="2044" y="1079" width="21" height="21" fill="#bd4877"/>
<rect x="2065" y="1079" width="21" height="21" fill="#be3e6d"/>
<rect x="2086" y="1079" width="21" height="21" fill="#be3766"/>
<rect x="2107" y="1079" width="21" height="21" fill="#be3463"/>
<rect x="2128" y="1079" width="21" height="21" fill="#bf2f5f"/>
<rect x="2149" y="1079" width="21" height="21" fill="#bf2e5e"/>
<rect x="2170" y="1079" width="21" height="21" fill="#bf2d5d"/>
<rect x="2191" y="1079" width="63" height="21" fill="#bf2c5c"/>
<rect x="2254" y="1079" width="21" height="21" fill="#bf2959"/>
<rect x="2275" y="1079" width="84" height="21" fill="#bf2555"/>
<rect x="1730" y="1100" width="63" height="21" fill="#7b2799"/>
<rect x="1793" y="1100" width="21" height="21" fill="#7a2699"/>
<rect x="1814" y="1100" width="21" height="21" fill="#752199"/>
<rect x="1835" y="1100" width="21" height="21" fill="#711d99"/>
<rect x="1856" y="1100" width="21" height="21" fill="#6b1799"/>
<rect x="1877" y="1100" width="21" height="21" fill="#64109a"/>
<rect x="1898" y="1100" width="42" height="21" fill="#731f99"/>
<rect x="1940" y="1100" width="21" height="21" fill="#933f98"/>
<rect x="1961" y="1100" width="21" height="21" fill="#b15d96"/>
<rect x="1982" y="1100" width="21" height="21" fill="#bc5d8c"/>
<rect x="2003" y="1100" width="21" height="21" fill="#bd4373"/>
<rect x="2024" y="1100" width="20" height="21" fill="#be3f6e"/>
<rect x="2044" y="1100" width="21" height="21" fill="#be3968"/>
<rect x="2065" y="1100" width="21" height="21" fill="#be3766"/>
<rect x="2086" y="1100" width="21" height="21" fill="#be3463"/>
<rect x="2107" y="1100" width="21" height="21" fill="#bf3060"/>
<rect x="2128" y="1100" width="21" height="21" fill="#bf2d5d"/>
<rect x="2149" y="1100" width="21" height="21" fill="#bf2c5c"/>
<rect x="2170" y="1100" width="21" height="21" fill="#bf2b5b"/>
<rect x="2191" y="1100" width="42" height="21" fill="#bf2959"/>
<rect x="2233" y="1100" width="21" height="21" fill="#bf2757"/>
<rect x="2254" y="1100" width="105" height="21" fill="#c02454"/>
<rect x="1730" y="1121" width="42" height="21" fill="#7b2799"/>
<rect x="1772" y="1121" width="21" height="21" fill="#7a2699"/>
<rect x="1793" y="1121" width="21" height="21" fill="#792599"/>
<rect x="1814" y="1121" width="21" height="21" fill="#731f99"/>
<rect x="1835" y="1121" width="21" height="21" fill="#6d1999"/>
<rect x="1856" y="1121" width="21" height="21" fill="#6a1699"/>
<rect x="1877" y="1121" width="21" height="21" fill="#64109a"/>
<rect x="1898" y="1121" width="21" height="21" fill="#731f99"/>
<rect x="1919" y="1121" width="21" height="21" fill="#832f98"/>
<rect x="1940" y="1121" width="21" height="21" fill="#b15d96"/>
<rect x="1961" y="1121" width="21" height="21" fill="#bc5d8c"/>
<rect x="1982" y="1121" width="21" height="21" fill="#be3a6a"/>
<rect x="2003" y="1121" width="21" height="21" fill="#bf2c5c"/>
<rect x="2024" y="1121" width="20" height="21" fill="#bf2a59"/>
<rect x="2044" y="1121" width="21" height="21" fill="#bf2757"/>
<rect x="2065" y="1121" width="21" height="21" fill="#bf2959"/>
<rect x="2086" y="1121" width="42" height="21" fill="#bf2c5c"/>
<rect x="2128" y="1121" width="21" height="21" fill="#bf2959"/>
<rect x="2149" y="1121" width="21" height="21" fill="#bf2656"/>
<rect x="2170" y="1121" width="84" height="21" fill="#c02353"/>
<rect x="2254" y="1121" width="105" height="21" fill="#c01f4f"/>
<rect x="1730" y="1142" width="21" height="21" fill="#7b2799"/>
<rect x="1751" y="1142" width="21" height="21" fill="#7a2699"/>
<rect x="1772" y="1142" width="21" height="21" fill="#752199"/>
<rect x="1793" y="1142" width="21" height="21" fill="#742099"/>
<rect x="1814" y="1142" width="21" height="21" fill="#721e99"/>
<rect x="1835" y="1142" width="42" height="21" fill="#6c1899"/>
<rect x="1877" y="1142" width="21" height="21" fill="#6a1699"/>
<rect x="1898" y="1142" width="21" height="21" fill="#8a3698"/>
<rect x="1919" y="1142" width="21" height="21" fill="#b15d96"/>
<rect x="1940" y="1142" width="21" height="21" fill="#bc5d8c"/>
<rect x="1961" y="1142" width="21" height="21" fill="#bd4877"/>
<rect x="1982" y="1142" width="21" height="21" fill="#be3464"/>
<rect x="2003" y="1142" width="21" height="21" fill="#bf2d5c"/>
<rect x="2024" y="1142" width="41" height="21" fill="#bf2757"/>
<rect x="2065" y="1142" width="21" height="21" fill="#bf2959"/>
<rect x="2086" y="1142" width="42" height="21" fill="#bf2e5e"/>
<rect x="2128" y="1142" width="21" height="21" fill="#bf2c5c"/>
<rect x="2149" y="1142" width="21" height="21" fill="#bf2757"/>
<rect x="2170" y="1142" width="21" height="21" fill="#c02454"/>
<rect x="2191" y="1142" width="63" height="21" fill="#c02151"/>
<rect x="2254" y="1142" width="105" height="21" fill="#c01d4d"/>
<rect x="1730" y="1163" width="21" height="21" fill="#792599"/>
<rect x="1751" y="1163" width="21" height="21" fill="#7a2699"/>
<rect x="1772" y="1163" width="21" height="21" fill="#742099"/>
<rect x="1793" y="1163" width="21" height="21" fill="#731f99"/>
<rect x="1814" y="1163" width="21" height="21" fill="#711d99"/>
<rect x="1835" y="1163" width="21" height="21" fill="#6d1999"/>
<rect x="1856" y="1163" width="42" height="21" fill="#711d99"/>
<rect x="1898" y="1163" width="21" height="21" fill="#a75397"/>
<rect x="1919" y="1163" width="21" height="21" fill="#bc5d8c"/>
<rect x="1940" y="1163" width="21" height="21" fill="#be3a6a"/>
<rect x="1961" y="1163" width="21" height="21" fill="#be3464"/>
<rect x="1982" y="1163" width="21" height="21" fill="#bf2f5e"/>
<rect x="2003" y="1163" width="21" height="21" fill="#bf2a5a"/>
<rect x="2024" y="1163" width="20" height="21" fill="#bf2656"/>
<rect x="2044" y="1163" width="21" height="21" fill="#bf2757"/>
<rect x="2065" y="1163" width="21" height="21" fill="#bf2959"/>
<rect x="2086" y="1163" width="42" height="21" fill="#bf2c5c"/>
<rect x="2128" y="1163" width="21" height="21" fill="#bf2b5b"/>
<rect x="2149" y="1163" width="21" height="21" fill="#bf2656"/>
<rect x="2170" y="1163" width="21" height="21" fill="#c02353"/>
<rect x="2191" y="1163" width="63" height="21" fill="#c01f4f"/>
<rect x="2254" y="1163" width="105" height="21" fill="#c01b4b"/>
<rect x="1730" y="1184" width="21" height="21" fill="#772399"/>
<rect x="1751" y="1184" width="21" height="21" fill="#7a2699"/>
<rect x="1772" y="1184" width="21" height="21" fill="#752199"/>
<rect x="1793" y="1184" width="21" height="21" fill="#721e99"/>
<rect x="1814" y="1184" width="21" height="21" fill="#6e1a99"/>
<rect x="1835" y="1184" width="21" height="21" fill="#6c1899"/>
<rect x="1856" y="1184" width="21" height="21" fill="#711d99"/>
<rect x="1877" y="1184" width="21" height="21" fill="#832f98"/>
<rect x="1898" y="1184" width="21" height="21" fill="#bc5d8c"/>
<rect x="1919" y="1184" width="21" height="21" fill="#bd4373"/>
<rect x="1940" y="1184" width="21" height="21" fill="#be3665"/>
<rect x="1961" y="1184" width="21" height="21" fill="#bf2e5d"/>
<rect x="1982" y="1184" width="21" height="21" fill="#bf2a5a"/>
<rect x="2003" y="1184" width="21" height="21" fill="#bf2757"/>
<rect x="2024" y="1184" width="20" height="21" fill="#bf2555"/>
<rect x="2044" y="1184" width="84" height="21" fill="#bf2757"/>
<rect x="2128" y="1184" width="21" height="21" fill="#bf2555"/>
<rect x="2149" y="1184" width="21" height="21" fill="#c02454"/>
<rect x="2170" y="1184" width="21" height="21" fill="#c02151"/>
<rect x="2191" y="1184" width="63" height="21" fill="#c01f4f"/>
<rect x="2254" y="1184" width="105" height="21" fill="#c01a4a"/>
<rect x="1730" y="1205" width="21" height="21" fill="#7b2799"/>
<rect x="1751" y="1205" width="21" height="21" fill="#802c98"/>
<rect x="1772" y="1205" width="21" height="21" fill="#7a2699"/>
<rect x="1793" y="1205" width="21" height="21" fill="#742099"/>
<rect x="1814" y="1205" width="21" height="21" fill="#711d99"/>
<rect x="1835" y="1205" width="21" height="21" fill="#6d1999"/>
<rect x="1856" y="1205" width="21" height="21" fill="#853198"/>
<rect x="1877" y="1205" width="21" height="21" fill="#832f98"/>
<rect x="1898" y="1205" width="21" height="21" fill="#bc5a89"/>
<rect x="1919" y="1205" width="21" height="21" fill="#be3f6e"/>
<rect x="1940" y="1205" width="21" height="21" fill="#be3665"/>
<rect x="1961" y="1205" width="83" height="21" fill="#bf2656"/>
<rect x="2044" y="1205" width="21" height="21" fill="#bf2959"/>
<rect x="2065" y="1205" width="21" height="21" fill="#bf2757"/>
<rect x="2086" y="1205" width="84" height="21" fill="#bf2555"/>
<rect x="2170" y="1205" width="21" height="21" fill="#c02151"/>
<rect x="2191" y="1205" width="63" height="21" fill="#c01d4d"/>
<rect x="2254" y="1205" width="105" height="21" fill="#c01948"/>
<rect x="1730" y="1226" width="21" height="21" fill="#7c2899"/>
<rect x="1751" y="1226" width="21" height="21" fill="#812d98"/>
<rect x="1772" y="1226" width="21" height="21" fill="#7b2799"/>
<rect x="1793" y="1226" width="21" height="21" fill="#742099"/>
<rect x="1814" y="1226" width="21" height="21" fill="#731f99"/>
<rect x="1835" y="1226" width="21" height="21" fill="#711d99"/>
<rect x="1856" y="1226" width="21" height="21" fill="#8c3898"/>
<rect x="1877" y="1226" width="21" height="21" fill="#8f3b98"/>
<rect x="1898" y="1226" width="21" height="21" fill="#bc5282"/>
<rect x="1919" y="1226" width="21" height="21" fill="#be3d6c"/>
<rect x="1940" y="1226" width="21" height="21" fill="#bf2d5c"/>
<rect x="1961" y="1226" width="42" height="21" fill="#bf2656"/>
<rect x="2003" y="1226" width="21" height="21" fill="#bf2a5a"/>
<rect x="2024" y="1226" width="20" height="21" fill="#bf2b5b"/>
<rect x="2044" y="1226" width="21" height="21" fill="#bf2c5c"/>
<rect x="2065" y="1226" width="21" height="21" fill="#bf2757"/>
<rect x="2086" y="1226" width="21" height="21" fill="#bf2656"/>
<rect x="2107" y="1226" width="63" height="21" fill="#bf2555"/>
<rect x="2170" y="1226" width="21" height="21" fill="#c02151"/>
<rect x="2191" y="1226" width="21" height="21" fill="#c01f4f"/>
<rect x="2212" y="1226" width="42" height="21" fill="#c01c4c"/>
<rect x="2254" y="1226" width="84" height="21" fill="#c01847"/>
<rect x="2338" y="1226" width="21" height="21" fill="#c11544"/>
<rect x="1730" y="1247" width="21" height="21" fill="#7d2999"/>
<rect x="1751" y="1247" width="21" height="21" fill="#802c98"/>
<rect x="1772" y="1247" width="21" height="21" fill="#7b2799"/>
<rect x="1793" y="1247" width="21" height="21" fill="#742099"/>
<rect x="1814" y="1247" width="42" height="21" fill="#731f99"/>
<rect x="1856" y="1247" width="21" height="21" fill="#8f3b98"/>
<rect x="1877" y="1247" width="21" height="21" fill="#b15d96"/>
<rect x="1898" y="1247" width="21" height="21" fill="#bd4d7c"/>
<rect x="1919" y="1247" width="21" height="21" fill="#be3665"/>
<rect x="1940" y="1247" width="21" height="21" fill="#bf2d5c"/>
<rect x="1961" y="1247" width="42" height="21" fill="#bf2656"/>
<rect x="2003" y="1247" width="21" height="21" fill="#bf2b5b"/>
<rect x="2024" y="1247" width="20" height="21" fill="#bf2e5d"/>
<rect x="2044" y="1247" width="21" height="21" fill="#be3e6d"/>
<rect x="2065" y="1247" width="21" height="21" fill="#bf2c5c"/>
<rect x="2086" y="1247" width="21" height="21" fill="#bf2757"/>
<rect x="2107" y="1247" width="21" height="21" fill="#bf2656"/>
<rect x="2128" y="1247" width="21" height="21" fill="#bf2757"/>
<rect x="2149" y="1247" width="21" height="21" fill="#bf2959"/>
<rect x="2170" y="1247" width="21" height="21" fill="#bf2555"/>
<rect x="2191" y="1247" width="21" height="21" fill="#c02151"/>
<rect x="2212" y="1247" width="42" height="21" fill="#c01d4d"/>
<rect x="2254" y="1247" width="63" height="21" fill="#c01847"/>
<rect x="2317" y="1247" width="42" height="21" fill="#c11342"/>
</g>
<g fill="#000"><circle cx="223.3" cy="63.3" r="1.4"/><circle cx="226.2" cy="84.3" r="1.4"/><circle cx="235.3" cy="98.3" r="1.4"/><circle cx="241.4" cy="105.4" r="1.4"/><circle cx="256.6" cy="124.2" r="1.4"/><circle cx="258.5" cy="126.2" r="1.4"/><circle cx="270.3" cy="147.2" r="1.4"/><circle cx="277.4" cy="168.8" r="1.4"/><circle cx="286.2" cy="189.3" r="1.4"/><circle cx="298.2" cy="202.3" r="1.4"/><circle cx="306.2" cy="210.4" r="1.4"/><circle cx="319.2" cy="222.4" r="1.4"/><circle cx="338.3" cy="231.2" r="1.4"/><circle cx="339.4" cy="231.2" r="1.4"/><circle cx="361.3" cy="235.3" r="1.4"/><circle cx="382.4" cy="238.3" r="1.4"/><circle cx="403.2" cy="233.4" r="1.4"/><circle cx="410.3" cy="231.4" r="1.4"/><circle cx="423.5" cy="225.5" r="1.4"/><circle cx="444.3" cy="227.5" r="1.4"/><circle cx="465.3" cy="227.5" r="1.4"/><circle cx="486.4" cy="231.4" r="1.4"/><circle cx="507.4" cy="235.3" r="1.4"/><circle cx="528.2" cy="237.3" r="1.4"/><circle cx="549.3" cy="240.5" r="1.4"/><circle cx="570.3" cy="246.3" r="1.4"/><circle cx="591.3" cy="252.5" r="1.4"/><circle cx="592.4" cy="252.5" r="1.4"/><circle cx="591.4" cy="272.0" r="1.4"/><circle cx="591.4" cy="273.2" r="1.4"/><circle cx="598.2" cy="294.3" r="1.4"/><circle cx="591.4" cy="300.4" r="1.4"/><circle cx="570.3" cy="311.4" r="1.4"/><circle cx="561.3" cy="315.4" r="1.4"/><circle cx="549.3" cy="321.5" r="1.4"/><circle cx="528.2" cy="322.5" r="1.4"/><circle cx="507.4" cy="326.4" r="1.4"/><circle cx="486.4" cy="319.3" r="1.4"/><circle cx="472.4" cy="315.4" r="1.4"/><circle cx="465.3" cy="313.4" r="1.4"/><circle cx="444.3" cy="306.3" r="1.4"/><circle cx="423.5" cy="297.5" r="1.4"/><circle cx="403.2" cy="306.3" r="1.4"/><circle cx="382.4" cy="311.4" r="1.4"/><circle cx="369.4" cy="315.4" r="1.4"/><circle cx="361.3" cy="321.5" r="1.4"/><circle cx="348.3" cy="336.4" r="1.4"/><circle cx="340.3" cy="352.3" r="1.4"/><circle cx="337.6" cy="357.5" r="1.4"/><circle cx="327.4" cy="378.5" r="1.4"/><circle cx="319.4" cy="399.4" r="1.4"/><circle cx="319.4" cy="406.5" r="1.4"/><circle cx="318.4" cy="420.4" r="1.4"/><circle cx="298.4" cy="434.5" r="1.4"/><circle cx="286.3" cy="441.7" r="1.4"/><circle cx="277.4" cy="449.4" r="1.4"/><circle cx="267.3" cy="461.5" r="1.4"/><circle cx="295.5" cy="839.7" r="1.4"/><circle cx="282.4" cy="860.4" r="1.4"/><circle cx="277.4" cy="869.5" r="1.4"/><circle cx="274.3" cy="880.6" r="1.4"/><circle cx="277.4" cy="891.4" r="1.4"/><circle cx="285.5" cy="901.4" r="1.4"/><circle cx="298.4" cy="913.5" r="1.4"/><circle cx="305.4" cy="922.5" r="1.4"/><circle cx="315.4" cy="943.5" r="1.4"/><circle cx="319.5" cy="950.5" r="1.4"/><circle cx="328.2" cy="964.4" r="1.4"/><circle cx="320.5" cy="985.5" r="1.4"/><circle cx="319.4" cy="990.5" r="1.4"/><circle cx="316.4" cy="1006.5" r="1.4"/><circle cx="319.4" cy="1021.4" r="1.4"/><circle cx="320.5" cy="1027.5" r="1.4"/><circle cx="322.4" cy="1048.5" r="1.4"/><circle cx="319.4" cy="1055.4" r="1.4"/><circle cx="311.2" cy="1069.3" r="1.4"/><circle cx="298.4" cy="1086.4" r="1.4"/><circle cx="295.2" cy="1090.6" r="1.4"/><circle cx="277.4" cy="1104.5" r="1.4"/><circle cx="267.3" cy="1111.6" r="1.4"/><circle cx="256.4" cy="1120.5" r="1.4"/><circle cx="241.3" cy="1132.3" r="1.4"/><circle cx="235.4" cy="1140.3" r="1.4"/><circle cx="224.4" cy="1153.4" r="1.4"/><circle cx="214.4" cy="1162.5" r="1.4"/><circle cx="203.4" cy="1174.4" r="1.4"/><circle cx="193.4" cy="1190.3" r="1.4"/><circle cx="192.4" cy="1195.6" r="1.4"/><circle cx="189.5" cy="1216.4" r="1.4"/><circle cx="185.4" cy="1237.4" r="1.4"/><circle cx="179.4" cy="1258.4" r="1.4"/></g>
<g fill="#000"><circle cx="1081.3" cy="63.3" r="1.4"/><circle cx="1084.2" cy="84.3" r="1.4"/><circle cx="1093.3" cy="98.3" r="1.4"/><circle cx="1099.4" cy="105.4" r="1.4"/><circle cx="1114.6" cy="124.2" r="1.4"/><circle cx="1116.5" cy="126.2" r="1.4"/><circle cx="1128.3" cy="147.2" r="1.4"/><circle cx="1135.4" cy="168.8" r="1.4"/><circle cx="1144.2" cy="189.3" r="1.4"/><circle cx="1156.2" cy="202.3" r="1.4"/><circle cx="1164.2" cy="210.4" r="1.4"/><circle cx="1177.2" cy="222.4" r="1.4"/><circle cx="1196.3" cy="231.2" r="1.4"/><circle cx="1197.4" cy="231.2" r="1.4"/><circle cx="1219.3" cy="235.3" r="1.4"/><circle cx="1240.4" cy="238.3" r="1.4"/><circle cx="1261.2" cy="233.4" r="1.4"/><circle cx="1268.3" cy="231.4" r="1.4"/><circle cx="1281.5" cy="225.5" r="1.4"/><circle cx="1302.3" cy="227.5" r="1.4"/><circle cx="1323.3" cy="227.5" r="1.4"/><circle cx="1344.4" cy="231.4" r="1.4"/><circle cx="1365.4" cy="235.3" r="1.4"/><circle cx="1386.2" cy="237.3" r="1.4"/><circle cx="1407.3" cy="240.5" r="1.4"/><circle cx="1428.3" cy="246.3" r="1.4"/><circle cx="1449.3" cy="252.5" r="1.4"/><circle cx="1450.4" cy="252.5" r="1.4"/><circle cx="1449.4" cy="272.0" r="1.4"/><circle cx="1449.4" cy="273.2" r="1.4"/><circle cx="1456.2" cy="294.3" r="1.4"/><circle cx="1449.4" cy="300.4" r="1.4"/><circle cx="1428.3" cy="311.4" r="1.4"/><circle cx="1419.3" cy="315.4" r="1.4"/><circle cx="1407.3" cy="321.5" r="1.4"/><circle cx="1386.2" cy="322.5" r="1.4"/><circle cx="1365.4" cy="326.4" r="1.4"/><circle cx="1344.4" cy="319.3" r="1.4"/><circle cx="1330.4" cy="315.4" r="1.4"/><circle cx="1323.3" cy="313.4" r="1.4"/><circle cx="1302.3" cy="306.3" r="1.4"/><circle cx="1281.5" cy="297.5" r="1.4"/><circle cx="1261.2" cy="306.3" r="1.4"/><circle cx="1240.4" cy="311.4" r="1.4"/><circle cx="1227.4" cy="315.4" r="1.4"/><circle cx="1219.3" cy="321.5" r="1.4"/><circle cx="1206.3" cy="336.4" r="1.4"/><circle cx="1198.3" cy="352.3" r="1.4"/><circle cx="1195.6" cy="357.5" r="1.4"/><circle cx="1185.4" cy="378.5" r="1.4"/><circle cx="1177.4" cy="399.4" r="1.4"/><circle cx="1177.4" cy="406.5" r="1.4"/><circle cx="1176.4" cy="420.4" r="1.4"/><circle cx="1156.4" cy="434.5" r="1.4"/><circle cx="1144.3" cy="441.7" r="1.4"/><circle cx="1135.4" cy="449.4" r="1.4"/><circle cx="1125.3" cy="461.5" r="1.4"/><circle cx="1153.5" cy="839.7" r="1.4"/><circle cx="1140.4" cy="860.4" r="1.4"/><circle cx="1135.4" cy="869.5" r="1.4"/><circle cx="1132.3" cy="880.6" r="1.4"/><circle cx="1135.4" cy="891.4" r="1.4"/><circle cx="1143.5" cy="901.4" r="1.4"/><circle cx="1156.4" cy="913.5" r="1.4"/><circle cx="1163.4" cy="922.5" r="1.4"/><circle cx="1173.4" cy="943.5" r="1.4"/><circle cx="1177.5" cy="950.5" r="1.4"/><circle cx="1186.2" cy="964.4" r="1.4"/><circle cx="1178.5" cy="985.5" r="1.4"/><circle cx="1177.4" cy="990.5" r="1.4"/><circle cx="1174.4" cy="1006.5" r="1.4"/><circle cx="1177.4" cy="1021.4" r="1.4"/><circle cx="1178.5" cy="1027.5" r="1.4"/><circle cx="1180.4" cy="1048.5" r="1.4"/><circle cx="1177.4" cy="1055.4" r="1.4"/><circle cx="1169.2" cy="1069.3" r="1.4"/><circle cx="1156.4" cy="1086.4" r="1.4"/><circle cx="1153.2" cy="1090.6" r="1.4"/><circle cx="1135.4" cy="1104.5" r="1.4"/><circle cx="1125.3" cy="1111.6" r="1.4"/><circle cx="1114.4" cy="1120.5" r="1.4"/><circle cx="1099.3" cy="1132.3" r="1.4"/><circle cx="1093.4" cy="1140.3" r="1.4"/><circle cx="1082.4" cy="1153.4" r="1.4"/><circle cx="1072.4" cy="1162.5" r="1.4"/><circle cx="1061.4" cy="1174.4" r="1.4"/><circle cx="1051.4" cy="1190.3" r="1.4"/><circle cx="1050.4" cy="1195.6" r="1.4"/><circle cx="1047.5" cy="1216.4" r="1.4"/><circle cx="1043.4" cy="1237.4" r="1.4"/><circle cx="1037.4" cy="1258.4" r="1.4"/></g>
<g fill="#000"><circle cx="1938.3" cy="63.3" r="1.4"/><circle cx="1941.2" cy="84.3" r="1.4"/><circle cx="1950.3" cy="98.3" r="1.4"/><circle cx="1956.4" cy="105.4" r="1.4"/><circle cx="1971.6" cy="124.2" r="1.4"/><circle cx="1973.5" cy="126.2" r="1.4"/><circle cx="1985.3" cy="147.2" r="1.4"/><circle cx="1992.4" cy="168.8" r="1.4"/><circle cx="2001.2" cy="189.3" r="1.4"/><circle cx="2013.2" cy="202.3" r="1.4"/><circle cx="2021.2" cy="210.4" r="1.4"/><circle cx="2034.2" cy="222.4" r="1.4"/><circle cx="2053.3" cy="231.2" r="1.4"/><circle cx="2054.4" cy="231.2" r="1.4"/><circle cx="2076.3" cy="235.3" r="1.4"/><circle cx="2097.4" cy="238.3" r="1.4"/><circle cx="2118.2" cy="233.4" r="1.4"/><circle cx="2125.3" cy="231.4" r="1.4"/><circle cx="2138.5" cy="225.5" r="1.4"/><circle cx="2159.3" cy="227.5" r="1.4"/><circle cx="2180.3" cy="227.5" r="1.4"/><circle cx="2201.4" cy="231.4" r="1.4"/><circle cx="2222.4" cy="235.3" r="1.4"/><circle cx="2243.2" cy="237.3" r="1.4"/><circle cx="2264.3" cy="240.5" r="1.4"/><circle cx="2285.3" cy="246.3" r="1.4"/><circle cx="2306.3" cy="252.5" r="1.4"/><circle cx="2307.4" cy="252.5" r="1.4"/><circle cx="2306.4" cy="272.0" r="1.4"/><circle cx="2306.4" cy="273.2" r="1.4"/><circle cx="2313.2" cy="294.3" r="1.4"/><circle cx="2306.4" cy="300.4" r="1.4"/><circle cx="2285.3" cy="311.4" r="1.4"/><circle cx="2276.3" cy="315.4" r="1.4"/><circle cx="2264.3" cy="321.5" r="1.4"/><circle cx="2243.2" cy="322.5" r="1.4"/><circle cx="2222.4" cy="326.4" r="1.4"/><circle cx="2201.4" cy="319.3" r="1.4"/><circle cx="2187.4" cy="315.4" r="1.4"/><circle cx="2180.3" cy="313.4" r="1.4"/><circle cx="2159.3" cy="306.3" r="1.4"/><circle cx="2138.5" cy="297.5" r="1.4"/><circle cx="2118.2" cy="306.3" r="1.4"/><circle cx="2097.4" cy="311.4" r="1.4"/><circle cx="2084.4" cy="315.4" r="1.4"/><circle cx="2076.3" cy="321.5" r="1.4"/><circle cx="2063.3" cy="336.4" r="1.4"/><circle cx="2055.3" cy="352.3" r="1.4"/><circle cx="2052.6" cy="357.5" r="1.4"/><circle cx="2042.4" cy="378.5" r="1.4"/><circle cx="2034.4" cy="399.4" r="1.4"/><circle cx="2034.4" cy="406.5" r="1.4"/><circle cx="2033.4" cy="420.4" r="1.4"/><circle cx="2013.4" cy="434.5" r="1.4"/><circle cx="2001.3" cy="441.7" r="1.4"/><circle cx="1992.4" cy="449.4" r="1.4"/><circle cx="1982.3" cy="461.5" r="1.4"/><circle cx="2010.5" cy="839.7" r="1.4"/><circle cx="1997.4" cy="860.4" r="1.4"/><circle cx="1992.4" cy="869.5" r="1.4"/><circle cx="1989.3" cy="880.6" r="1.4"/><circle cx="1992.4" cy="891.4" r="1.4"/><circle cx="2000.5" cy="901.4" r="1.4"/><circle cx="2013.4" cy="913.5" r="1.4"/><circle cx="2020.4" cy="922.5" r="1.4"/><circle cx="2030.4" cy="943.5" r="1.4"/><circle cx="2034.5" cy="950.5" r="1.4"/><circle cx="2043.2" cy="964.4" r="1.4"/><circle cx="2035.5" cy="985.5" r="1.4"/><circle cx="2034.4" cy="990.5" r="1.4"/><circle cx="2031.4" cy="1006.5" r="1.4"/><circle cx="2034.4" cy="1021.4" r="1.4"/><circle cx="2035.5" cy="1027.5" r="1.4"/><circle cx="2037.4" cy="1048.5" r="1.4"/><circle cx="2034.4" cy="1055.4" r="1.4"/><circle cx="2026.2" cy="1069.3" r="1.4"/><circle cx="2013.4" cy="1086.4" r="1.4"/><circle cx="2010.2" cy="1090.6" r="1.4"/><circle cx="1992.4" cy="1104.5" r="1.4"/><circle cx="1982.3" cy="1111.6" r="1.4"/><circle cx="1971.4" cy="1120.5" r="1.4"/><circle cx="1956.3" cy="1132.3" r="1.4"/><circle cx="1950.4" cy="1140.3" r="1.4"/><circle cx="1939.4" cy="1153.4" r="1.4"/><circle cx="1929.4" cy="1162.5" r="1.4"/><circle cx="1918.4" cy="1174.4" r="1.4"/><circle cx="1908.4" cy="1190.3" r="1.4"/><circle cx="1907.4" cy="1195.6" r="1.4"/><circle cx="1904.5" cy="1216.4" r="1.4"/><circle cx="1900.4" cy="1237.4" r="1.4"/><circle cx="1894.4" cy="1258.4" r="1.4"/></g>
<text x="329.5" y="41" text-anchor="middle" font-family="'DejaVu Sans','Liberation Sans',sans-serif" font-weight="bold" font-size="33.3px" fill="#000">sar2343</text>
<text x="1187.5" y="41" text-anchor="middle" font-family="'DejaVu Sans','Liberation Sans',sans-serif" font-weight="bold" font-size="33.3px" fill="#000">2007-08-02-09-55-51</text>
<text x="2044.5" y="41" text-anchor="middle" font-family="'DejaVu Sans','Liberation Sans',sans-serif" font-weight="bold" font-size="33.3px" fill="#000">L7</text>
<rect x="1145" y="671" width="346.5" height="158" rx="4" ry="4" fill="#fff" fill-opacity="0.8" stroke="#ccc" stroke-opacity="0.8" stroke-width="1.6"/>
<rect x="1152" y="680.3" width="43.5" height="15.6" fill="#fd8d3c"/>
<text x="1210.9" y="695.9" font-family="'DejaVu Sans','Liberation Sans',sans-serif" font-size="20.83px" fill="#000">sand</text>
<rect x="1152" y="710.6" width="43.5" height="15.6" fill="#ccffff"/>
<text x="1210.9" y="726.2" font-family="'DejaVu Sans','Liberation Sans',sans-serif" font-size="20.83px" fill="#000">whitewater</text>
<rect x="1152" y="741.0" width="43.5" height="15.6" fill="#005bff"/>
<text x="1210.9" y="756.6" font-family="'DejaVu Sans','Liberation Sans',sans-serif" font-size="20.83px" fill="#000">water</text>
<line x1="1152" x2="1197" y1="779.4" y2="779.4" stroke="#000" stroke-width="3.1"/>
<text x="1210.9" y="786.9" font-family="'DejaVu Sans','Liberation Sans',sans-serif" font-size="20.83px" fill="#000">shoreline</text>
<rect x="1152" y="801.6" width="43.5" height="15.6" fill="#9c2a30"/>
<text x="1210.9" y="817.2" font-family="'DejaVu Sans','Liberation Sans',sans-serif" font-size="20.83px" fill="#000">reference shoreline buffer</text>
</svg>
</body></html>
